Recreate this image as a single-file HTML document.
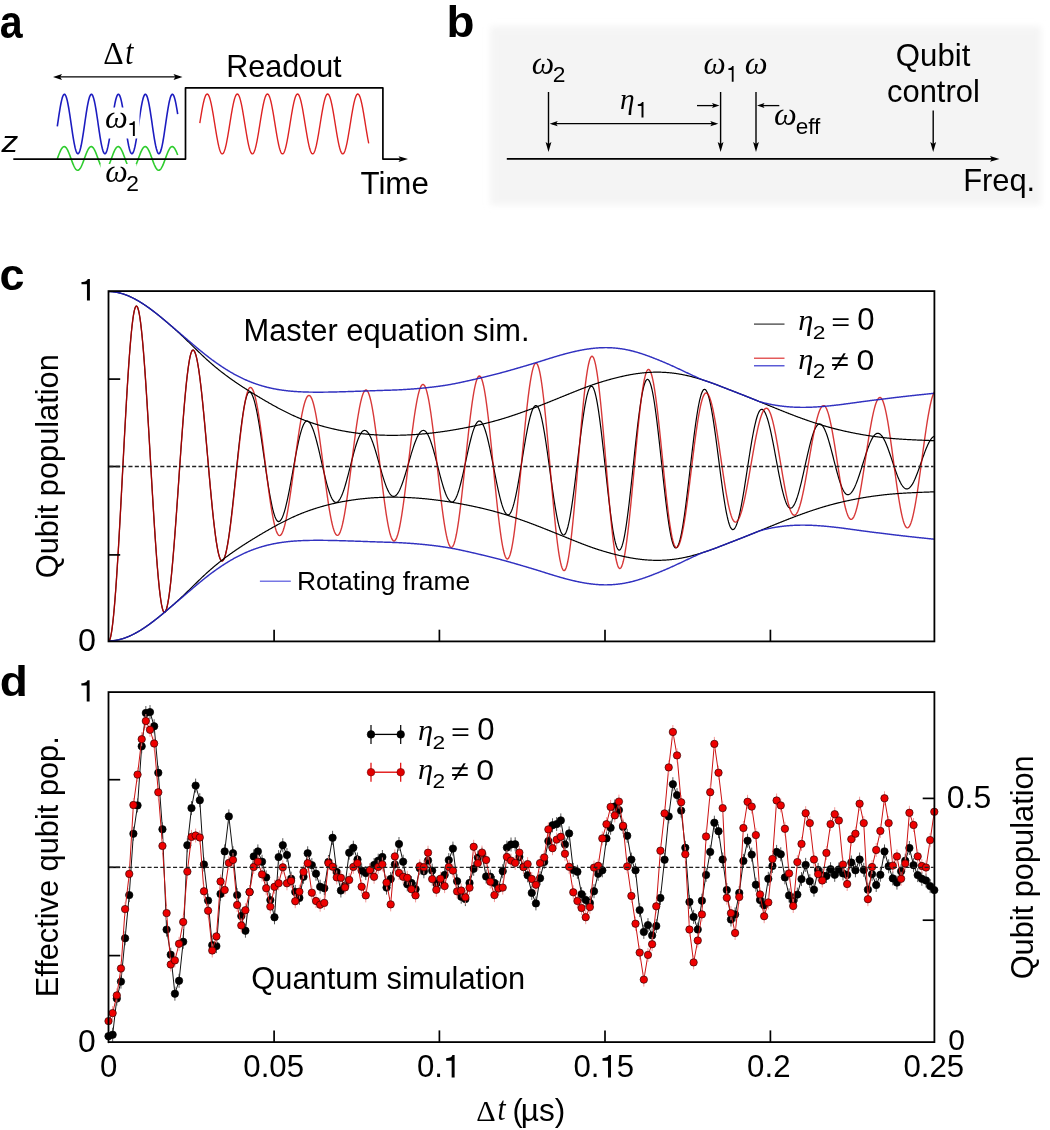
<!DOCTYPE html>
<html><head><meta charset="utf-8"><style>
html,body{margin:0;padding:0;background:#fff;}
svg{display:block;filter:blur(0.45px);}
</style></head><body>
<svg width="1050" height="1130" viewBox="0 0 1050 1130" font-family='"Liberation Sans", sans-serif'>
<text transform="translate(-0.13,37.74) scale(0.4113,0.4618)" font-size="100" font-weight="bold">a</text>
<text transform="translate(103.13,63.90) scale(0.3175,0.3121)" font-size="100" font-family='"Liberation Serif", serif'>Δ</text>
<text transform="translate(125.13,63.74) scale(0.2923,0.3579)" font-size="100" font-family='"Liberation Serif", serif' font-style="italic">t</text>
<line x1="56.00" y1="76.90" x2="180.00" y2="76.90" stroke="#000" stroke-width="1.4" />
<polygon points="53.00,76.90 62.00,73.90 60.20,76.90 62.00,79.90" fill="#000"/>
<polygon points="182.50,76.90 173.50,73.90 175.30,76.90 173.50,79.90" fill="#000"/>
<text x="226.16" y="76.60" font-size="30.54" >Readout</text>
<path d="M57.30,126.42 L57.70,123.64 L58.11,120.86 L58.51,118.11 L58.91,115.41 L59.31,112.79 L59.72,110.26 L60.12,107.86 L60.52,105.60 L60.92,103.50 L61.33,101.58 L61.73,99.85 L62.13,98.34 L62.53,97.05 L62.94,96.00 L63.34,95.20 L63.74,94.65 L64.15,94.35 L64.55,94.32 L64.95,94.54 L65.35,95.03 L65.76,95.77 L66.16,96.75 L66.56,97.98 L66.96,99.43 L67.37,101.10 L67.77,102.97 L68.17,105.03 L68.57,107.25 L68.98,109.62 L69.38,112.11 L69.78,114.71 L70.19,117.39 L70.59,120.13 L70.99,122.90 L71.39,125.68 L71.80,128.45 L72.20,131.18 L72.60,133.84 L73.00,136.42 L73.41,138.89 L73.81,141.23 L74.21,143.42 L74.62,145.44 L75.02,147.27 L75.42,148.89 L75.82,150.30 L76.23,151.47 L76.63,152.41 L77.03,153.09 L77.43,153.53 L77.84,153.70 L78.24,153.61 L78.64,153.26 L79.04,152.65 L79.45,151.80 L79.85,150.69 L80.25,149.36 L80.66,147.80 L81.06,146.04 L81.46,144.08 L81.86,141.94 L82.27,139.65 L82.67,137.21 L83.07,134.67 L83.47,132.03 L83.88,129.32 L84.28,126.56 L84.68,123.78 L85.08,121.00 L85.49,118.25 L85.89,115.55 L86.29,112.92 L86.70,110.39 L87.10,107.98 L87.50,105.71 L87.90,103.60 L88.31,101.67 L88.71,99.94 L89.11,98.41 L89.51,97.11 L89.92,96.05 L90.32,95.23 L90.72,94.67 L91.12,94.36 L91.53,94.31 L91.93,94.53 L92.33,95.00 L92.74,95.72 L93.14,96.70 L93.54,97.91 L93.94,99.35 L94.35,101.01 L94.75,102.87 L95.15,104.92 L95.55,107.13 L95.96,109.49 L96.36,111.98 L96.76,114.57 L97.16,117.25 L97.57,119.99 L97.97,122.76 L98.37,125.54 L98.78,128.31 L99.18,131.04 L99.58,133.71 L99.98,136.29 L100.39,138.77 L100.79,141.11 L101.19,143.31 L101.59,145.34 L102.00,147.18 L102.40,148.81 L102.80,150.23 L103.21,151.42 L103.61,152.37 L104.01,153.07 L104.41,153.51 L104.82,153.69 L105.22,153.62 L105.62,153.28 L106.02,152.69 L106.43,151.85 L106.83,150.76 L107.23,149.43 L107.63,147.89 L108.04,146.13 L108.44,144.18 L108.84,142.05 L109.25,139.77 L109.65,137.34 L110.05,134.80 L110.45,132.17 L110.86,129.46 L111.26,126.70 L111.66,123.92 L112.06,121.14 L112.47,118.39 L112.87,115.69 L113.27,113.05 L113.67,110.52 L114.08,108.10 L114.48,105.82 L114.88,103.71 L115.29,101.77 L115.69,100.02 L116.09,98.49 L116.49,97.18 L116.90,96.10 L117.30,95.27 L117.70,94.69 L118.10,94.37 L118.51,94.31 L118.91,94.51 L119.31,94.97 L119.71,95.68 L120.12,96.64 L120.52,97.84 L120.92,99.27 L121.33,100.92 L121.73,102.77 L122.13,104.81 L122.53,107.01 L122.94,109.37 L123.34,111.85 L123.74,114.44 L124.14,117.11 L124.55,119.84 L124.95,122.61 L125.35,125.40 L125.75,128.17 L126.16,130.90 L126.56,133.57 L126.96,136.16 L127.37,138.64 L127.77,141.00 L128.17,143.20 L128.57,145.24 L128.98,147.09 L129.38,148.73 L129.78,150.16 L130.18,151.36 L130.59,152.32 L130.99,153.04 L131.39,153.49 L131.79,153.69 L132.20,153.63 L132.60,153.31 L133.00,152.73 L133.41,151.90 L133.81,150.82 L134.21,149.51 L134.61,147.97 L135.02,146.23 L135.42,144.29 L135.82,142.17 L136.22,139.89 L136.63,137.47 L137.03,134.93 L137.43,132.30 L137.84,129.60 L138.24,126.84 L138.64,124.07 L139.04,121.29 L139.45,118.53 L139.85,115.82 L140.25,113.19 L140.65,110.65 L141.06,108.22 L141.46,105.94 L141.86,103.81 L142.26,101.86 L142.67,100.11 L143.07,98.56 L143.47,97.24 L143.88,96.15 L144.28,95.31 L144.68,94.72 L145.08,94.38 L145.49,94.31 L145.89,94.49 L146.29,94.94 L146.69,95.64 L147.10,96.59 L147.50,97.77 L147.90,99.19 L148.30,100.83 L148.71,102.67 L149.11,104.70 L149.51,106.90 L149.92,109.24 L150.32,111.72 L150.72,114.30 L151.12,116.97 L151.53,119.70 L151.93,122.47 L152.33,125.25 L152.73,128.02 L153.14,130.76 L153.54,133.44 L153.94,136.03 L154.34,138.52 L154.75,140.88 L155.15,143.09 L155.55,145.14 L155.96,147.00 L156.36,148.65 L156.76,150.10 L157.16,151.31 L157.57,152.28 L157.97,153.01 L158.37,153.48 L158.77,153.69 L159.18,153.64 L159.58,153.33 L159.98,152.76 L160.38,151.94 L160.79,150.88 L161.19,149.58 L161.59,148.06 L162.00,146.32 L162.40,144.39 L162.80,142.28 L163.20,140.01 L163.61,137.60 L164.01,135.07 L164.41,132.44 L164.81,129.74 L165.22,126.99 L165.62,124.21 L166.02,121.43 L166.43,118.67 L166.83,115.96 L167.23,113.32 L167.63,110.78 L168.04,108.34 L168.44,106.05 L168.84,103.92 L169.24,101.96 L169.65,100.19 L170.05,98.63 L170.45,97.30 L170.85,96.20 L171.26,95.34 L171.66,94.74 L172.06,94.39 L172.47,94.30 L172.87,94.48 L173.27,94.91 L173.67,95.59 L174.08,96.53 L174.48,97.71 L174.88,99.12 L175.28,100.74 L175.69,102.57 L176.09,104.59 L176.49,106.78 L176.89,109.12 L177.30,111.59 L177.70,114.17" fill="none" stroke="#1c1cc0" stroke-width="1.6" stroke-linejoin="round" />
<path d="M57.30,158.86 L57.70,157.75 L58.11,156.65 L58.51,155.56 L58.91,154.50 L59.31,153.47 L59.72,152.49 L60.12,151.55 L60.52,150.68 L60.92,149.88 L61.33,149.15 L61.73,148.51 L62.13,147.95 L62.53,147.48 L62.94,147.11 L63.34,146.84 L63.74,146.67 L64.15,146.60 L64.55,146.64 L64.95,146.78 L65.35,147.02 L65.76,147.37 L66.16,147.81 L66.56,148.34 L66.96,148.97 L67.37,149.67 L67.77,150.46 L68.17,151.31 L68.57,152.23 L68.98,153.20 L69.38,154.22 L69.78,155.27 L70.19,156.35 L70.59,157.45 L70.99,158.56 L71.39,159.67 L71.80,160.77 L72.20,161.85 L72.60,162.89 L73.00,163.90 L73.41,164.86 L73.81,165.77 L74.21,166.61 L74.62,167.38 L75.02,168.07 L75.42,168.67 L75.82,169.19 L76.23,169.61 L76.63,169.93 L77.03,170.16 L77.43,170.28 L77.84,170.29 L78.24,170.21 L78.64,170.02 L79.04,169.72 L79.45,169.33 L79.85,168.85 L80.25,168.27 L80.66,167.61 L81.06,166.86 L81.46,166.04 L81.86,165.16 L82.27,164.22 L82.67,163.22 L83.07,162.19 L83.47,161.12 L83.88,160.03 L84.28,158.92 L84.68,157.81 L85.08,156.71 L85.49,155.62 L85.89,154.55 L86.29,153.52 L86.70,152.54 L87.10,151.60 L87.50,150.73 L87.90,149.92 L88.31,149.19 L88.71,148.54 L89.11,147.97 L89.51,147.50 L89.92,147.12 L90.32,146.85 L90.72,146.67 L91.12,146.60 L91.53,146.63 L91.93,146.77 L92.33,147.01 L92.74,147.35 L93.14,147.78 L93.54,148.32 L93.94,148.93 L94.35,149.64 L94.75,150.42 L95.15,151.27 L95.55,152.18 L95.96,153.15 L96.36,154.16 L96.76,155.22 L97.16,156.30 L97.57,157.40 L97.97,158.51 L98.37,159.61 L98.78,160.71 L99.18,161.79 L99.58,162.84 L99.98,163.85 L100.39,164.81 L100.79,165.72 L101.19,166.57 L101.59,167.34 L102.00,168.03 L102.40,168.64 L102.80,169.16 L103.21,169.59 L103.61,169.92 L104.01,170.15 L104.41,170.27 L104.82,170.30 L105.22,170.21 L105.62,170.03 L106.02,169.74 L106.43,169.36 L106.83,168.88 L107.23,168.30 L107.63,167.64 L108.04,166.90 L108.44,166.09 L108.84,165.21 L109.25,164.27 L109.65,163.28 L110.05,162.24 L110.45,161.17 L110.86,160.08 L111.26,158.98 L111.66,157.87 L112.06,156.76 L112.47,155.67 L112.87,154.61 L113.27,153.58 L113.67,152.59 L114.08,151.65 L114.48,150.77 L114.88,149.96 L115.29,149.22 L115.69,148.57 L116.09,148.00 L116.49,147.52 L116.90,147.14 L117.30,146.86 L117.70,146.68 L118.10,146.60 L118.51,146.63 L118.91,146.76 L119.31,146.99 L119.71,147.33 L120.12,147.76 L120.52,148.29 L120.92,148.90 L121.33,149.60 L121.73,150.37 L122.13,151.22 L122.53,152.13 L122.94,153.10 L123.34,154.11 L123.74,155.16 L124.14,156.24 L124.55,157.34 L124.95,158.45 L125.35,159.56 L125.75,160.66 L126.16,161.74 L126.56,162.79 L126.96,163.80 L127.37,164.77 L127.77,165.68 L128.17,166.52 L128.57,167.30 L128.98,168.00 L129.38,168.61 L129.78,169.14 L130.18,169.57 L130.59,169.90 L130.99,170.14 L131.39,170.27 L131.79,170.30 L132.20,170.22 L132.60,170.04 L133.00,169.76 L133.41,169.38 L133.81,168.90 L134.21,168.33 L134.61,167.68 L135.02,166.94 L135.42,166.13 L135.82,165.25 L136.22,164.32 L136.63,163.33 L137.03,162.30 L137.43,161.23 L137.84,160.14 L138.24,159.03 L138.64,157.92 L139.04,156.82 L139.45,155.73 L139.85,154.66 L140.25,153.63 L140.65,152.64 L141.06,151.69 L141.46,150.81 L141.86,150.00 L142.26,149.26 L142.67,148.60 L143.07,148.03 L143.47,147.54 L143.88,147.16 L144.28,146.87 L144.68,146.69 L145.08,146.60 L145.49,146.63 L145.89,146.75 L146.29,146.98 L146.69,147.31 L147.10,147.74 L147.50,148.26 L147.90,148.87 L148.30,149.56 L148.71,150.33 L149.11,151.18 L149.51,152.08 L149.92,153.05 L150.32,154.06 L150.72,155.11 L151.12,156.18 L151.53,157.28 L151.93,158.39 L152.33,159.50 L152.73,160.60 L153.14,161.68 L153.54,162.73 L153.94,163.75 L154.34,164.72 L154.75,165.63 L155.15,166.48 L155.55,167.26 L155.96,167.96 L156.36,168.58 L156.76,169.11 L157.16,169.55 L157.57,169.89 L157.97,170.13 L158.37,170.27 L158.77,170.30 L159.18,170.23 L159.58,170.05 L159.98,169.78 L160.38,169.40 L160.79,168.93 L161.19,168.37 L161.59,167.71 L162.00,166.98 L162.40,166.18 L162.80,165.30 L163.20,164.37 L163.61,163.38 L164.01,162.35 L164.41,161.29 L164.81,160.20 L165.22,159.09 L165.62,157.98 L166.02,156.88 L166.43,155.78 L166.83,154.72 L167.23,153.68 L167.63,152.69 L168.04,151.74 L168.44,150.86 L168.84,150.04 L169.24,149.30 L169.65,148.63 L170.05,148.05 L170.45,147.57 L170.85,147.18 L171.26,146.88 L171.66,146.69 L172.06,146.61 L172.47,146.62 L172.87,146.74 L173.27,146.97 L173.67,147.29 L174.08,147.71 L174.48,148.23 L174.88,148.83 L175.28,149.52 L175.69,150.29 L176.09,151.13 L176.49,152.04 L176.89,153.00 L177.30,154.00 L177.70,155.05" fill="none" stroke="#2ecc2e" stroke-width="1.6" stroke-linejoin="round" />
<path d="M13.30,159.10 L185.50,159.10 L185.50,87.90 L382.90,87.90 L382.90,159.10 L400.00,159.10" fill="none" stroke="#000" stroke-width="1.7" stroke-linejoin="round" />
<polygon points="408.00,159.10 398.50,156.30 400.40,159.10 398.50,161.90" fill="#000"/>
<path d="M199.80,123.14 L200.22,120.50 L200.65,117.89 L201.07,115.33 L201.49,112.83 L201.92,110.42 L202.34,108.12 L202.76,105.94 L203.19,103.90 L203.61,102.01 L204.03,100.30 L204.46,98.77 L204.88,97.44 L205.30,96.31 L205.73,95.40 L206.15,94.72 L206.57,94.26 L207.00,94.03 L207.42,94.03 L207.84,94.27 L208.27,94.74 L208.69,95.43 L209.11,96.35 L209.54,97.49 L209.96,98.83 L210.38,100.36 L210.81,102.08 L211.23,103.97 L211.65,106.02 L212.08,108.20 L212.50,110.51 L212.92,112.92 L213.35,115.42 L213.77,117.99 L214.19,120.60 L214.62,123.24 L215.04,125.88 L215.46,128.51 L215.89,131.10 L216.31,133.64 L216.73,136.10 L217.16,138.47 L217.58,140.72 L218.00,142.84 L218.43,144.82 L218.85,146.63 L219.27,148.27 L219.70,149.72 L220.12,150.96 L220.54,152.00 L220.97,152.81 L221.39,153.41 L221.81,153.77 L222.24,153.90 L222.66,153.80 L223.08,153.46 L223.51,152.90 L223.93,152.10 L224.35,151.09 L224.78,149.87 L225.20,148.45 L225.62,146.83 L226.05,145.04 L226.47,143.08 L226.89,140.97 L227.32,138.74 L227.74,136.38 L228.16,133.93 L228.58,131.40 L229.01,128.81 L229.43,126.19 L229.85,123.54 L230.28,120.91 L230.70,118.29 L231.12,115.72 L231.55,113.21 L231.97,110.79 L232.39,108.47 L232.82,106.26 L233.24,104.20 L233.66,102.29 L234.09,100.55 L234.51,99.00 L234.93,97.63 L235.36,96.47 L235.78,95.53 L236.20,94.81 L236.63,94.31 L237.05,94.05 L237.47,94.02 L237.90,94.22 L238.32,94.65 L238.74,95.31 L239.17,96.20 L239.59,97.30 L240.01,98.61 L240.44,100.11 L240.86,101.81 L241.28,103.67 L241.71,105.69 L242.13,107.86 L242.55,110.15 L242.98,112.55 L243.40,115.03 L243.82,117.59 L244.25,120.19 L244.67,122.83 L245.09,125.47 L245.52,128.11 L245.94,130.71 L246.36,133.25 L246.79,135.73 L247.21,138.11 L247.63,140.38 L248.06,142.53 L248.48,144.53 L248.90,146.36 L249.33,148.03 L249.75,149.51 L250.17,150.78 L250.60,151.85 L251.02,152.70 L251.44,153.33 L251.87,153.73 L252.29,153.89 L252.71,153.83 L253.14,153.53 L253.56,153.00 L253.98,152.24 L254.41,151.26 L254.83,150.07 L255.25,148.68 L255.68,147.09 L256.10,145.33 L256.52,143.39 L256.95,141.31 L257.37,139.09 L257.79,136.75 L258.22,134.31 L258.64,131.79 L259.06,129.21 L259.49,126.59 L259.91,123.95 L260.33,121.31 L260.76,118.69 L261.18,116.11 L261.60,113.59 L262.03,111.15 L262.45,108.82 L262.87,106.59 L263.30,104.51 L263.72,102.58 L264.14,100.81 L264.57,99.22 L264.99,97.83 L265.41,96.64 L265.84,95.66 L266.26,94.90 L266.68,94.37 L267.11,94.07 L267.53,94.01 L267.95,94.17 L268.38,94.57 L268.80,95.20 L269.22,96.05 L269.65,97.12 L270.07,98.39 L270.49,99.87 L270.92,101.53 L271.34,103.37 L271.76,105.37 L272.19,107.52 L272.61,109.79 L273.03,112.17 L273.46,114.65 L273.88,117.19 L274.30,119.79 L274.73,122.42 L275.15,125.07 L275.57,127.70 L276.00,130.31 L276.42,132.86 L276.84,135.35 L277.27,137.75 L277.69,140.04 L278.11,142.20 L278.54,144.23 L278.96,146.09 L279.38,147.78 L279.81,149.29 L280.23,150.60 L280.65,151.70 L281.08,152.59 L281.50,153.25 L281.92,153.68 L282.35,153.88 L282.77,153.85 L283.19,153.59 L283.62,153.09 L284.04,152.37 L284.46,151.43 L284.88,150.27 L285.31,148.91 L285.73,147.35 L286.15,145.61 L286.58,143.70 L287.00,141.64 L287.42,139.44 L287.85,137.12 L288.27,134.69 L288.69,132.18 L289.12,129.61 L289.54,127.00 L289.96,124.36 L290.39,121.72 L290.81,119.09 L291.23,116.50 L291.66,113.97 L292.08,111.52 L292.50,109.17 L292.93,106.93 L293.35,104.82 L293.77,102.86 L294.20,101.07 L294.62,99.45 L295.04,98.03 L295.47,96.81 L295.89,95.80 L296.31,95.01 L296.74,94.44 L297.16,94.10 L297.58,94.00 L298.01,94.13 L298.43,94.49 L298.85,95.08 L299.28,95.90 L299.70,96.94 L300.12,98.18 L300.55,99.63 L300.97,101.27 L301.39,103.08 L301.82,105.05 L302.24,107.18 L302.66,109.43 L303.09,111.80 L303.51,114.26 L303.93,116.80 L304.36,119.39 L304.78,122.02 L305.20,124.66 L305.63,127.30 L306.05,129.91 L306.47,132.48 L306.90,134.97 L307.32,137.39 L307.74,139.70 L308.17,141.88 L308.59,143.93 L309.01,145.82 L309.44,147.54 L309.86,149.07 L310.28,150.41 L310.71,151.55 L311.13,152.47 L311.55,153.16 L311.98,153.63 L312.40,153.87 L312.82,153.87 L313.25,153.64 L313.67,153.18 L314.09,152.50 L314.52,151.59 L314.94,150.46 L315.36,149.13 L315.79,147.60 L316.21,145.89 L316.63,144.00 L317.06,141.96 L317.48,139.78 L317.90,137.48 L318.33,135.07 L318.75,132.58 L319.17,130.01 L319.60,127.40 L320.02,124.76 L320.44,122.12 L320.87,119.49 L321.29,116.90 L321.71,114.36 L322.14,111.89 L322.56,109.52 L322.98,107.26 L323.41,105.14 L323.83,103.15 L324.25,101.33 L324.68,99.69 L325.10,98.24 L325.52,96.98 L325.95,95.94 L326.37,95.11 L326.79,94.51 L327.22,94.14 L327.64,94.00 L328.06,94.10 L328.49,94.42 L328.91,94.98 L329.33,95.76 L329.76,96.76 L330.18,97.98 L330.60,99.39 L331.03,101.00 L331.45,102.79 L331.87,104.74 L332.30,106.84 L332.72,109.08 L333.14,111.43 L333.57,113.88 L333.99,116.40 L334.41,118.99 L334.84,121.61 L335.26,124.25 L335.68,126.89 L336.11,129.51 L336.53,132.08 L336.95,134.59 L337.38,137.02 L337.80,139.35 L338.22,141.55 L338.65,143.62 L339.07,145.54 L339.49,147.28 L339.92,148.85 L340.34,150.22 L340.76,151.39 L341.18,152.34 L341.61,153.07 L342.03,153.57 L342.45,153.85 L342.88,153.89 L343.30,153.69 L343.72,153.27 L344.15,152.62 L344.57,151.74 L344.99,150.65 L345.42,149.35 L345.84,147.85 L346.26,146.16 L346.69,144.30 L347.11,142.29 L347.53,140.13 L347.96,137.84 L348.38,135.45 L348.80,132.96 L349.23,130.41 L349.65,127.81 L350.07,125.17 L350.50,122.53 L350.92,119.89 L351.34,117.29 L351.77,114.74 L352.19,112.27 L352.61,109.88 L353.04,107.60 L353.46,105.45 L353.88,103.45 L354.31,101.60 L354.73,99.93 L355.15,98.45 L355.58,97.16 L356.00,96.08 L356.42,95.23 L356.85,94.59 L357.27,94.18 L357.69,94.01 L358.12,94.07 L358.54,94.36 L358.96,94.88 L359.39,95.63 L359.81,96.60 L360.23,97.78 L360.66,99.16 L361.08,100.74 L361.50,102.50 L361.93,104.43 L362.35,106.51 L362.77,108.73 L363.20,111.06 L363.62,113.49 L364.04,116.01 L364.47,118.59 L364.89,121.21 L365.31,123.85 L365.74,126.49 L366.16,129.11 L366.58,131.69 L367.01,134.21 L367.43,136.66 L367.85,139.00 L368.28,141.22 L368.70,143.31" fill="none" stroke="#dd2222" stroke-width="1.4" stroke-linejoin="round" />
<rect x="105.5" y="107.5" width="34" height="31" fill="#fff"/>
<text x="105.03" y="128.30" font-size="32.22" font-family='"Liberation Serif", serif' font-style="italic">ω</text>
<path transform="translate(127.41,136.00) scale(19.926,20.531)" d="M0.371,0 L0.371,-0.716 L0.300,-0.716 C0.285,-0.66 0.24,-0.625 0.10,-0.612 L0.10,-0.537 L0.276,-0.537 L0.276,0 Z" fill="#000"/>
<rect x="100.5" y="164" width="36" height="28" fill="#fff"/>
<text x="105.24" y="182.40" font-size="31.90" font-family='"Liberation Serif", serif' font-style="italic">ω</text>
<text x="126.36" y="191.40" font-size="22.80" >2</text>
<text transform="translate(1.44,151.60) scale(0.3360,0.2887)" font-size="100" font-style="italic">z</text>
<text x="360.47" y="193.50" font-size="31.27" >Time</text>
<text transform="translate(446.49,37.46) scale(0.4580,0.4351)" font-size="100" font-weight="bold">b</text>
<defs><filter id="blr" x="-5%" y="-10%" width="110%" height="120%"><feGaussianBlur stdDeviation="3.1"/></filter></defs>
<rect x="490.5" y="26.5" width="550.5" height="178.5" fill="#f4f4f4" filter="url(#blr)"/>
<line x1="506.80" y1="158.90" x2="992.00" y2="158.90" stroke="#000" stroke-width="1.7" />
<polygon points="999.50,158.90 990.00,156.10 991.90,158.90 990.00,161.70" fill="#000"/>
<line x1="548.50" y1="92.00" x2="548.50" y2="145.00" stroke="#000" stroke-width="1.4" />
<polygon points="548.50,152.00 545.60,142.00 548.50,144.00 551.40,142.00" fill="#000"/>
<line x1="720.60" y1="92.00" x2="720.60" y2="145.00" stroke="#000" stroke-width="1.4" />
<polygon points="720.60,152.00 717.70,142.00 720.60,144.00 723.50,142.00" fill="#000"/>
<line x1="756.00" y1="92.00" x2="756.00" y2="145.00" stroke="#000" stroke-width="1.4" />
<polygon points="756.00,152.00 753.10,142.00 756.00,144.00 758.90,142.00" fill="#000"/>
<line x1="933.20" y1="110.50" x2="933.20" y2="145.00" stroke="#000" stroke-width="1.4" />
<polygon points="933.20,152.00 930.30,142.00 933.20,144.00 936.10,142.00" fill="#000"/>
<line x1="552.00" y1="123.70" x2="716.00" y2="123.70" stroke="#000" stroke-width="1.3" />
<polygon points="549.70,123.70 557.70,121.10 556.10,123.70 557.70,126.30" fill="#000"/>
<polygon points="718.30,123.70 710.30,121.10 711.90,123.70 710.30,126.30" fill="#000"/>
<line x1="697.00" y1="105.60" x2="714.00" y2="105.60" stroke="#000" stroke-width="1.3" />
<polygon points="719.50,105.60 712.00,103.10 713.50,105.60 712.00,108.10" fill="#000"/>
<line x1="762.00" y1="105.60" x2="779.30" y2="105.60" stroke="#000" stroke-width="1.3" />
<polygon points="757.00,105.60 764.50,103.10 763.00,105.60 764.50,108.10" fill="#000"/>
<text x="531.65" y="73.80" font-size="31.75" font-family='"Liberation Serif", serif' font-style="italic">ω</text>
<text x="552.66" y="82.00" font-size="22.80" >2</text>
<text x="703.56" y="73.90" font-size="31.43" font-family='"Liberation Serif", serif' font-style="italic">ω</text>
<path transform="translate(726.48,81.70) scale(19.188,21.788)" d="M0.371,0 L0.371,-0.716 L0.300,-0.716 C0.285,-0.66 0.24,-0.625 0.10,-0.612 L0.10,-0.537 L0.276,-0.537 L0.276,0 Z" fill="#000"/>
<text x="744.83" y="73.90" font-size="32.38" font-family='"Liberation Serif", serif' font-style="italic">ω</text>
<text x="619.92" y="108.72" font-size="29.40" font-family='"Liberation Serif", serif' font-style="italic">η</text>
<path transform="translate(635.70,117.50) scale(21.033,21.508)" d="M0.371,0 L0.371,-0.716 L0.300,-0.716 C0.285,-0.66 0.24,-0.625 0.10,-0.612 L0.10,-0.537 L0.276,-0.537 L0.276,0 Z" fill="#000"/>
<text x="774.03" y="125.20" font-size="32.22" font-family='"Liberation Serif", serif' font-style="italic">ω</text>
<text x="795.70" y="134.00" font-size="22.57" >eff</text>
<text x="895.84" y="65.70" font-size="31.16" >Qubit</text>
<text x="887.06" y="102.40" font-size="30.90" >control</text>
<text x="963.13" y="191.00" font-size="30.88" >Freq.</text>
<text transform="translate(-0.40,290.36) scale(0.4490,0.4400)" font-size="100" font-weight="bold">c</text>
<text transform="translate(-0.34,695.57) scale(0.4600,0.4297)" font-size="100" font-weight="bold">d</text>
<path transform="translate(78.40,300.40) scale(30.996,29.888)" d="M0.371,0 L0.371,-0.716 L0.300,-0.716 C0.285,-0.66 0.24,-0.625 0.10,-0.612 L0.10,-0.537 L0.276,-0.537 L0.276,0 Z" fill="#000"/>
<text transform="translate(78.01,651.49) scale(0.3229,0.3113)" font-size="100" >0</text>
<path transform="translate(78.37,701.40) scale(30.258,29.469)" d="M0.371,0 L0.371,-0.716 L0.300,-0.716 C0.285,-0.66 0.24,-0.625 0.10,-0.612 L0.10,-0.537 L0.276,-0.537 L0.276,0 Z" fill="#000"/>
<text transform="translate(78.02,1051.99) scale(0.3187,0.3113)" font-size="100" >0</text>
<text transform="translate(57.90,578.24) rotate(-90)" font-size="30.78" >Qubit population</text>
<text transform="translate(57.90,997.36) rotate(-90)" font-size="30.77" >Effective qubit pop.</text>
<text transform="translate(1032.80,979.34) rotate(-90)" font-size="30.78" >Qubit population</text>
<text x="946.82" y="807.90" font-size="31.98" >0.5</text>
<text transform="translate(948.30,1050.30) scale(0.3000,0.3042)" font-size="100" >0</text>
<text x="99.93" y="1077.40" font-size="31.2">0</text>
<text x="243.29" y="1077.40" font-size="31.2">0</text>
<text x="260.64" y="1077.40" font-size="31.2">.</text>
<text x="269.31" y="1077.40" font-size="31.2">0</text>
<text x="286.66" y="1077.40" font-size="31.2">5</text>
<text x="417.02" y="1077.40" font-size="31.2">0</text>
<text x="434.36" y="1077.40" font-size="31.2">.</text>
<path transform="translate(443.04,1077.40) scale(31.200)" d="M0.371,0 L0.371,-0.716 L0.300,-0.716 C0.285,-0.66 0.24,-0.625 0.10,-0.612 L0.10,-0.537 L0.276,-0.537 L0.276,0 Z" fill="#000"/>
<text x="573.39" y="1077.40" font-size="31.2">0</text>
<text x="590.74" y="1077.40" font-size="31.2">.</text>
<path transform="translate(599.41,1077.40) scale(31.200)" d="M0.371,0 L0.371,-0.716 L0.300,-0.716 C0.285,-0.66 0.24,-0.625 0.10,-0.612 L0.10,-0.537 L0.276,-0.537 L0.276,0 Z" fill="#000"/>
<text x="616.76" y="1077.40" font-size="31.2">5</text>
<text x="747.12" y="1077.40" font-size="31.2">0</text>
<text x="764.46" y="1077.40" font-size="31.2">.</text>
<text x="773.14" y="1077.40" font-size="31.2">2</text>
<text x="903.49" y="1077.40" font-size="31.2">0</text>
<text x="920.84" y="1077.40" font-size="31.2">.</text>
<text x="929.51" y="1077.40" font-size="31.2">2</text>
<text x="946.86" y="1077.40" font-size="31.2">5</text>
<text transform="translate(476.29,1120.60) scale(0.3018,0.2970)" font-size="100" font-family='"Liberation Serif", serif'>Δ</text>
<text transform="translate(497.53,1120.46) scale(0.2923,0.3386)" font-size="100" font-family='"Liberation Serif", serif' font-style="italic">t</text>
<text x="512.55" y="1120.80" font-size="30.80" >(</text>
<text x="520.79" y="1120.80" font-size="31.56" >µs)</text>
<text x="243.48" y="341.20" font-size="30.84" >Master equation sim.</text>
<text x="251.36" y="989.20" font-size="30.80" >Quantum simulation</text>
<text x="296.99" y="589.50" font-size="26.41" >Rotating frame</text>
<line x1="259.90" y1="581.20" x2="290.80" y2="581.20" stroke="#5555dd" stroke-width="1.2" />
<line x1="754.00" y1="324.10" x2="784.50" y2="324.10" stroke="#333" stroke-width="1.2" />
<line x1="754.00" y1="358.20" x2="784.50" y2="358.20" stroke="#dd3333" stroke-width="1.2" />
<line x1="754.00" y1="365.80" x2="784.50" y2="365.80" stroke="#3333cc" stroke-width="1.2" />
<text transform="translate(798.18,329.92) scale(0.3049,0.2897)" font-size="100" font-family='"Liberation Serif", serif' font-style="italic">η</text>
<text transform="translate(812.66,338.60) scale(0.2283,0.1900)" font-size="100" >2</text>
<text transform="translate(831.18,330.19) scale(0.3245,0.2406)" font-size="100" >=</text>
<text transform="translate(857.36,330.09) scale(0.3104,0.3070)" font-size="100" >0</text>
<text transform="translate(798.18,369.32) scale(0.3049,0.2897)" font-size="100" font-family='"Liberation Serif", serif' font-style="italic">η</text>
<text transform="translate(812.66,377.60) scale(0.2283,0.1971)" font-size="100" >2</text>
<text transform="translate(831.03,370.63) scale(0.3224,0.2783)" font-size="100" >≠</text>
<text transform="translate(856.42,370.00) scale(0.3208,0.3028)" font-size="100" >0</text>
<text transform="translate(418.08,740.02) scale(0.3049,0.2897)" font-size="100" font-family='"Liberation Serif", serif' font-style="italic">η</text>
<text transform="translate(432.56,748.70) scale(0.2283,0.1900)" font-size="100" >2</text>
<text transform="translate(451.08,740.29) scale(0.3245,0.2406)" font-size="100" >=</text>
<text transform="translate(477.26,740.19) scale(0.3104,0.3070)" font-size="100" >0</text>
<text transform="translate(418.08,779.42) scale(0.3049,0.2897)" font-size="100" font-family='"Liberation Serif", serif' font-style="italic">η</text>
<text transform="translate(432.56,787.70) scale(0.2283,0.1971)" font-size="100" >2</text>
<text transform="translate(450.93,780.74) scale(0.3224,0.2783)" font-size="100" >≠</text>
<text transform="translate(476.32,780.10) scale(0.3208,0.3028)" font-size="100" >0</text>
<clipPath id="clipc"><rect x="108.5" y="288.1" width="825.9" height="353.29999999999995"/></clipPath>
<g clip-path="url(#clipc)">
<path d="M108.60,641.20 L109.31,640.66 L110.03,639.03 L110.74,636.33 L111.45,632.57 L112.16,627.79 L112.88,622.00 L113.59,615.25 L114.30,607.59 L115.02,599.05 L115.73,589.70 L116.44,579.60 L117.15,568.81 L117.87,557.40 L118.58,545.45 L119.29,533.03 L120.01,520.23 L120.72,507.12 L121.43,493.80 L122.14,480.35 L122.86,466.85 L123.57,453.40 L124.28,440.08 L124.99,426.97 L125.71,414.17 L126.42,401.75 L127.13,389.80 L127.85,378.39 L128.56,367.60 L129.27,357.50 L129.98,348.15 L130.70,339.61 L131.41,331.95 L132.12,325.20 L132.84,319.41 L133.55,314.63 L134.26,310.87 L134.97,308.17 L135.69,306.54 L136.40,306.00 L137.10,306.47 L137.80,307.89 L138.50,310.23 L139.20,313.50 L139.90,317.66 L140.60,322.70 L141.30,328.58 L142.00,335.26 L142.70,342.71 L143.40,350.87 L144.10,359.70 L144.80,369.15 L145.50,379.15 L146.20,389.65 L146.90,400.57 L147.60,411.86 L148.30,423.44 L149.00,435.23 L149.70,447.18 L150.40,459.20 L151.10,471.22 L151.80,483.17 L152.50,494.96 L153.20,506.54 L153.90,517.83 L154.60,528.75 L155.30,539.25 L156.00,549.25 L156.70,558.70 L157.40,567.53 L158.10,575.69 L158.80,583.14 L159.50,589.82 L160.20,595.70 L160.90,600.74 L161.60,604.90 L162.30,608.17 L163.00,610.51 L163.70,611.93 L164.40,612.40 L165.12,612.00 L165.83,610.78 L166.55,608.77 L167.26,605.98 L167.97,602.41 L168.69,598.10 L169.41,593.07 L170.12,587.34 L170.84,580.97 L171.55,573.97 L172.27,566.41 L172.98,558.32 L173.69,549.75 L174.41,540.76 L175.12,531.41 L175.84,521.74 L176.56,511.83 L177.27,501.72 L177.99,491.49 L178.70,481.20 L179.41,470.91 L180.13,460.68 L180.84,450.57 L181.56,440.66 L182.28,430.99 L182.99,421.64 L183.71,412.65 L184.42,404.08 L185.13,395.99 L185.85,388.43 L186.56,381.43 L187.28,375.06 L188.00,369.33 L188.71,364.30 L189.43,359.99 L190.14,356.42 L190.85,353.63 L191.57,351.62 L192.28,350.40 L193.00,350.00 L193.71,350.31 L194.41,351.24 L195.12,352.78 L195.83,354.92 L196.54,357.65 L197.24,360.95 L197.95,364.82 L198.66,369.21 L199.37,374.11 L200.07,379.48 L200.78,385.31 L201.49,391.54 L202.20,398.15 L202.90,405.10 L203.61,412.34 L204.32,419.84 L205.02,427.54 L205.73,435.41 L206.44,443.40 L207.15,451.46 L207.85,459.54 L208.56,467.60 L209.27,475.59 L209.98,483.46 L210.68,491.16 L211.39,498.66 L212.10,505.90 L212.80,512.85 L213.51,519.46 L214.22,525.69 L214.93,531.52 L215.63,536.89 L216.34,541.79 L217.05,546.18 L217.76,550.05 L218.46,553.35 L219.17,556.08 L219.88,558.22 L220.59,559.76 L221.29,560.69 L222.00,561.00 L222.70,560.73 L223.41,559.91 L224.11,558.54 L224.81,556.65 L225.51,554.24 L226.22,551.32 L226.92,547.92 L227.62,544.05 L228.32,539.75 L229.03,535.04 L229.73,529.94 L230.43,524.50 L231.13,518.75 L231.84,512.72 L232.54,506.46 L233.24,500.01 L233.94,493.40 L234.65,486.69 L235.35,479.90 L236.05,473.10 L236.75,466.31 L237.46,459.60 L238.16,452.99 L238.86,446.54 L239.56,440.28 L240.27,434.25 L240.97,428.50 L241.67,423.06 L242.37,417.96 L243.08,413.25 L243.78,408.95 L244.48,405.08 L245.18,401.68 L245.89,398.76 L246.59,396.35 L247.29,394.46 L247.99,393.09 L248.70,392.27 L249.40,392.00 L250.11,392.19 L250.82,392.76 L251.54,393.70 L252.25,395.02 L252.96,396.70 L253.67,398.73 L254.39,401.10 L255.10,403.80 L255.81,406.81 L256.52,410.11 L257.23,413.69 L257.95,417.52 L258.66,421.58 L259.37,425.84 L260.08,430.29 L260.80,434.90 L261.51,439.63 L262.22,444.46 L262.93,449.37 L263.64,454.32 L264.36,459.28 L265.07,464.23 L265.78,469.14 L266.49,473.97 L267.20,478.70 L267.92,483.31 L268.63,487.76 L269.34,492.02 L270.05,496.08 L270.77,499.91 L271.48,503.49 L272.19,506.79 L272.90,509.80 L273.61,512.50 L274.33,514.87 L275.04,516.90 L275.75,518.58 L276.46,519.90 L277.18,520.84 L277.89,521.41 L278.60,521.60 L279.31,521.44 L280.02,520.98 L280.73,520.21 L281.44,519.14 L282.15,517.77 L282.86,516.12 L283.57,514.19 L284.28,511.99 L284.99,509.55 L285.70,506.87 L286.41,503.97 L287.12,500.87 L287.83,497.58 L288.54,494.14 L289.25,490.55 L289.96,486.84 L290.67,483.04 L291.38,479.17 L292.09,475.25 L292.80,471.30 L293.51,467.35 L294.22,463.43 L294.93,459.56 L295.64,455.76 L296.35,452.05 L297.06,448.46 L297.77,445.02 L298.48,441.73 L299.19,438.63 L299.90,435.73 L300.61,433.05 L301.32,430.61 L302.03,428.41 L302.74,426.48 L303.45,424.83 L304.16,423.46 L304.87,422.39 L305.58,421.62 L306.29,421.16 L307.00,421.00 L307.71,421.12 L308.41,421.48 L309.12,422.07 L309.83,422.90 L310.54,423.95 L311.24,425.23 L311.95,426.72 L312.66,428.41 L313.37,430.30 L314.07,432.37 L314.78,434.62 L315.49,437.03 L316.20,439.58 L316.90,442.26 L317.61,445.05 L318.32,447.94 L319.02,450.92 L319.73,453.95 L320.44,457.03 L321.15,460.14 L321.85,463.26 L322.56,466.37 L323.27,469.45 L323.98,472.48 L324.68,475.46 L325.39,478.35 L326.10,481.14 L326.80,483.82 L327.51,486.37 L328.22,488.78 L328.93,491.03 L329.63,493.10 L330.34,494.99 L331.05,496.68 L331.76,498.17 L332.46,499.45 L333.17,500.50 L333.88,501.33 L334.59,501.92 L335.29,502.28 L336.00,502.40 L336.71,502.29 L337.43,501.96 L338.14,501.41 L338.86,500.64 L339.57,499.66 L340.29,498.48 L341.00,497.10 L341.72,495.52 L342.44,493.77 L343.15,491.86 L343.87,489.78 L344.58,487.56 L345.30,485.21 L346.01,482.74 L346.73,480.18 L347.44,477.52 L348.16,474.80 L348.87,472.03 L349.59,469.22 L350.30,466.40 L351.01,463.58 L351.73,460.77 L352.44,458.00 L353.16,455.28 L353.88,452.62 L354.59,450.06 L355.31,447.59 L356.02,445.24 L356.74,443.02 L357.45,440.94 L358.17,439.03 L358.88,437.28 L359.60,435.70 L360.31,434.32 L361.03,433.14 L361.74,432.16 L362.46,431.39 L363.17,430.84 L363.89,430.51 L364.60,430.40 L365.31,430.50 L366.01,430.79 L366.72,431.27 L367.43,431.94 L368.14,432.79 L368.84,433.83 L369.55,435.03 L370.26,436.41 L370.97,437.94 L371.67,439.62 L372.38,441.44 L373.09,443.39 L373.80,445.46 L374.50,447.64 L375.21,449.90 L375.92,452.25 L376.62,454.66 L377.33,457.12 L378.04,459.62 L378.75,462.14 L379.45,464.66 L380.16,467.18 L380.87,469.68 L381.58,472.14 L382.28,474.55 L382.99,476.90 L383.70,479.16 L384.40,481.34 L385.11,483.41 L385.82,485.36 L386.53,487.18 L387.23,488.86 L387.94,490.39 L388.65,491.77 L389.36,492.97 L390.06,494.01 L390.77,494.86 L391.48,495.53 L392.19,496.01 L392.89,496.30 L393.60,496.40 L394.31,496.31 L395.02,496.03 L395.73,495.57 L396.44,494.93 L397.15,494.12 L397.86,493.13 L398.57,491.98 L399.28,490.67 L399.99,489.20 L400.70,487.59 L401.40,485.85 L402.11,483.98 L402.82,481.99 L403.53,479.90 L404.24,477.72 L404.95,475.46 L405.66,473.13 L406.37,470.74 L407.08,468.32 L407.79,465.87 L408.50,463.40 L409.21,460.93 L409.92,458.48 L410.63,456.06 L411.34,453.67 L412.05,451.34 L412.76,449.08 L413.47,446.90 L414.18,444.81 L414.89,442.82 L415.60,440.95 L416.30,439.21 L417.01,437.60 L417.72,436.13 L418.43,434.82 L419.14,433.67 L419.85,432.68 L420.56,431.87 L421.27,431.23 L421.98,430.77 L422.69,430.49 L423.40,430.40 L424.11,430.51 L424.83,430.84 L425.54,431.39 L426.26,432.15 L426.97,433.13 L427.69,434.30 L428.40,435.68 L429.12,437.24 L429.83,438.98 L430.55,440.89 L431.26,442.95 L431.98,445.16 L432.69,447.49 L433.41,449.95 L434.12,452.50 L434.84,455.14 L435.56,457.84 L436.27,460.60 L436.99,463.39 L437.70,466.20 L438.41,469.01 L439.13,471.80 L439.84,474.56 L440.56,477.26 L441.27,479.90 L441.99,482.45 L442.70,484.91 L443.42,487.24 L444.13,489.45 L444.85,491.51 L445.56,493.42 L446.28,495.16 L447.00,496.72 L447.71,498.10 L448.43,499.27 L449.14,500.25 L449.86,501.01 L450.57,501.56 L451.29,501.89 L452.00,502.00 L452.70,501.87 L453.41,501.48 L454.11,500.82 L454.81,499.92 L455.51,498.76 L456.22,497.36 L456.92,495.73 L457.62,493.88 L458.32,491.81 L459.03,489.56 L459.73,487.11 L460.43,484.51 L461.13,481.75 L461.84,478.86 L462.54,475.86 L463.24,472.77 L463.94,469.60 L464.65,466.38 L465.35,463.13 L466.05,459.87 L466.75,456.62 L467.46,453.40 L468.16,450.23 L468.86,447.14 L469.56,444.14 L470.27,441.25 L470.97,438.49 L471.67,435.89 L472.37,433.44 L473.08,431.19 L473.78,429.12 L474.48,427.27 L475.18,425.64 L475.89,424.24 L476.59,423.08 L477.29,422.18 L477.99,421.52 L478.70,421.13 L479.40,421.00 L480.10,421.14 L480.80,421.55 L481.50,422.23 L482.20,423.19 L482.90,424.40 L483.60,425.88 L484.30,427.59 L485.00,429.55 L485.70,431.73 L486.40,434.12 L487.10,436.71 L487.80,439.49 L488.50,442.43 L489.20,445.52 L489.90,448.74 L490.60,452.08 L491.30,455.51 L492.00,459.01 L492.70,462.57 L493.40,466.15 L494.10,469.75 L494.80,473.33 L495.50,476.89 L496.20,480.39 L496.90,483.82 L497.60,487.16 L498.30,490.38 L499.00,493.47 L499.70,496.41 L500.40,499.19 L501.10,501.78 L501.80,504.17 L502.50,506.35 L503.20,508.31 L503.90,510.02 L504.60,511.50 L505.30,512.71 L506.00,513.67 L506.70,514.35 L507.40,514.76 L508.10,514.90 L508.82,514.72 L509.53,514.19 L510.25,513.31 L510.96,512.08 L511.68,510.52 L512.39,508.63 L513.11,506.43 L513.82,503.93 L514.54,501.14 L515.25,498.09 L515.97,494.79 L516.68,491.27 L517.40,487.55 L518.12,483.65 L518.83,479.60 L519.55,475.42 L520.26,471.14 L520.98,466.79 L521.69,462.40 L522.41,458.00 L523.12,453.61 L523.84,449.26 L524.55,444.98 L525.27,440.80 L525.98,436.75 L526.70,432.85 L527.42,429.13 L528.13,425.61 L528.85,422.31 L529.56,419.26 L530.28,416.47 L530.99,413.97 L531.71,411.77 L532.42,409.88 L533.14,408.32 L533.85,407.09 L534.57,406.21 L535.28,405.68 L536.00,405.50 L536.71,405.71 L537.42,406.34 L538.13,407.38 L538.84,408.83 L539.55,410.68 L540.26,412.92 L540.97,415.52 L541.68,418.49 L542.39,421.78 L543.10,425.40 L543.81,429.30 L544.52,433.47 L545.23,437.88 L545.94,442.49 L546.65,447.29 L547.36,452.24 L548.07,457.30 L548.78,462.45 L549.49,467.64 L550.21,472.86 L550.92,478.05 L551.63,483.20 L552.34,488.26 L553.05,493.21 L553.76,498.01 L554.47,502.62 L555.18,507.03 L555.89,511.20 L556.60,515.10 L557.31,518.72 L558.02,522.01 L558.73,524.98 L559.44,527.58 L560.15,529.82 L560.86,531.67 L561.57,533.12 L562.28,534.16 L562.99,534.79 L563.70,535.00 L564.41,534.76 L565.13,534.04 L565.84,532.84 L566.55,531.17 L567.26,529.05 L567.98,526.48 L568.69,523.48 L569.40,520.08 L570.12,516.29 L570.83,512.14 L571.54,507.65 L572.25,502.86 L572.97,497.80 L573.68,492.49 L574.39,486.98 L575.11,481.30 L575.82,475.48 L576.53,469.57 L577.24,463.60 L577.96,457.60 L578.67,451.63 L579.38,445.72 L580.09,439.90 L580.81,434.22 L581.52,428.71 L582.23,423.40 L582.95,418.34 L583.66,413.55 L584.37,409.06 L585.08,404.91 L585.80,401.12 L586.51,397.72 L587.22,394.72 L587.94,392.15 L588.65,390.03 L589.36,388.36 L590.07,387.16 L590.79,386.44 L591.50,386.20 L592.21,386.47 L592.92,387.26 L593.63,388.58 L594.34,390.42 L595.05,392.76 L595.76,395.59 L596.47,398.89 L597.18,402.64 L597.89,406.81 L598.60,411.38 L599.31,416.32 L600.02,421.60 L600.73,427.17 L601.44,433.02 L602.15,439.09 L602.86,445.35 L603.57,451.76 L604.28,458.27 L604.99,464.85 L605.71,471.45 L606.42,478.03 L607.13,484.54 L607.84,490.95 L608.55,497.21 L609.26,503.28 L609.97,509.12 L610.68,514.70 L611.39,519.98 L612.10,524.92 L612.81,529.49 L613.52,533.66 L614.23,537.41 L614.94,540.71 L615.65,543.54 L616.36,545.88 L617.07,547.72 L617.78,549.04 L618.49,549.83 L619.20,550.10 L619.91,549.84 L620.62,549.05 L621.32,547.74 L622.03,545.92 L622.74,543.60 L623.45,540.79 L624.15,537.52 L624.86,533.79 L625.57,529.64 L626.28,525.09 L626.98,520.16 L627.69,514.90 L628.40,509.32 L629.11,503.47 L629.81,497.38 L630.52,491.09 L631.23,484.64 L631.94,478.06 L632.64,471.40 L633.35,464.70 L634.06,458.00 L634.76,451.34 L635.47,444.76 L636.18,438.31 L636.89,432.02 L637.60,425.93 L638.30,420.08 L639.01,414.50 L639.72,409.24 L640.42,404.31 L641.13,399.76 L641.84,395.61 L642.55,391.88 L643.25,388.61 L643.96,385.80 L644.67,383.48 L645.38,381.66 L646.09,380.35 L646.79,379.56 L647.50,379.30 L648.21,379.56 L648.91,380.34 L649.62,381.63 L650.33,383.43 L651.04,385.72 L651.75,388.49 L652.45,391.73 L653.16,395.41 L653.87,399.51 L654.58,404.01 L655.28,408.87 L655.99,414.07 L656.70,419.58 L657.40,425.36 L658.11,431.37 L658.82,437.58 L659.53,443.96 L660.24,450.45 L660.94,457.03 L661.65,463.65 L662.36,470.27 L663.06,476.85 L663.77,483.34 L664.48,489.72 L665.19,495.93 L665.89,501.94 L666.60,507.72 L667.31,513.23 L668.02,518.43 L668.72,523.29 L669.43,527.79 L670.14,531.89 L670.85,535.57 L671.55,538.81 L672.26,541.58 L672.97,543.87 L673.68,545.67 L674.38,546.96 L675.09,547.74 L675.80,548.00 L676.50,547.77 L677.20,547.07 L677.90,545.91 L678.60,544.30 L679.30,542.25 L680.00,539.76 L680.70,536.86 L681.40,533.55 L682.10,529.87 L682.80,525.82 L683.50,521.44 L684.20,516.75 L684.90,511.78 L685.60,506.56 L686.30,501.11 L687.00,495.47 L687.70,489.68 L688.40,483.76 L689.10,477.75 L689.80,471.69 L690.50,465.61 L691.20,459.55 L691.90,453.54 L692.60,447.62 L693.30,441.83 L694.00,436.19 L694.70,430.74 L695.40,425.52 L696.10,420.55 L696.80,415.86 L697.50,411.48 L698.20,407.43 L698.90,403.75 L699.60,400.44 L700.30,397.54 L701.00,395.05 L701.70,393.00 L702.40,391.39 L703.10,390.23 L703.80,389.53 L704.50,389.30 L705.21,389.52 L705.91,390.16 L706.62,391.24 L707.33,392.73 L708.04,394.64 L708.75,396.95 L709.45,399.64 L710.16,402.70 L710.87,406.11 L711.58,409.85 L712.28,413.89 L712.99,418.22 L713.70,422.80 L714.40,427.60 L715.11,432.60 L715.82,437.77 L716.53,443.07 L717.24,448.48 L717.94,453.95 L718.65,459.45 L719.36,464.95 L720.06,470.42 L720.77,475.83 L721.48,481.13 L722.19,486.30 L722.89,491.30 L723.60,496.10 L724.31,500.68 L725.02,505.01 L725.72,509.05 L726.43,512.79 L727.14,516.20 L727.85,519.26 L728.55,521.95 L729.26,524.26 L729.97,526.17 L730.68,527.66 L731.38,528.74 L732.09,529.38 L732.80,529.60 L733.50,529.42 L734.21,528.90 L734.91,528.02 L735.62,526.80 L736.32,525.24 L737.03,523.35 L737.73,521.15 L738.44,518.65 L739.14,515.86 L739.85,512.79 L740.55,509.47 L741.26,505.91 L741.96,502.15 L742.67,498.18 L743.37,494.06 L744.08,489.78 L744.78,485.39 L745.49,480.90 L746.19,476.35 L746.90,471.75 L747.60,467.15 L748.31,462.55 L749.01,458.00 L749.72,453.51 L750.42,449.12 L751.13,444.84 L751.83,440.72 L752.54,436.75 L753.24,432.99 L753.95,429.43 L754.65,426.11 L755.36,423.04 L756.06,420.25 L756.77,417.75 L757.47,415.55 L758.18,413.66 L758.88,412.10 L759.59,410.88 L760.29,410.00 L761.00,409.48 L761.70,409.30 L762.42,409.45 L763.13,409.91 L763.85,410.67 L764.57,411.72 L765.29,413.06 L766.00,414.69 L766.72,416.59 L767.44,418.74 L768.16,421.15 L768.88,423.78 L769.59,426.63 L770.31,429.68 L771.03,432.91 L771.75,436.30 L772.46,439.83 L773.18,443.47 L773.90,447.21 L774.62,451.01 L775.33,454.87 L776.05,458.75 L776.77,462.63 L777.49,466.49 L778.20,470.29 L778.92,474.03 L779.64,477.67 L780.36,481.20 L781.07,484.59 L781.79,487.82 L782.51,490.87 L783.23,493.72 L783.94,496.35 L784.66,498.76 L785.38,500.91 L786.10,502.81 L786.81,504.44 L787.53,505.78 L788.25,506.83 L788.97,507.59 L789.68,508.05 L790.40,508.20 L791.11,508.08 L791.82,507.71 L792.54,507.09 L793.25,506.24 L793.96,505.14 L794.67,503.82 L795.39,502.28 L796.10,500.53 L796.81,498.57 L797.52,496.42 L798.23,494.09 L798.95,491.60 L799.66,488.96 L800.37,486.19 L801.08,483.29 L801.80,480.30 L802.51,477.22 L803.22,474.07 L803.93,470.88 L804.64,467.66 L805.36,464.44 L806.07,461.22 L806.78,458.03 L807.49,454.88 L808.20,451.80 L808.92,448.81 L809.63,445.91 L810.34,443.14 L811.05,440.50 L811.77,438.01 L812.48,435.68 L813.19,433.53 L813.90,431.57 L814.61,429.82 L815.33,428.28 L816.04,426.96 L816.75,425.86 L817.46,425.01 L818.18,424.39 L818.89,424.02 L819.60,423.90 L820.31,424.01 L821.01,424.34 L821.72,424.88 L822.42,425.63 L823.12,426.59 L823.83,427.76 L824.53,429.12 L825.24,430.66 L825.95,432.38 L826.65,434.27 L827.36,436.31 L828.06,438.49 L828.76,440.80 L829.47,443.23 L830.17,445.75 L830.88,448.36 L831.59,451.04 L832.29,453.76 L833.00,456.52 L833.70,459.30 L834.40,462.08 L835.11,464.84 L835.81,467.56 L836.52,470.24 L837.23,472.85 L837.93,475.37 L838.63,477.80 L839.34,480.11 L840.04,482.29 L840.75,484.33 L841.45,486.22 L842.16,487.94 L842.87,489.48 L843.57,490.84 L844.27,492.01 L844.98,492.97 L845.68,493.72 L846.39,494.26 L847.09,494.59 L847.80,494.70 L848.51,494.61 L849.23,494.36 L849.94,493.93 L850.66,493.34 L851.37,492.58 L852.09,491.66 L852.80,490.59 L853.51,489.37 L854.23,488.00 L854.94,486.50 L855.66,484.88 L856.37,483.14 L857.09,481.29 L857.80,479.35 L858.51,477.32 L859.23,475.22 L859.94,473.05 L860.66,470.83 L861.37,468.58 L862.09,466.29 L862.80,464.00 L863.51,461.71 L864.23,459.42 L864.94,457.17 L865.66,454.95 L866.37,452.78 L867.09,450.68 L867.80,448.65 L868.51,446.71 L869.23,444.86 L869.94,443.12 L870.66,441.50 L871.37,440.00 L872.09,438.63 L872.80,437.41 L873.51,436.34 L874.23,435.42 L874.94,434.66 L875.66,434.07 L876.37,433.64 L877.09,433.39 L877.80,433.30 L878.51,433.38 L879.21,433.63 L879.92,434.03 L880.63,434.60 L881.34,435.32 L882.04,436.19 L882.75,437.20 L883.46,438.36 L884.17,439.65 L884.87,441.07 L885.58,442.60 L886.29,444.25 L887.00,445.99 L887.70,447.82 L888.41,449.73 L889.12,451.70 L889.82,453.73 L890.53,455.81 L891.24,457.91 L891.95,460.04 L892.65,462.16 L893.36,464.29 L894.07,466.39 L894.78,468.47 L895.48,470.50 L896.19,472.47 L896.90,474.38 L897.60,476.21 L898.31,477.95 L899.02,479.60 L899.73,481.13 L900.43,482.55 L901.14,483.84 L901.85,485.00 L902.56,486.01 L903.26,486.88 L903.97,487.60 L904.68,488.17 L905.39,488.57 L906.09,488.82 L906.80,488.90 L907.50,488.82 L908.20,488.59 L908.90,488.20 L909.60,487.67 L910.30,486.98 L911.00,486.15 L911.70,485.19 L912.40,484.08 L913.10,482.86 L913.80,481.51 L914.50,480.05 L915.20,478.48 L915.90,476.83 L916.60,475.09 L917.30,473.27 L918.00,471.39 L918.70,469.46 L919.40,467.49 L920.10,465.48 L920.80,463.46 L921.50,461.44 L922.20,459.42 L922.90,457.41 L923.60,455.44 L924.30,453.51 L925.00,451.63 L925.70,449.81 L926.40,448.07 L927.10,446.42 L927.80,444.85 L928.50,443.39 L929.20,442.04 L929.90,440.82 L930.60,439.71 L931.30,438.75 L932.00,437.92 L932.70,437.23 L933.40,436.70 L934.10,436.31 L934.80,436.08 L935.50,436.00" fill="none" stroke="#000" stroke-width="1.2" stroke-linejoin="round" />
<path d="M108.60,641.20 L109.31,640.66 L110.03,639.03 L110.74,636.33 L111.45,632.57 L112.16,627.79 L112.88,622.00 L113.59,615.25 L114.30,607.59 L115.02,599.05 L115.73,589.70 L116.44,579.60 L117.15,568.81 L117.87,557.40 L118.58,545.45 L119.29,533.03 L120.01,520.23 L120.72,507.12 L121.43,493.80 L122.14,480.35 L122.86,466.85 L123.57,453.40 L124.28,440.08 L124.99,426.97 L125.71,414.17 L126.42,401.75 L127.13,389.80 L127.85,378.39 L128.56,367.60 L129.27,357.50 L129.98,348.15 L130.70,339.61 L131.41,331.95 L132.12,325.20 L132.84,319.41 L133.55,314.63 L134.26,310.87 L134.97,308.17 L135.69,306.54 L136.40,306.00 L137.10,306.47 L137.80,307.89 L138.50,310.23 L139.20,313.50 L139.90,317.66 L140.60,322.70 L141.30,328.58 L142.00,335.26 L142.70,342.71 L143.40,350.87 L144.10,359.70 L144.80,369.15 L145.50,379.15 L146.20,389.65 L146.90,400.57 L147.60,411.86 L148.30,423.44 L149.00,435.23 L149.70,447.18 L150.40,459.20 L151.10,471.22 L151.80,483.17 L152.50,494.96 L153.20,506.54 L153.90,517.83 L154.60,528.75 L155.30,539.25 L156.00,549.25 L156.70,558.70 L157.40,567.53 L158.10,575.69 L158.80,583.14 L159.50,589.82 L160.20,595.70 L160.90,600.74 L161.60,604.90 L162.30,608.17 L163.00,610.51 L163.70,611.93 L164.40,612.40 L165.12,612.00 L165.83,610.78 L166.55,608.77 L167.26,605.98 L167.97,602.41 L168.69,598.10 L169.41,593.07 L170.12,587.34 L170.84,580.97 L171.55,573.97 L172.27,566.41 L172.98,558.32 L173.69,549.75 L174.41,540.76 L175.12,531.41 L175.84,521.74 L176.56,511.83 L177.27,501.72 L177.99,491.49 L178.70,481.20 L179.41,470.91 L180.13,460.68 L180.84,450.57 L181.56,440.66 L182.28,430.99 L182.99,421.64 L183.71,412.65 L184.42,404.08 L185.13,395.99 L185.85,388.43 L186.56,381.43 L187.28,375.06 L188.00,369.33 L188.71,364.30 L189.43,359.99 L190.14,356.42 L190.85,353.63 L191.57,351.62 L192.28,350.40 L193.00,350.00 L193.71,350.31 L194.41,351.24 L195.12,352.78 L195.83,354.92 L196.54,357.65 L197.24,360.95 L197.95,364.82 L198.66,369.21 L199.37,374.11 L200.07,379.48 L200.78,385.31 L201.49,391.54 L202.20,398.15 L202.90,405.10 L203.61,412.34 L204.32,419.84 L205.02,427.54 L205.73,435.41 L206.44,443.40 L207.15,451.46 L207.85,459.54 L208.56,467.60 L209.27,475.59 L209.98,483.46 L210.68,491.16 L211.39,498.66 L212.10,505.90 L212.80,512.85 L213.51,519.46 L214.22,525.69 L214.93,531.52 L215.63,536.89 L216.34,541.79 L217.05,546.18 L217.76,550.05 L218.46,553.35 L219.17,556.08 L219.88,558.22 L220.59,559.76 L221.29,560.69 L222.00,561.00 L222.71,560.73 L223.42,559.93 L224.13,558.60 L224.84,556.75 L225.55,554.39 L226.26,551.54 L226.97,548.21 L227.68,544.42 L228.39,540.20 L229.10,535.58 L229.81,530.57 L230.52,525.22 L231.23,519.55 L231.94,513.61 L232.65,507.42 L233.36,501.02 L234.07,494.46 L234.78,487.78 L235.49,481.01 L236.20,474.20 L236.91,467.39 L237.62,460.62 L238.33,453.94 L239.04,447.38 L239.75,440.98 L240.46,434.79 L241.17,428.85 L241.88,423.18 L242.59,417.83 L243.30,412.82 L244.01,408.20 L244.72,403.98 L245.43,400.19 L246.14,396.86 L246.85,394.01 L247.56,391.65 L248.27,389.80 L248.98,388.47 L249.69,387.67 L250.40,387.40 L251.11,387.62 L251.82,388.27 L252.54,389.35 L253.25,390.85 L253.96,392.77 L254.67,395.09 L255.39,397.81 L256.10,400.89 L256.81,404.33 L257.52,408.11 L258.23,412.20 L258.95,416.58 L259.66,421.22 L260.37,426.10 L261.08,431.19 L261.80,436.45 L262.51,441.86 L263.22,447.39 L263.93,453.00 L264.64,458.66 L265.36,464.34 L266.07,470.00 L266.78,475.61 L267.49,481.14 L268.20,486.55 L268.92,491.81 L269.63,496.90 L270.34,501.78 L271.05,506.42 L271.77,510.80 L272.48,514.89 L273.19,518.67 L273.90,522.11 L274.61,525.19 L275.33,527.91 L276.04,530.23 L276.75,532.15 L277.46,533.65 L278.18,534.73 L278.89,535.38 L279.60,535.60 L280.32,535.39 L281.03,534.78 L281.75,533.76 L282.47,532.33 L283.19,530.52 L283.90,528.32 L284.62,525.76 L285.34,522.84 L286.05,519.58 L286.77,516.01 L287.49,512.14 L288.20,508.00 L288.92,503.60 L289.64,498.99 L290.36,494.18 L291.07,489.19 L291.79,484.08 L292.51,478.85 L293.22,473.54 L293.94,468.19 L294.66,462.81 L295.38,457.46 L296.09,452.15 L296.81,446.92 L297.53,441.81 L298.24,436.82 L298.96,432.01 L299.68,427.40 L300.40,423.00 L301.11,418.86 L301.83,414.99 L302.55,411.42 L303.26,408.16 L303.98,405.24 L304.70,402.68 L305.41,400.48 L306.13,398.67 L306.85,397.24 L307.57,396.22 L308.28,395.61 L309.00,395.40 L309.71,395.62 L310.42,396.26 L311.13,397.33 L311.84,398.83 L312.55,400.73 L313.26,403.03 L313.97,405.72 L314.68,408.77 L315.39,412.17 L316.10,415.90 L316.81,419.94 L317.52,424.26 L318.23,428.83 L318.94,433.62 L319.65,438.61 L320.36,443.77 L321.07,449.06 L321.78,454.45 L322.49,459.91 L323.20,465.40 L323.91,470.89 L324.62,476.35 L325.33,481.74 L326.04,487.03 L326.75,492.19 L327.46,497.18 L328.17,501.97 L328.88,506.54 L329.59,510.86 L330.30,514.90 L331.01,518.63 L331.72,522.03 L332.43,525.08 L333.14,527.77 L333.85,530.07 L334.56,531.97 L335.27,533.47 L335.98,534.54 L336.69,535.18 L337.40,535.40 L338.11,535.18 L338.83,534.50 L339.54,533.39 L340.26,531.84 L340.97,529.87 L341.69,527.48 L342.40,524.69 L343.12,521.52 L343.83,517.98 L344.55,514.11 L345.26,509.91 L345.98,505.43 L346.69,500.69 L347.41,495.71 L348.12,490.52 L348.84,485.17 L349.56,479.67 L350.27,474.07 L350.99,468.40 L351.70,462.70 L352.41,457.00 L353.13,451.33 L353.84,445.73 L354.56,440.23 L355.27,434.88 L355.99,429.69 L356.70,424.71 L357.42,419.97 L358.13,415.49 L358.85,411.29 L359.56,407.42 L360.28,403.88 L361.00,400.71 L361.71,397.92 L362.43,395.53 L363.14,393.56 L363.86,392.01 L364.57,390.90 L365.29,390.22 L366.00,390.00 L366.70,390.23 L367.40,390.93 L368.10,392.09 L368.80,393.70 L369.50,395.75 L370.20,398.23 L370.90,401.13 L371.60,404.42 L372.30,408.09 L373.00,412.11 L373.70,416.47 L374.40,421.12 L375.10,426.05 L375.80,431.22 L376.50,436.61 L377.20,442.17 L377.90,447.87 L378.60,453.69 L379.30,459.58 L380.00,465.50 L380.70,471.42 L381.40,477.31 L382.10,483.13 L382.80,488.83 L383.50,494.39 L384.20,499.78 L384.90,504.95 L385.60,509.88 L386.30,514.53 L387.00,518.89 L387.70,522.91 L388.40,526.58 L389.10,529.87 L389.80,532.77 L390.50,535.25 L391.20,537.30 L391.90,538.91 L392.60,540.07 L393.30,540.77 L394.00,541.00 L394.71,540.77 L395.41,540.08 L396.12,538.94 L396.83,537.35 L397.54,535.32 L398.24,532.87 L398.95,530.00 L399.66,526.74 L400.37,523.11 L401.07,519.12 L401.78,514.80 L402.49,510.17 L403.20,505.26 L403.90,500.11 L404.61,494.73 L405.32,489.17 L406.02,483.45 L406.73,477.61 L407.44,471.68 L408.15,465.70 L408.85,459.70 L409.56,453.72 L410.27,447.79 L410.98,441.95 L411.68,436.23 L412.39,430.67 L413.10,425.29 L413.80,420.14 L414.51,415.23 L415.22,410.60 L415.93,406.28 L416.63,402.29 L417.34,398.66 L418.05,395.40 L418.76,392.53 L419.46,390.08 L420.17,388.05 L420.88,386.46 L421.59,385.32 L422.29,384.63 L423.00,384.40 L423.71,384.65 L424.42,385.40 L425.13,386.65 L425.84,388.39 L426.55,390.60 L427.26,393.28 L427.97,396.41 L428.68,399.97 L429.39,403.93 L430.10,408.27 L430.81,412.97 L431.52,418.00 L432.23,423.32 L432.94,428.90 L433.65,434.71 L434.36,440.72 L435.07,446.87 L435.78,453.15 L436.49,459.51 L437.20,465.90 L437.91,472.29 L438.62,478.65 L439.33,484.93 L440.04,491.08 L440.75,497.09 L441.46,502.90 L442.17,508.48 L442.88,513.80 L443.59,518.83 L444.30,523.53 L445.01,527.87 L445.72,531.83 L446.43,535.39 L447.14,538.52 L447.85,541.20 L448.56,543.41 L449.27,545.15 L449.98,546.40 L450.69,547.15 L451.40,547.40 L452.10,547.14 L452.80,546.34 L453.50,545.03 L454.20,543.21 L454.90,540.88 L455.60,538.06 L456.30,534.77 L457.00,531.03 L457.70,526.87 L458.40,522.30 L459.10,517.36 L459.80,512.07 L460.50,506.48 L461.20,500.61 L461.90,494.50 L462.60,488.18 L463.30,481.71 L464.00,475.11 L464.70,468.42 L465.40,461.70 L466.10,454.98 L466.80,448.29 L467.50,441.69 L468.20,435.22 L468.90,428.90 L469.60,422.79 L470.30,416.92 L471.00,411.33 L471.70,406.04 L472.40,401.10 L473.10,396.53 L473.80,392.37 L474.50,388.63 L475.20,385.34 L475.90,382.52 L476.60,380.19 L477.30,378.37 L478.00,377.06 L478.70,376.26 L479.40,376.00 L480.10,376.28 L480.80,377.13 L481.50,378.53 L482.20,380.48 L482.90,382.97 L483.60,385.97 L484.30,389.48 L485.00,393.47 L485.70,397.92 L486.40,402.80 L487.10,408.08 L487.80,413.72 L488.50,419.69 L489.20,425.96 L489.90,432.48 L490.60,439.22 L491.30,446.14 L492.00,453.19 L492.70,460.32 L493.40,467.50 L494.10,474.68 L494.80,481.81 L495.50,488.86 L496.20,495.78 L496.90,502.52 L497.60,509.04 L498.30,515.31 L499.00,521.28 L499.70,526.92 L500.40,532.20 L501.10,537.08 L501.80,541.53 L502.50,545.52 L503.20,549.03 L503.90,552.03 L504.60,554.52 L505.30,556.47 L506.00,557.87 L506.70,558.72 L507.40,559.00 L508.11,558.70 L508.83,557.79 L509.54,556.29 L510.26,554.21 L510.97,551.54 L511.69,548.32 L512.40,544.57 L513.12,540.29 L513.84,535.53 L514.55,530.31 L515.26,524.66 L515.98,518.62 L516.69,512.23 L517.41,505.52 L518.12,498.53 L518.84,491.32 L519.55,483.92 L520.27,476.37 L520.99,468.74 L521.70,461.05 L522.41,453.36 L523.13,445.73 L523.85,438.18 L524.56,430.78 L525.27,423.57 L525.99,416.58 L526.71,409.87 L527.42,403.48 L528.13,397.44 L528.85,391.79 L529.56,386.57 L530.28,381.81 L531.00,377.53 L531.71,373.78 L532.42,370.56 L533.14,367.89 L533.86,365.81 L534.57,364.31 L535.28,363.40 L536.00,363.10 L536.70,363.42 L537.40,364.38 L538.11,365.97 L538.81,368.18 L539.51,371.00 L540.22,374.41 L540.92,378.39 L541.62,382.91 L542.32,387.96 L543.02,393.49 L543.73,399.47 L544.43,405.87 L545.13,412.64 L545.84,419.75 L546.54,427.15 L547.24,434.79 L547.94,442.63 L548.64,450.62 L549.35,458.71 L550.05,466.85 L550.75,474.99 L551.46,483.08 L552.16,491.07 L552.86,498.91 L553.56,506.55 L554.26,513.95 L554.97,521.06 L555.67,527.83 L556.37,534.23 L557.08,540.21 L557.78,545.74 L558.48,550.79 L559.18,555.31 L559.88,559.29 L560.59,562.70 L561.29,565.52 L561.99,567.73 L562.70,569.32 L563.40,570.28 L564.10,570.60 L564.82,570.25 L565.53,569.21 L566.25,567.48 L566.96,565.08 L567.68,562.02 L568.39,558.32 L569.11,554.00 L569.82,549.10 L570.54,543.64 L571.25,537.66 L571.97,531.20 L572.68,524.30 L573.40,517.00 L574.12,509.36 L574.83,501.41 L575.55,493.22 L576.26,484.84 L576.98,476.32 L577.69,467.72 L578.41,459.08 L579.12,450.48 L579.84,441.96 L580.55,433.58 L581.27,425.39 L581.98,417.44 L582.70,409.80 L583.42,402.50 L584.13,395.60 L584.85,389.14 L585.56,383.16 L586.28,377.70 L586.99,372.80 L587.71,368.48 L588.42,364.78 L589.14,361.72 L589.85,359.32 L590.57,357.59 L591.28,356.55 L592.00,356.20 L592.71,356.54 L593.43,357.57 L594.14,359.28 L594.85,361.66 L595.56,364.69 L596.28,368.36 L596.99,372.63 L597.70,377.49 L598.42,382.90 L599.13,388.82 L599.84,395.22 L600.55,402.05 L601.27,409.27 L601.98,416.84 L602.69,424.71 L603.41,432.82 L604.12,441.12 L604.83,449.56 L605.54,458.08 L606.26,466.62 L606.97,475.14 L607.68,483.58 L608.39,491.88 L609.11,499.99 L609.82,507.86 L610.53,515.42 L611.25,522.65 L611.96,529.48 L612.67,535.88 L613.38,541.80 L614.10,547.21 L614.81,552.07 L615.52,556.34 L616.24,560.01 L616.95,563.04 L617.66,565.42 L618.37,567.13 L619.09,568.16 L619.80,568.50 L620.50,568.21 L621.20,567.33 L621.90,565.88 L622.60,563.86 L623.30,561.28 L624.00,558.16 L624.70,554.52 L625.40,550.37 L626.10,545.75 L626.80,540.68 L627.50,535.18 L628.20,529.30 L628.90,523.06 L629.60,516.51 L630.30,509.67 L631.00,502.60 L631.70,495.33 L632.40,487.90 L633.10,480.37 L633.80,472.76 L634.50,465.14 L635.20,457.53 L635.90,450.00 L636.60,442.57 L637.30,435.30 L638.00,428.23 L638.70,421.39 L639.40,414.84 L640.10,408.60 L640.80,402.72 L641.50,397.22 L642.20,392.15 L642.90,387.53 L643.60,383.38 L644.30,379.74 L645.00,376.62 L645.70,374.04 L646.40,372.02 L647.10,370.57 L647.80,369.69 L648.50,369.40 L649.22,369.69 L649.93,370.55 L650.65,371.99 L651.36,373.99 L652.08,376.53 L652.79,379.61 L653.51,383.19 L654.22,387.27 L654.94,391.81 L655.65,396.78 L656.37,402.15 L657.08,407.89 L657.80,413.95 L658.52,420.30 L659.23,426.90 L659.95,433.71 L660.66,440.68 L661.38,447.76 L662.09,454.91 L662.81,462.09 L663.52,469.24 L664.24,476.32 L664.95,483.29 L665.67,490.10 L666.38,496.70 L667.10,503.05 L667.82,509.11 L668.53,514.85 L669.25,520.22 L669.96,525.19 L670.68,529.73 L671.39,533.81 L672.11,537.39 L672.82,540.47 L673.54,543.01 L674.25,545.01 L674.97,546.45 L675.68,547.31 L676.40,547.60 L677.11,547.38 L677.81,546.74 L678.52,545.66 L679.23,544.16 L679.94,542.25 L680.64,539.94 L681.35,537.24 L682.06,534.16 L682.76,530.72 L683.47,526.95 L684.18,522.86 L684.89,518.48 L685.59,513.82 L686.30,508.93 L687.01,503.81 L687.71,498.51 L688.42,493.05 L689.13,487.46 L689.84,481.78 L690.54,476.03 L691.25,470.25 L691.96,464.47 L692.66,458.72 L693.37,453.04 L694.08,447.45 L694.79,441.99 L695.49,436.69 L696.20,431.57 L696.91,426.68 L697.61,422.02 L698.32,417.64 L699.03,413.55 L699.74,409.78 L700.44,406.34 L701.15,403.26 L701.86,400.56 L702.56,398.25 L703.27,396.34 L703.98,394.84 L704.69,393.76 L705.39,393.12 L706.10,392.90 L706.81,393.09 L707.53,393.66 L708.24,394.60 L708.96,395.91 L709.67,397.58 L710.39,399.61 L711.10,401.97 L711.82,404.66 L712.53,407.66 L713.25,410.95 L713.96,414.52 L714.68,418.34 L715.39,422.39 L716.10,426.64 L716.82,431.07 L717.53,435.66 L718.25,440.38 L718.96,445.20 L719.68,450.09 L720.39,455.03 L721.11,459.97 L721.82,464.91 L722.54,469.80 L723.25,474.62 L723.97,479.34 L724.68,483.93 L725.40,488.36 L726.11,492.61 L726.82,496.66 L727.54,500.48 L728.25,504.05 L728.97,507.34 L729.68,510.34 L730.40,513.03 L731.11,515.39 L731.83,517.42 L732.54,519.09 L733.26,520.40 L733.97,521.34 L734.69,521.91 L735.40,522.10 L736.10,521.95 L736.81,521.52 L737.51,520.80 L738.22,519.79 L738.92,518.51 L739.63,516.95 L740.33,515.13 L741.04,513.06 L741.74,510.74 L742.45,508.19 L743.15,505.42 L743.85,502.44 L744.56,499.28 L745.26,495.94 L745.97,492.44 L746.67,488.81 L747.38,485.05 L748.08,481.19 L748.79,477.26 L749.49,473.25 L750.20,469.21 L750.90,465.15 L751.60,461.09 L752.31,457.05 L753.01,453.04 L753.72,449.11 L754.42,445.25 L755.13,441.49 L755.83,437.86 L756.54,434.36 L757.24,431.02 L757.95,427.86 L758.65,424.88 L759.35,422.11 L760.06,419.56 L760.76,417.24 L761.47,415.17 L762.17,413.35 L762.88,411.79 L763.58,410.51 L764.29,409.50 L764.99,408.78 L765.70,408.35 L766.40,408.20 L767.12,408.37 L767.83,408.89 L768.55,409.76 L769.26,410.96 L769.98,412.49 L770.69,414.33 L771.41,416.49 L772.12,418.94 L772.84,421.67 L773.55,424.65 L774.27,427.88 L774.98,431.33 L775.70,434.98 L776.42,438.79 L777.13,442.76 L777.85,446.85 L778.56,451.04 L779.28,455.30 L779.99,459.59 L780.71,463.91 L781.42,468.20 L782.14,472.46 L782.85,476.65 L783.57,480.74 L784.28,484.71 L785.00,488.52 L785.72,492.17 L786.43,495.62 L787.15,498.85 L787.86,501.83 L788.58,504.56 L789.29,507.01 L790.01,509.17 L790.72,511.01 L791.44,512.54 L792.15,513.74 L792.87,514.61 L793.58,515.13 L794.30,515.30 L795.01,515.14 L795.73,514.66 L796.44,513.86 L797.16,512.74 L797.87,511.32 L798.59,509.60 L799.30,507.60 L800.02,505.31 L800.73,502.77 L801.45,499.97 L802.16,496.94 L802.88,493.70 L803.59,490.26 L804.30,486.65 L805.02,482.89 L805.73,478.99 L806.45,474.98 L807.16,470.89 L807.88,466.74 L808.59,462.55 L809.31,458.35 L810.02,454.16 L810.74,450.01 L811.45,445.92 L812.17,441.91 L812.88,438.01 L813.60,434.25 L814.31,430.64 L815.02,427.20 L815.74,423.96 L816.45,420.93 L817.17,418.13 L817.88,415.59 L818.60,413.30 L819.31,411.30 L820.03,409.58 L820.74,408.16 L821.46,407.04 L822.17,406.24 L822.89,405.76 L823.60,405.60 L824.31,405.78 L825.01,406.34 L825.72,407.25 L826.42,408.53 L827.13,410.15 L827.83,412.12 L828.54,414.41 L829.24,417.01 L829.95,419.91 L830.65,423.08 L831.36,426.51 L832.06,430.18 L832.77,434.05 L833.47,438.11 L834.18,442.32 L834.88,446.67 L835.59,451.12 L836.29,455.64 L837.00,460.21 L837.70,464.79 L838.41,469.36 L839.11,473.88 L839.82,478.33 L840.52,482.68 L841.23,486.89 L841.93,490.95 L842.64,494.82 L843.34,498.49 L844.05,501.92 L844.75,505.09 L845.46,507.99 L846.16,510.59 L846.87,512.88 L847.57,514.85 L848.28,516.47 L848.98,517.75 L849.69,518.66 L850.39,519.22 L851.10,519.40 L851.80,519.22 L852.51,518.69 L853.21,517.80 L853.92,516.56 L854.62,514.98 L855.33,513.07 L856.03,510.84 L856.74,508.30 L857.44,505.47 L858.15,502.37 L858.85,499.00 L859.56,495.40 L860.26,491.58 L860.97,487.57 L861.67,483.38 L862.38,479.05 L863.08,474.60 L863.79,470.05 L864.49,465.44 L865.20,460.78 L865.90,456.12 L866.61,451.46 L867.31,446.85 L868.02,442.30 L868.72,437.85 L869.43,433.52 L870.13,429.33 L870.84,425.32 L871.54,421.50 L872.25,417.90 L872.95,414.53 L873.66,411.43 L874.36,408.60 L875.07,406.06 L875.77,403.83 L876.48,401.92 L877.18,400.34 L877.89,399.10 L878.59,398.21 L879.30,397.68 L880.00,397.50 L880.70,397.71 L881.41,398.34 L882.11,399.39 L882.81,400.86 L883.51,402.72 L884.22,404.97 L884.92,407.59 L885.62,410.58 L886.32,413.90 L887.03,417.53 L887.73,421.46 L888.43,425.66 L889.13,430.10 L889.84,434.75 L890.54,439.58 L891.24,444.56 L891.94,449.66 L892.65,454.84 L893.35,460.07 L894.05,465.33 L894.75,470.56 L895.46,475.74 L896.16,480.84 L896.86,485.82 L897.56,490.65 L898.27,495.30 L898.97,499.74 L899.67,503.94 L900.37,507.87 L901.08,511.50 L901.78,514.82 L902.48,517.81 L903.18,520.43 L903.89,522.68 L904.59,524.54 L905.29,526.01 L905.99,527.06 L906.70,527.69 L907.40,527.90 L908.11,527.70 L908.82,527.09 L909.53,526.09 L910.24,524.69 L910.95,522.90 L911.66,520.74 L912.37,518.22 L913.08,515.35 L913.79,512.14 L914.50,508.63 L915.21,504.82 L915.92,500.75 L916.63,496.43 L917.34,491.89 L918.05,487.16 L918.76,482.26 L919.47,477.22 L920.18,472.08 L920.89,466.86 L921.60,461.59 L922.30,456.31 L923.01,451.04 L923.72,445.82 L924.43,440.68 L925.14,435.64 L925.85,430.74 L926.56,426.01 L927.27,421.47 L927.98,417.15 L928.69,413.08 L929.40,409.27 L930.11,405.76 L930.82,402.55 L931.53,399.68 L932.24,397.16 L932.95,395.00 L933.66,393.21 L934.37,391.81 L935.08,390.81 L935.79,390.20 L936.50,390.00" fill="none" stroke="#cc0000" stroke-width="1.4" stroke-linejoin="round" stroke-opacity="0.78"/>
<path d="M108.50,291.59 L109.00,291.59 L109.50,291.60 L110.00,291.61 L110.50,291.63 L111.00,291.66 L111.50,291.69 L112.00,291.73 L112.50,291.77 L113.00,291.82 L113.50,291.87 L114.00,291.93 L114.50,291.99 L115.00,292.06 L115.50,292.14 L116.00,292.22 L116.50,292.31 L117.00,292.40 L117.50,292.50 L118.00,292.60 L118.50,292.71 L119.00,292.82 L119.50,292.94 L120.00,293.06 L120.50,293.19 L121.00,293.33 L121.50,293.46 L122.00,293.61 L122.50,293.76 L123.00,293.91 L123.50,294.07 L124.00,294.24 L124.50,294.41 L125.00,294.58 L125.50,294.77 L126.00,294.95 L126.50,295.14 L127.00,295.34 L127.50,295.54 L128.00,295.74 L128.50,295.95 L129.00,296.16 L129.50,296.38 L130.00,296.60 L130.50,296.83 L131.00,297.06 L131.50,297.30 L132.00,297.54 L132.50,297.79 L133.00,298.04 L133.50,298.29 L134.00,298.55 L134.50,298.81 L135.00,299.08 L135.50,299.35 L136.00,299.62 L136.50,299.90 L137.00,300.18 L137.50,300.46 L138.00,300.75 L138.50,301.05 L139.00,301.34 L139.50,301.64 L140.00,301.95 L140.50,302.25 L141.00,302.57 L141.50,302.88 L142.00,303.20 L142.50,303.52 L143.00,303.84 L143.50,304.17 L144.00,304.50 L144.50,304.83 L145.00,305.17 L145.50,305.51 L146.00,305.85 L146.50,306.20 L147.00,306.54 L147.50,306.89 L148.00,307.25 L148.50,307.60 L149.00,307.96 L149.50,308.32 L150.00,308.69 L150.50,309.06 L151.00,309.43 L151.50,309.80 L152.00,310.17 L152.50,310.55 L153.00,310.93 L153.50,311.31 L154.00,311.69 L154.50,312.08 L155.00,312.46 L155.50,312.85 L156.00,313.25 L156.50,313.64 L157.00,314.04 L157.50,314.43 L158.00,314.83 L158.50,315.23 L159.00,315.64 L159.50,316.04 L160.00,316.45 L160.50,316.86 L161.00,317.27 L161.50,317.68 L162.00,318.09 L162.50,318.51 L163.00,318.92 L163.50,319.34 L164.00,319.76 L164.50,320.18 L165.00,320.60 L165.50,321.02 L166.00,321.45 L166.50,321.87 L167.00,322.30 L167.50,322.73 L168.00,323.16 L168.50,323.59 L169.00,324.02 L169.50,324.45 L170.00,324.88 L170.50,325.32 L171.00,325.76 L171.50,326.19 L172.00,326.63 L172.50,327.07 L173.00,327.52 L173.50,327.96 L174.00,328.40 L174.50,328.85 L175.00,329.30 L175.50,329.75 L176.00,330.20 L176.50,330.65 L177.00,331.10 L177.50,331.56 L178.00,332.01 L178.50,332.47 L179.00,332.93 L179.50,333.39 L180.00,333.85 L180.50,334.31 L181.00,334.78 L181.50,335.25 L182.00,335.71 L182.50,336.18 L183.00,336.65 L183.50,337.13 L184.00,337.60 L184.50,338.08 L185.00,338.55 L185.50,339.03 L186.00,339.51 L186.50,340.00 L187.00,340.48 L187.50,340.96 L188.00,341.45 L188.50,341.94 L189.00,342.42 L189.50,342.91 L190.00,343.40 L190.50,343.89 L191.00,344.38 L191.50,344.87 L192.00,345.36 L192.50,345.85 L193.00,346.34 L193.50,346.83 L194.00,347.32 L194.50,347.82 L195.00,348.31 L195.50,348.80 L196.00,349.28 L196.50,349.77 L197.00,350.26 L197.50,350.75 L198.00,351.24 L198.50,351.72 L199.00,352.21 L199.50,352.69 L200.00,353.17 L200.50,353.65 L201.00,354.13 L201.50,354.61 L202.00,355.08 L202.50,355.56 L203.00,356.03 L203.50,356.50 L204.00,356.97 L204.50,357.43 L205.00,357.90 L205.50,358.36 L206.00,358.82 L206.50,359.27 L207.00,359.73 L207.50,360.18 L208.00,360.63 L208.50,361.07 L209.00,361.52 L209.50,361.96 L210.00,362.40 L210.50,362.84 L211.00,363.28 L211.50,363.71 L212.00,364.14 L212.50,364.57 L213.00,365.00 L213.50,365.42 L214.00,365.84 L214.50,366.26 L215.00,366.68 L215.50,367.10 L216.00,367.51 L216.50,367.92 L217.00,368.33 L217.50,368.74 L218.00,369.14 L218.50,369.55 L219.00,369.95 L219.50,370.35 L220.00,370.75 L220.50,371.14 L221.00,371.53 L221.50,371.93 L222.00,372.31 L222.50,372.70 L223.00,373.09 L223.50,373.47 L224.00,373.85 L224.50,374.23 L225.00,374.61 L225.50,374.99 L226.00,375.36 L226.50,375.73 L227.00,376.10 L227.50,376.47 L228.00,376.84 L228.50,377.20 L229.00,377.56 L229.50,377.93 L230.00,378.29 L230.50,378.64 L231.00,379.00 L231.50,379.36 L232.00,379.71 L232.50,380.06 L233.00,380.41 L233.50,380.76 L234.00,381.11 L234.50,381.45 L235.00,381.80 L235.50,382.14 L236.00,382.48 L236.50,382.82 L237.00,383.16 L237.50,383.50 L238.00,383.84 L238.50,384.17 L239.00,384.51 L239.50,384.84 L240.00,385.17 L240.50,385.50 L241.00,385.83 L241.50,386.16 L242.00,386.49 L242.50,386.81 L243.00,387.14 L243.50,387.46 L244.00,387.78 L244.50,388.11 L245.00,388.43 L245.50,388.75 L246.00,389.07 L246.50,389.38 L247.00,389.70 L247.50,390.02 L248.00,390.33 L248.50,390.65 L249.00,390.96 L249.50,391.28 L250.00,391.59 L250.50,391.90 L251.00,392.21 L251.50,392.52 L252.00,392.83 L252.50,393.14 L253.00,393.45 L253.50,393.75 L254.00,394.06 L254.50,394.36 L255.00,394.67 L255.50,394.97 L256.00,395.27 L256.50,395.58 L257.00,395.88 L257.50,396.18 L258.00,396.48 L258.50,396.78 L259.00,397.08 L259.50,397.37 L260.00,397.67 L260.50,397.97 L261.00,398.26 L261.50,398.56 L262.00,398.85 L262.50,399.15 L263.00,399.44 L263.50,399.74 L264.00,400.03 L264.50,400.32 L265.00,400.61 L265.50,400.90 L266.00,401.19 L266.50,401.48 L267.00,401.77 L267.50,402.06 L268.00,402.35 L268.50,402.63 L269.00,402.92 L269.50,403.20 L270.00,403.49 L270.50,403.77 L271.00,404.06 L271.50,404.34 L272.00,404.62 L272.50,404.90 L273.00,405.18 L273.50,405.46 L274.00,405.74 L274.50,406.01 L275.00,406.29 L275.50,406.57 L276.00,406.84 L276.50,407.11 L277.00,407.38 L277.50,407.66 L278.00,407.93 L278.50,408.19 L279.00,408.46 L279.50,408.73 L280.00,408.99 L280.50,409.26 L281.00,409.52 L281.50,409.78 L282.00,410.04 L282.50,410.30 L283.00,410.56 L283.50,410.82 L284.00,411.07 L284.50,411.32 L285.00,411.58 L285.50,411.83 L286.00,412.08 L286.50,412.33 L287.00,412.57 L287.50,412.82 L288.00,413.06 L288.50,413.30 L289.00,413.54 L289.50,413.78 L290.00,414.02 L290.50,414.26 L291.00,414.49 L291.50,414.73 L292.00,414.96 L292.50,415.19 L293.00,415.42 L293.50,415.65 L294.00,415.87 L294.50,416.10 L295.00,416.32 L295.50,416.54 L296.00,416.76 L296.50,416.98 L297.00,417.19 L297.50,417.41 L298.00,417.62 L298.50,417.83 L299.00,418.04 L299.50,418.25 L300.00,418.46 L300.50,418.66 L301.00,418.87 L301.50,419.07 L302.00,419.27 L302.50,419.47 L303.00,419.67 L303.50,419.86 L304.00,420.06 L304.50,420.25 L305.00,420.44 L305.50,420.63 L306.00,420.81 L306.50,421.00 L307.00,421.18 L307.50,421.37 L308.00,421.55 L308.50,421.73 L309.00,421.90 L309.50,422.08 L310.00,422.25 L310.50,422.43 L311.00,422.60 L311.50,422.77 L312.00,422.94 L312.50,423.10 L313.00,423.27 L313.50,423.43 L314.00,423.60 L314.50,423.76 L315.00,423.92 L315.50,424.08 L316.00,424.23 L316.50,424.39 L317.00,424.54 L317.50,424.70 L318.00,424.85 L318.50,425.00 L319.00,425.15 L319.50,425.30 L320.00,425.45 L320.50,425.59 L321.00,425.74 L321.50,425.88 L322.00,426.02 L322.50,426.16 L323.00,426.30 L323.50,426.44 L324.00,426.58 L324.50,426.71 L325.00,426.85 L325.50,426.98 L326.00,427.11 L326.50,427.25 L327.00,427.38 L327.50,427.50 L328.00,427.63 L328.50,427.76 L329.00,427.88 L329.50,428.01 L330.00,428.13 L330.50,428.25 L331.00,428.37 L331.50,428.49 L332.00,428.61 L332.50,428.72 L333.00,428.84 L333.50,428.95 L334.00,429.07 L334.50,429.18 L335.00,429.29 L335.50,429.40 L336.00,429.51 L336.50,429.62 L337.00,429.72 L337.50,429.83 L338.00,429.93 L338.50,430.04 L339.00,430.14 L339.50,430.24 L340.00,430.34 L340.50,430.44 L341.00,430.54 L341.50,430.63 L342.00,430.73 L342.50,430.82 L343.00,430.92 L343.50,431.01 L344.00,431.10 L344.50,431.19 L345.00,431.28 L345.50,431.37 L346.00,431.45 L346.50,431.54 L347.00,431.63 L347.50,431.71 L348.00,431.79 L348.50,431.87 L349.00,431.96 L349.50,432.04 L350.00,432.11 L350.50,432.19 L351.00,432.27 L351.50,432.34 L352.00,432.42 L352.50,432.49 L353.00,432.57 L353.50,432.64 L354.00,432.71 L354.50,432.78 L355.00,432.85 L355.50,432.92 L356.00,432.98 L356.50,433.05 L357.00,433.11 L357.50,433.18 L358.00,433.24 L358.50,433.30 L359.00,433.36 L359.50,433.42 L360.00,433.48 L360.50,433.54 L361.00,433.60 L361.50,433.65 L362.00,433.71 L362.50,433.76 L363.00,433.82 L363.50,433.87 L364.00,433.92 L364.50,433.97 L365.00,434.02 L365.50,434.07 L366.00,434.11 L366.50,434.16 L367.00,434.21 L367.50,434.25 L368.00,434.29 L368.50,434.34 L369.00,434.38 L369.50,434.42 L370.00,434.46 L370.50,434.50 L371.00,434.54 L371.50,434.57 L372.00,434.61 L372.50,434.65 L373.00,434.68 L373.50,434.71 L374.00,434.75 L374.50,434.78 L375.00,434.81 L375.50,434.84 L376.00,434.87 L376.50,434.89 L377.00,434.92 L377.50,434.95 L378.00,434.97 L378.50,435.00 L379.00,435.02 L379.50,435.04 L380.00,435.06 L380.50,435.09 L381.00,435.11 L381.50,435.12 L382.00,435.14 L382.50,435.16 L383.00,435.18 L383.50,435.19 L384.00,435.21 L384.50,435.22 L385.00,435.23 L385.50,435.24 L386.00,435.26 L386.50,435.27 L387.00,435.28 L387.50,435.28 L388.00,435.29 L388.50,435.30 L389.00,435.30 L389.50,435.31 L390.00,435.31 L390.50,435.32 L391.00,435.32 L391.50,435.32 L392.00,435.32 L392.50,435.32 L393.00,435.32 L393.50,435.32 L394.00,435.32 L394.50,435.32 L395.00,435.31 L395.50,435.31 L396.00,435.30 L396.50,435.30 L397.00,435.29 L397.50,435.28 L398.00,435.27 L398.50,435.26 L399.00,435.25 L399.50,435.24 L400.00,435.23 L400.50,435.22 L401.00,435.21 L401.50,435.19 L402.00,435.18 L402.50,435.16 L403.00,435.15 L403.50,435.13 L404.00,435.11 L404.50,435.09 L405.00,435.08 L405.50,435.06 L406.00,435.04 L406.50,435.01 L407.00,434.99 L407.50,434.97 L408.00,434.95 L408.50,434.92 L409.00,434.90 L409.50,434.87 L410.00,434.85 L410.50,434.82 L411.00,434.79 L411.50,434.76 L412.00,434.73 L412.50,434.70 L413.00,434.67 L413.50,434.64 L414.00,434.61 L414.50,434.58 L415.00,434.54 L415.50,434.51 L416.00,434.48 L416.50,434.44 L417.00,434.40 L417.50,434.37 L418.00,434.33 L418.50,434.29 L419.00,434.25 L419.50,434.21 L420.00,434.17 L420.50,434.13 L421.00,434.09 L421.50,434.05 L422.00,434.00 L422.50,433.96 L423.00,433.91 L423.50,433.87 L424.00,433.82 L424.50,433.78 L425.00,433.73 L425.50,433.68 L426.00,433.63 L426.50,433.58 L427.00,433.53 L427.50,433.48 L428.00,433.43 L428.50,433.38 L429.00,433.32 L429.50,433.27 L430.00,433.21 L430.50,433.16 L431.00,433.10 L431.50,433.05 L432.00,432.99 L432.50,432.93 L433.00,432.87 L433.50,432.81 L434.00,432.75 L434.50,432.69 L435.00,432.63 L435.50,432.57 L436.00,432.51 L436.50,432.44 L437.00,432.38 L437.50,432.32 L438.00,432.25 L438.50,432.19 L439.00,432.12 L439.50,432.05 L440.00,431.98 L440.50,431.92 L441.00,431.85 L441.50,431.78 L442.00,431.71 L442.50,431.64 L443.00,431.56 L443.50,431.49 L444.00,431.42 L444.50,431.35 L445.00,431.27 L445.50,431.20 L446.00,431.12 L446.50,431.05 L447.00,430.97 L447.50,430.89 L448.00,430.82 L448.50,430.74 L449.00,430.66 L449.50,430.58 L450.00,430.50 L450.50,430.42 L451.00,430.34 L451.50,430.26 L452.00,430.18 L452.50,430.09 L453.00,430.01 L453.50,429.92 L454.00,429.84 L454.50,429.76 L455.00,429.67 L455.50,429.58 L456.00,429.50 L456.50,429.41 L457.00,429.32 L457.50,429.23 L458.00,429.14 L458.50,429.05 L459.00,428.96 L459.50,428.87 L460.00,428.78 L460.50,428.69 L461.00,428.60 L461.50,428.51 L462.00,428.41 L462.50,428.32 L463.00,428.22 L463.50,428.13 L464.00,428.03 L464.50,427.94 L465.00,427.84 L465.50,427.74 L466.00,427.65 L466.50,427.55 L467.00,427.45 L467.50,427.35 L468.00,427.25 L468.50,427.15 L469.00,427.05 L469.50,426.95 L470.00,426.85 L470.50,426.74 L471.00,426.64 L471.50,426.54 L472.00,426.43 L472.50,426.33 L473.00,426.22 L473.50,426.12 L474.00,426.01 L474.50,425.90 L475.00,425.79 L475.50,425.69 L476.00,425.58 L476.50,425.47 L477.00,425.36 L477.50,425.25 L478.00,425.13 L478.50,425.02 L479.00,424.91 L479.50,424.80 L480.00,424.68 L480.50,424.57 L481.00,424.45 L481.50,424.33 L482.00,424.22 L482.50,424.10 L483.00,423.98 L483.50,423.86 L484.00,423.74 L484.50,423.62 L485.00,423.50 L485.50,423.38 L486.00,423.26 L486.50,423.13 L487.00,423.01 L487.50,422.88 L488.00,422.76 L488.50,422.63 L489.00,422.50 L489.50,422.38 L490.00,422.25 L490.50,422.12 L491.00,421.99 L491.50,421.86 L492.00,421.73 L492.50,421.59 L493.00,421.46 L493.50,421.33 L494.00,421.19 L494.50,421.06 L495.00,420.92 L495.50,420.78 L496.00,420.64 L496.50,420.50 L497.00,420.36 L497.50,420.22 L498.00,420.08 L498.50,419.94 L499.00,419.80 L499.50,419.65 L500.00,419.51 L500.50,419.36 L501.00,419.21 L501.50,419.07 L502.00,418.92 L502.50,418.77 L503.00,418.62 L503.50,418.47 L504.00,418.31 L504.50,418.16 L505.00,418.01 L505.50,417.85 L506.00,417.70 L506.50,417.54 L507.00,417.38 L507.50,417.22 L508.00,417.06 L508.50,416.90 L509.00,416.74 L509.50,416.58 L510.00,416.42 L510.50,416.25 L511.00,416.09 L511.50,415.92 L512.00,415.76 L512.50,415.59 L513.00,415.43 L513.50,415.26 L514.00,415.09 L514.50,414.92 L515.00,414.75 L515.50,414.58 L516.00,414.41 L516.50,414.24 L517.00,414.07 L517.50,413.89 L518.00,413.72 L518.50,413.55 L519.00,413.37 L519.50,413.20 L520.00,413.02 L520.50,412.84 L521.00,412.67 L521.50,412.49 L522.00,412.31 L522.50,412.13 L523.00,411.96 L523.50,411.78 L524.00,411.60 L524.50,411.41 L525.00,411.23 L525.50,411.05 L526.00,410.87 L526.50,410.69 L527.00,410.50 L527.50,410.32 L528.00,410.14 L528.50,409.95 L529.00,409.77 L529.50,409.58 L530.00,409.39 L530.50,409.21 L531.00,409.02 L531.50,408.83 L532.00,408.64 L532.50,408.46 L533.00,408.27 L533.50,408.08 L534.00,407.89 L534.50,407.70 L535.00,407.51 L535.50,407.32 L536.00,407.12 L536.50,406.93 L537.00,406.74 L537.50,406.55 L538.00,406.35 L538.50,406.16 L539.00,405.97 L539.50,405.77 L540.00,405.58 L540.50,405.38 L541.00,405.19 L541.50,404.99 L542.00,404.79 L542.50,404.60 L543.00,404.40 L543.50,404.20 L544.00,404.01 L544.50,403.81 L545.00,403.61 L545.50,403.41 L546.00,403.21 L546.50,403.02 L547.00,402.82 L547.50,402.62 L548.00,402.42 L548.50,402.22 L549.00,402.02 L549.50,401.82 L550.00,401.62 L550.50,401.42 L551.00,401.22 L551.50,401.01 L552.00,400.81 L552.50,400.61 L553.00,400.41 L553.50,400.21 L554.00,400.01 L554.50,399.80 L555.00,399.60 L555.50,399.40 L556.00,399.20 L556.50,399.00 L557.00,398.79 L557.50,398.59 L558.00,398.39 L558.50,398.18 L559.00,397.98 L559.50,397.78 L560.00,397.57 L560.50,397.37 L561.00,397.17 L561.50,396.96 L562.00,396.76 L562.50,396.56 L563.00,396.35 L563.50,396.15 L564.00,395.95 L564.50,395.74 L565.00,395.54 L565.50,395.34 L566.00,395.13 L566.50,394.93 L567.00,394.73 L567.50,394.52 L568.00,394.32 L568.50,394.12 L569.00,393.91 L569.50,393.71 L570.00,393.51 L570.50,393.31 L571.00,393.10 L571.50,392.90 L572.00,392.70 L572.50,392.50 L573.00,392.30 L573.50,392.10 L574.00,391.89 L574.50,391.69 L575.00,391.49 L575.50,391.29 L576.00,391.09 L576.50,390.90 L577.00,390.70 L577.50,390.50 L578.00,390.30 L578.50,390.10 L579.00,389.91 L579.50,389.71 L580.00,389.52 L580.50,389.32 L581.00,389.13 L581.50,388.93 L582.00,388.74 L582.50,388.55 L583.00,388.35 L583.50,388.16 L584.00,387.97 L584.50,387.78 L585.00,387.59 L585.50,387.41 L586.00,387.22 L586.50,387.03 L587.00,386.85 L587.50,386.66 L588.00,386.48 L588.50,386.29 L589.00,386.11 L589.50,385.93 L590.00,385.75 L590.50,385.57 L591.00,385.39 L591.50,385.21 L592.00,385.04 L592.50,384.86 L593.00,384.69 L593.50,384.51 L594.00,384.34 L594.50,384.17 L595.00,384.00 L595.50,383.83 L596.00,383.66 L596.50,383.50 L597.00,383.33 L597.50,383.17 L598.00,383.01 L598.50,382.85 L599.00,382.69 L599.50,382.53 L600.00,382.37 L600.50,382.21 L601.00,382.06 L601.50,381.91 L602.00,381.75 L602.50,381.60 L603.00,381.45 L603.50,381.30 L604.00,381.16 L604.50,381.01 L605.00,380.86 L605.50,380.72 L606.00,380.57 L606.50,380.43 L607.00,380.29 L607.50,380.15 L608.00,380.01 L608.50,379.87 L609.00,379.73 L609.50,379.59 L610.00,379.45 L610.50,379.31 L611.00,379.18 L611.50,379.04 L612.00,378.91 L612.50,378.77 L613.00,378.64 L613.50,378.51 L614.00,378.38 L614.50,378.25 L615.00,378.12 L615.50,377.99 L616.00,377.86 L616.50,377.74 L617.00,377.61 L617.50,377.49 L618.00,377.37 L618.50,377.25 L619.00,377.12 L619.50,377.01 L620.00,376.89 L620.50,376.77 L621.00,376.65 L621.50,376.54 L622.00,376.42 L622.50,376.31 L623.00,376.20 L623.50,376.09 L624.00,375.98 L624.50,375.87 L625.00,375.77 L625.50,375.66 L626.00,375.56 L626.50,375.46 L627.00,375.35 L627.50,375.25 L628.00,375.16 L628.50,375.06 L629.00,374.96 L629.50,374.87 L630.00,374.78 L630.50,374.69 L631.00,374.60 L631.50,374.51 L632.00,374.42 L632.50,374.34 L633.00,374.25 L633.50,374.17 L634.00,374.09 L634.50,374.01 L635.00,373.93 L635.50,373.86 L636.00,373.78 L636.50,373.71 L637.00,373.64 L637.50,373.57 L638.00,373.50 L638.50,373.43 L639.00,373.37 L639.50,373.30 L640.00,373.24 L640.50,373.18 L641.00,373.12 L641.50,373.07 L642.00,373.01 L642.50,372.96 L643.00,372.91 L643.50,372.86 L644.00,372.81 L644.50,372.76 L645.00,372.72 L645.50,372.67 L646.00,372.63 L646.50,372.59 L647.00,372.55 L647.50,372.52 L648.00,372.48 L648.50,372.45 L649.00,372.42 L649.50,372.39 L650.00,372.36 L650.50,372.34 L651.00,372.31 L651.50,372.29 L652.00,372.27 L652.50,372.25 L653.00,372.23 L653.50,372.22 L654.00,372.21 L654.50,372.20 L655.00,372.19 L655.50,372.18 L656.00,372.17 L656.50,372.17 L657.00,372.17 L657.50,372.17 L658.00,372.17 L658.50,372.17 L659.00,372.18 L659.50,372.19 L660.00,372.20 L660.50,372.21 L661.00,372.22 L661.50,372.24 L662.00,372.26 L662.50,372.28 L663.00,372.30 L663.50,372.32 L664.00,372.35 L664.50,372.37 L665.00,372.40 L665.50,372.43 L666.00,372.47 L666.50,372.50 L667.00,372.54 L667.50,372.58 L668.00,372.62 L668.50,372.66 L669.00,372.71 L669.50,372.75 L670.00,372.80 L670.50,372.85 L671.00,372.90 L671.50,372.96 L672.00,373.01 L672.50,373.07 L673.00,373.13 L673.50,373.19 L674.00,373.26 L674.50,373.32 L675.00,373.39 L675.50,373.46 L676.00,373.53 L676.50,373.60 L677.00,373.68 L677.50,373.76 L678.00,373.83 L678.50,373.92 L679.00,374.00 L679.50,374.08 L680.00,374.17 L680.50,374.26 L681.00,374.35 L681.50,374.44 L682.00,374.53 L682.50,374.63 L683.00,374.73 L683.50,374.83 L684.00,374.93 L684.50,375.03 L685.00,375.14 L685.50,375.24 L686.00,375.35 L686.50,375.46 L687.00,375.57 L687.50,375.69 L688.00,375.80 L688.50,375.92 L689.00,376.04 L689.50,376.16 L690.00,376.28 L690.50,376.41 L691.00,376.53 L691.50,376.66 L692.00,376.79 L692.50,376.92 L693.00,377.05 L693.50,377.18 L694.00,377.32 L694.50,377.46 L695.00,377.59 L695.50,377.73 L696.00,377.87 L696.50,378.02 L697.00,378.16 L697.50,378.31 L698.00,378.45 L698.50,378.60 L699.00,378.75 L699.50,378.90 L700.00,379.05 L700.50,379.21 L701.00,379.36 L701.50,379.52 L702.00,379.67 L702.50,379.83 L703.00,379.99 L703.50,380.15 L704.00,380.31 L704.50,380.48 L705.00,380.64 L705.50,380.81 L706.00,380.98 L706.50,381.14 L707.00,381.31 L707.50,381.48 L708.00,381.66 L708.50,381.83 L709.00,382.00 L709.50,382.18 L710.00,382.35 L710.50,382.53 L711.00,382.71 L711.50,382.89 L712.00,383.07 L712.50,383.25 L713.00,383.43 L713.50,383.61 L714.00,383.80 L714.50,383.98 L715.00,384.17 L715.50,384.36 L716.00,384.54 L716.50,384.73 L717.00,384.92 L717.50,385.11 L718.00,385.30 L718.50,385.50 L719.00,385.69 L719.50,385.88 L720.00,386.07 L720.50,386.27 L721.00,386.46 L721.50,386.66 L722.00,386.85 L722.50,387.05 L723.00,387.24 L723.50,387.44 L724.00,387.63 L724.50,387.83 L725.00,388.02 L725.50,388.21 L726.00,388.41 L726.50,388.60 L727.00,388.80 L727.50,388.99 L728.00,389.19 L728.50,389.38 L729.00,389.57 L729.50,389.77 L730.00,389.96 L730.50,390.16 L731.00,390.35 L731.50,390.54 L732.00,390.74 L732.50,390.93 L733.00,391.12 L733.50,391.32 L734.00,391.51 L734.50,391.71 L735.00,391.90 L735.50,392.10 L736.00,392.29 L736.50,392.49 L737.00,392.68 L737.50,392.88 L738.00,393.07 L738.50,393.27 L739.00,393.46 L739.50,393.66 L740.00,393.86 L740.50,394.05 L741.00,394.25 L741.50,394.44 L742.00,394.64 L742.50,394.84 L743.00,395.04 L743.50,395.23 L744.00,395.43 L744.50,395.63 L745.00,395.83 L745.50,396.02 L746.00,396.22 L746.50,396.42 L747.00,396.62 L747.50,396.82 L748.00,397.02 L748.50,397.22 L749.00,397.42 L749.50,397.62 L750.00,397.82 L750.50,398.02 L751.00,398.22 L751.50,398.42 L752.00,398.62 L752.50,398.82 L753.00,399.02 L753.50,399.22 L754.00,399.42 L754.50,399.62 L755.00,399.82 L755.50,400.03 L756.00,400.23 L756.50,400.43 L757.00,400.63 L757.50,400.84 L758.00,401.04 L758.50,401.24 L759.00,401.44 L759.50,401.65 L760.00,401.85 L760.50,402.05 L761.00,402.26 L761.50,402.46 L762.00,402.67 L762.50,402.87 L763.00,403.07 L763.50,403.28 L764.00,403.48 L764.50,403.69 L765.00,403.89 L765.50,404.10 L766.00,404.30 L766.50,404.51 L767.00,404.71 L767.50,404.91 L768.00,405.12 L768.50,405.32 L769.00,405.53 L769.50,405.73 L770.00,405.94 L770.50,406.14 L771.00,406.35 L771.50,406.55 L772.00,406.75 L772.50,406.96 L773.00,407.16 L773.50,407.36 L774.00,407.57 L774.50,407.77 L775.00,407.97 L775.50,408.18 L776.00,408.38 L776.50,408.58 L777.00,408.79 L777.50,408.99 L778.00,409.19 L778.50,409.39 L779.00,409.59 L779.50,409.80 L780.00,410.00 L780.50,410.20 L781.00,410.40 L781.50,410.60 L782.00,410.80 L782.50,411.00 L783.00,411.20 L783.50,411.40 L784.00,411.60 L784.50,411.80 L785.00,411.99 L785.50,412.19 L786.00,412.39 L786.50,412.59 L787.00,412.78 L787.50,412.98 L788.00,413.18 L788.50,413.37 L789.00,413.57 L789.50,413.76 L790.00,413.96 L790.50,414.15 L791.00,414.34 L791.50,414.54 L792.00,414.73 L792.50,414.92 L793.00,415.11 L793.50,415.31 L794.00,415.50 L794.50,415.69 L795.00,415.88 L795.50,416.07 L796.00,416.25 L796.50,416.44 L797.00,416.63 L797.50,416.82 L798.00,417.00 L798.50,417.19 L799.00,417.38 L799.50,417.56 L800.00,417.74 L800.50,417.93 L801.00,418.11 L801.50,418.29 L802.00,418.47 L802.50,418.66 L803.00,418.84 L803.50,419.02 L804.00,419.19 L804.50,419.37 L805.00,419.55 L805.50,419.73 L806.00,419.90 L806.50,420.08 L807.00,420.26 L807.50,420.43 L808.00,420.60 L808.50,420.78 L809.00,420.95 L809.50,421.12 L810.00,421.29 L810.50,421.46 L811.00,421.63 L811.50,421.80 L812.00,421.97 L812.50,422.13 L813.00,422.30 L813.50,422.47 L814.00,422.63 L814.50,422.80 L815.00,422.96 L815.50,423.12 L816.00,423.28 L816.50,423.44 L817.00,423.60 L817.50,423.76 L818.00,423.92 L818.50,424.08 L819.00,424.24 L819.50,424.39 L820.00,424.55 L820.50,424.70 L821.00,424.86 L821.50,425.01 L822.00,425.16 L822.50,425.31 L823.00,425.46 L823.50,425.61 L824.00,425.76 L824.50,425.91 L825.00,426.06 L825.50,426.20 L826.00,426.35 L826.50,426.49 L827.00,426.64 L827.50,426.78 L828.00,426.92 L828.50,427.06 L829.00,427.20 L829.50,427.34 L830.00,427.48 L830.50,427.62 L831.00,427.75 L831.50,427.89 L832.00,428.02 L832.50,428.15 L833.00,428.29 L833.50,428.42 L834.00,428.55 L834.50,428.68 L835.00,428.81 L835.50,428.93 L836.00,429.06 L836.50,429.19 L837.00,429.31 L837.50,429.44 L838.00,429.56 L838.50,429.68 L839.00,429.80 L839.50,429.92 L840.00,430.04 L840.50,430.16 L841.00,430.28 L841.50,430.40 L842.00,430.51 L842.50,430.63 L843.00,430.74 L843.50,430.86 L844.00,430.97 L844.50,431.08 L845.00,431.20 L845.50,431.31 L846.00,431.42 L846.50,431.53 L847.00,431.64 L847.50,431.74 L848.00,431.85 L848.50,431.96 L849.00,432.06 L849.50,432.17 L850.00,432.27 L850.50,432.38 L851.00,432.48 L851.50,432.58 L852.00,432.68 L852.50,432.78 L853.00,432.88 L853.50,432.98 L854.00,433.08 L854.50,433.18 L855.00,433.28 L855.50,433.37 L856.00,433.47 L856.50,433.56 L857.00,433.66 L857.50,433.75 L858.00,433.84 L858.50,433.93 L859.00,434.03 L859.50,434.12 L860.00,434.21 L860.50,434.30 L861.00,434.38 L861.50,434.47 L862.00,434.56 L862.50,434.64 L863.00,434.73 L863.50,434.81 L864.00,434.90 L864.50,434.98 L865.00,435.06 L865.50,435.15 L866.00,435.23 L866.50,435.31 L867.00,435.39 L867.50,435.47 L868.00,435.55 L868.50,435.62 L869.00,435.70 L869.50,435.78 L870.00,435.85 L870.50,435.93 L871.00,436.00 L871.50,436.07 L872.00,436.15 L872.50,436.22 L873.00,436.29 L873.50,436.36 L874.00,436.43 L874.50,436.50 L875.00,436.57 L875.50,436.64 L876.00,436.70 L876.50,436.77 L877.00,436.83 L877.50,436.90 L878.00,436.96 L878.50,437.03 L879.00,437.09 L879.50,437.15 L880.00,437.21 L880.50,437.27 L881.00,437.33 L881.50,437.39 L882.00,437.45 L882.50,437.51 L883.00,437.56 L883.50,437.62 L884.00,437.67 L884.50,437.73 L885.00,437.78 L885.50,437.83 L886.00,437.89 L886.50,437.94 L887.00,437.99 L887.50,438.04 L888.00,438.09 L888.50,438.14 L889.00,438.18 L889.50,438.23 L890.00,438.28 L890.50,438.32 L891.00,438.37 L891.50,438.41 L892.00,438.46 L892.50,438.50 L893.00,438.54 L893.50,438.58 L894.00,438.62 L894.50,438.66 L895.00,438.70 L895.50,438.74 L896.00,438.78 L896.50,438.82 L897.00,438.86 L897.50,438.90 L898.00,438.93 L898.50,438.97 L899.00,439.00 L899.50,439.04 L900.00,439.07 L900.50,439.11 L901.00,439.14 L901.50,439.18 L902.00,439.21 L902.50,439.24 L903.00,439.27 L903.50,439.30 L904.00,439.33 L904.50,439.36 L905.00,439.39 L905.50,439.42 L906.00,439.45 L906.50,439.48 L907.00,439.51 L907.50,439.54 L908.00,439.57 L908.50,439.59 L909.00,439.62 L909.50,439.65 L910.00,439.67 L910.50,439.70 L911.00,439.72 L911.50,439.75 L912.00,439.77 L912.50,439.80 L913.00,439.82 L913.50,439.85 L914.00,439.87 L914.50,439.89 L915.00,439.92 L915.50,439.94 L916.00,439.96 L916.50,439.98 L917.00,440.00 L917.50,440.03 L918.00,440.05 L918.50,440.07 L919.00,440.09 L919.50,440.11 L920.00,440.13 L920.50,440.15 L921.00,440.17 L921.50,440.19 L922.00,440.21 L922.50,440.23 L923.00,440.25 L923.50,440.27 L924.00,440.29 L924.50,440.31 L925.00,440.33 L925.50,440.35 L926.00,440.36 L926.50,440.38 L927.00,440.40 L927.50,440.42 L928.00,440.44 L928.50,440.46 L929.00,440.47 L929.50,440.49 L930.00,440.51 L930.50,440.53 L931.00,440.55 L931.50,440.56 L932.00,440.58 L932.50,440.60 L933.00,440.62 L933.50,440.63 L934.00,440.65" fill="none" stroke="#000" stroke-width="1.2" stroke-linejoin="round" />
<path d="M108.50,640.91 L109.00,640.91 L109.50,640.90 L110.00,640.89 L110.50,640.87 L111.00,640.84 L111.50,640.81 L112.00,640.77 L112.50,640.73 L113.00,640.68 L113.50,640.63 L114.00,640.57 L114.50,640.51 L115.00,640.44 L115.50,640.36 L116.00,640.28 L116.50,640.19 L117.00,640.10 L117.50,640.00 L118.00,639.90 L118.50,639.79 L119.00,639.68 L119.50,639.56 L120.00,639.44 L120.50,639.31 L121.00,639.17 L121.50,639.04 L122.00,638.89 L122.50,638.74 L123.00,638.59 L123.50,638.43 L124.00,638.26 L124.50,638.09 L125.00,637.92 L125.50,637.73 L126.00,637.55 L126.50,637.36 L127.00,637.16 L127.50,636.96 L128.00,636.76 L128.50,636.55 L129.00,636.34 L129.50,636.12 L130.00,635.90 L130.50,635.67 L131.00,635.44 L131.50,635.20 L132.00,634.96 L132.50,634.71 L133.00,634.46 L133.50,634.21 L134.00,633.95 L134.50,633.69 L135.00,633.42 L135.50,633.15 L136.00,632.88 L136.50,632.60 L137.00,632.32 L137.50,632.04 L138.00,631.75 L138.50,631.45 L139.00,631.16 L139.50,630.86 L140.00,630.55 L140.50,630.25 L141.00,629.93 L141.50,629.62 L142.00,629.30 L142.50,628.98 L143.00,628.66 L143.50,628.33 L144.00,628.00 L144.50,627.67 L145.00,627.33 L145.50,626.99 L146.00,626.65 L146.50,626.30 L147.00,625.96 L147.50,625.61 L148.00,625.25 L148.50,624.90 L149.00,624.54 L149.50,624.18 L150.00,623.81 L150.50,623.44 L151.00,623.07 L151.50,622.70 L152.00,622.33 L152.50,621.95 L153.00,621.57 L153.50,621.19 L154.00,620.81 L154.50,620.42 L155.00,620.04 L155.50,619.65 L156.00,619.25 L156.50,618.86 L157.00,618.46 L157.50,618.07 L158.00,617.67 L158.50,617.27 L159.00,616.86 L159.50,616.46 L160.00,616.05 L160.50,615.64 L161.00,615.23 L161.50,614.82 L162.00,614.41 L162.50,613.99 L163.00,613.58 L163.50,613.16 L164.00,612.74 L164.50,612.32 L165.00,611.90 L165.50,611.48 L166.00,611.05 L166.50,610.63 L167.00,610.20 L167.50,609.77 L168.00,609.34 L168.50,608.91 L169.00,608.48 L169.50,608.05 L170.00,607.62 L170.50,607.18 L171.00,606.74 L171.50,606.31 L172.00,605.87 L172.50,605.43 L173.00,604.98 L173.50,604.54 L174.00,604.10 L174.50,603.65 L175.00,603.20 L175.50,602.75 L176.00,602.30 L176.50,601.85 L177.00,601.40 L177.50,600.94 L178.00,600.49 L178.50,600.03 L179.00,599.57 L179.50,599.11 L180.00,598.65 L180.50,598.19 L181.00,597.72 L181.50,597.25 L182.00,596.79 L182.50,596.32 L183.00,595.85 L183.50,595.37 L184.00,594.90 L184.50,594.42 L185.00,593.95 L185.50,593.47 L186.00,592.99 L186.50,592.50 L187.00,592.02 L187.50,591.54 L188.00,591.05 L188.50,590.56 L189.00,590.08 L189.50,589.59 L190.00,589.10 L190.50,588.61 L191.00,588.12 L191.50,587.63 L192.00,587.14 L192.50,586.65 L193.00,586.16 L193.50,585.67 L194.00,585.18 L194.50,584.68 L195.00,584.19 L195.50,583.70 L196.00,583.22 L196.50,582.73 L197.00,582.24 L197.50,581.75 L198.00,581.26 L198.50,580.78 L199.00,580.29 L199.50,579.81 L200.00,579.33 L200.50,578.85 L201.00,578.37 L201.50,577.89 L202.00,577.42 L202.50,576.94 L203.00,576.47 L203.50,576.00 L204.00,575.53 L204.50,575.07 L205.00,574.60 L205.50,574.14 L206.00,573.68 L206.50,573.23 L207.00,572.77 L207.50,572.32 L208.00,571.87 L208.50,571.43 L209.00,570.98 L209.50,570.54 L210.00,570.10 L210.50,569.66 L211.00,569.22 L211.50,568.79 L212.00,568.36 L212.50,567.93 L213.00,567.50 L213.50,567.08 L214.00,566.66 L214.50,566.24 L215.00,565.82 L215.50,565.40 L216.00,564.99 L216.50,564.58 L217.00,564.17 L217.50,563.76 L218.00,563.36 L218.50,562.95 L219.00,562.55 L219.50,562.15 L220.00,561.75 L220.50,561.36 L221.00,560.97 L221.50,560.57 L222.00,560.19 L222.50,559.80 L223.00,559.41 L223.50,559.03 L224.00,558.65 L224.50,558.27 L225.00,557.89 L225.50,557.51 L226.00,557.14 L226.50,556.77 L227.00,556.40 L227.50,556.03 L228.00,555.66 L228.50,555.30 L229.00,554.94 L229.50,554.57 L230.00,554.21 L230.50,553.86 L231.00,553.50 L231.50,553.14 L232.00,552.79 L232.50,552.44 L233.00,552.09 L233.50,551.74 L234.00,551.39 L234.50,551.05 L235.00,550.70 L235.50,550.36 L236.00,550.02 L236.50,549.68 L237.00,549.34 L237.50,549.00 L238.00,548.66 L238.50,548.33 L239.00,547.99 L239.50,547.66 L240.00,547.33 L240.50,547.00 L241.00,546.67 L241.50,546.34 L242.00,546.01 L242.50,545.69 L243.00,545.36 L243.50,545.04 L244.00,544.72 L244.50,544.39 L245.00,544.07 L245.50,543.75 L246.00,543.43 L246.50,543.12 L247.00,542.80 L247.50,542.48 L248.00,542.17 L248.50,541.85 L249.00,541.54 L249.50,541.22 L250.00,540.91 L250.50,540.60 L251.00,540.29 L251.50,539.98 L252.00,539.67 L252.50,539.36 L253.00,539.05 L253.50,538.75 L254.00,538.44 L254.50,538.14 L255.00,537.83 L255.50,537.53 L256.00,537.23 L256.50,536.92 L257.00,536.62 L257.50,536.32 L258.00,536.02 L258.50,535.72 L259.00,535.42 L259.50,535.13 L260.00,534.83 L260.50,534.53 L261.00,534.24 L261.50,533.94 L262.00,533.65 L262.50,533.35 L263.00,533.06 L263.50,532.76 L264.00,532.47 L264.50,532.18 L265.00,531.89 L265.50,531.60 L266.00,531.31 L266.50,531.02 L267.00,530.73 L267.50,530.44 L268.00,530.15 L268.50,529.87 L269.00,529.58 L269.50,529.30 L270.00,529.01 L270.50,528.73 L271.00,528.44 L271.50,528.16 L272.00,527.88 L272.50,527.60 L273.00,527.32 L273.50,527.04 L274.00,526.76 L274.50,526.49 L275.00,526.21 L275.50,525.93 L276.00,525.66 L276.50,525.39 L277.00,525.12 L277.50,524.84 L278.00,524.57 L278.50,524.31 L279.00,524.04 L279.50,523.77 L280.00,523.51 L280.50,523.24 L281.00,522.98 L281.50,522.72 L282.00,522.46 L282.50,522.20 L283.00,521.94 L283.50,521.68 L284.00,521.43 L284.50,521.18 L285.00,520.92 L285.50,520.67 L286.00,520.42 L286.50,520.17 L287.00,519.93 L287.50,519.68 L288.00,519.44 L288.50,519.20 L289.00,518.96 L289.50,518.72 L290.00,518.48 L290.50,518.24 L291.00,518.01 L291.50,517.77 L292.00,517.54 L292.50,517.31 L293.00,517.08 L293.50,516.85 L294.00,516.63 L294.50,516.40 L295.00,516.18 L295.50,515.96 L296.00,515.74 L296.50,515.52 L297.00,515.31 L297.50,515.09 L298.00,514.88 L298.50,514.67 L299.00,514.46 L299.50,514.25 L300.00,514.04 L300.50,513.84 L301.00,513.63 L301.50,513.43 L302.00,513.23 L302.50,513.03 L303.00,512.83 L303.50,512.64 L304.00,512.44 L304.50,512.25 L305.00,512.06 L305.50,511.87 L306.00,511.69 L306.50,511.50 L307.00,511.32 L307.50,511.13 L308.00,510.95 L308.50,510.77 L309.00,510.60 L309.50,510.42 L310.00,510.25 L310.50,510.07 L311.00,509.90 L311.50,509.73 L312.00,509.56 L312.50,509.40 L313.00,509.23 L313.50,509.07 L314.00,508.90 L314.50,508.74 L315.00,508.58 L315.50,508.42 L316.00,508.27 L316.50,508.11 L317.00,507.96 L317.50,507.80 L318.00,507.65 L318.50,507.50 L319.00,507.35 L319.50,507.20 L320.00,507.05 L320.50,506.91 L321.00,506.76 L321.50,506.62 L322.00,506.48 L322.50,506.34 L323.00,506.20 L323.50,506.06 L324.00,505.92 L324.50,505.79 L325.00,505.65 L325.50,505.52 L326.00,505.39 L326.50,505.25 L327.00,505.12 L327.50,505.00 L328.00,504.87 L328.50,504.74 L329.00,504.62 L329.50,504.49 L330.00,504.37 L330.50,504.25 L331.00,504.13 L331.50,504.01 L332.00,503.89 L332.50,503.78 L333.00,503.66 L333.50,503.55 L334.00,503.43 L334.50,503.32 L335.00,503.21 L335.50,503.10 L336.00,502.99 L336.50,502.88 L337.00,502.78 L337.50,502.67 L338.00,502.57 L338.50,502.46 L339.00,502.36 L339.50,502.26 L340.00,502.16 L340.50,502.06 L341.00,501.96 L341.50,501.87 L342.00,501.77 L342.50,501.68 L343.00,501.58 L343.50,501.49 L344.00,501.40 L344.50,501.31 L345.00,501.22 L345.50,501.13 L346.00,501.05 L346.50,500.96 L347.00,500.87 L347.50,500.79 L348.00,500.71 L348.50,500.63 L349.00,500.54 L349.50,500.46 L350.00,500.39 L350.50,500.31 L351.00,500.23 L351.50,500.16 L352.00,500.08 L352.50,500.01 L353.00,499.93 L353.50,499.86 L354.00,499.79 L354.50,499.72 L355.00,499.65 L355.50,499.58 L356.00,499.52 L356.50,499.45 L357.00,499.39 L357.50,499.32 L358.00,499.26 L358.50,499.20 L359.00,499.14 L359.50,499.08 L360.00,499.02 L360.50,498.96 L361.00,498.90 L361.50,498.85 L362.00,498.79 L362.50,498.74 L363.00,498.68 L363.50,498.63 L364.00,498.58 L364.50,498.53 L365.00,498.48 L365.50,498.43 L366.00,498.39 L366.50,498.34 L367.00,498.29 L367.50,498.25 L368.00,498.21 L368.50,498.16 L369.00,498.12 L369.50,498.08 L370.00,498.04 L370.50,498.00 L371.00,497.96 L371.50,497.93 L372.00,497.89 L372.50,497.85 L373.00,497.82 L373.50,497.79 L374.00,497.75 L374.50,497.72 L375.00,497.69 L375.50,497.66 L376.00,497.63 L376.50,497.61 L377.00,497.58 L377.50,497.55 L378.00,497.53 L378.50,497.50 L379.00,497.48 L379.50,497.46 L380.00,497.44 L380.50,497.41 L381.00,497.39 L381.50,497.38 L382.00,497.36 L382.50,497.34 L383.00,497.32 L383.50,497.31 L384.00,497.29 L384.50,497.28 L385.00,497.27 L385.50,497.26 L386.00,497.24 L386.50,497.23 L387.00,497.22 L387.50,497.22 L388.00,497.21 L388.50,497.20 L389.00,497.20 L389.50,497.19 L390.00,497.19 L390.50,497.18 L391.00,497.18 L391.50,497.18 L392.00,497.18 L392.50,497.18 L393.00,497.18 L393.50,497.18 L394.00,497.18 L394.50,497.18 L395.00,497.19 L395.50,497.19 L396.00,497.20 L396.50,497.20 L397.00,497.21 L397.50,497.22 L398.00,497.23 L398.50,497.24 L399.00,497.25 L399.50,497.26 L400.00,497.27 L400.50,497.28 L401.00,497.29 L401.50,497.31 L402.00,497.32 L402.50,497.34 L403.00,497.35 L403.50,497.37 L404.00,497.39 L404.50,497.41 L405.00,497.42 L405.50,497.44 L406.00,497.46 L406.50,497.49 L407.00,497.51 L407.50,497.53 L408.00,497.55 L408.50,497.58 L409.00,497.60 L409.50,497.63 L410.00,497.65 L410.50,497.68 L411.00,497.71 L411.50,497.74 L412.00,497.77 L412.50,497.80 L413.00,497.83 L413.50,497.86 L414.00,497.89 L414.50,497.92 L415.00,497.96 L415.50,497.99 L416.00,498.02 L416.50,498.06 L417.00,498.10 L417.50,498.13 L418.00,498.17 L418.50,498.21 L419.00,498.25 L419.50,498.29 L420.00,498.33 L420.50,498.37 L421.00,498.41 L421.50,498.45 L422.00,498.50 L422.50,498.54 L423.00,498.59 L423.50,498.63 L424.00,498.68 L424.50,498.72 L425.00,498.77 L425.50,498.82 L426.00,498.87 L426.50,498.92 L427.00,498.97 L427.50,499.02 L428.00,499.07 L428.50,499.12 L429.00,499.18 L429.50,499.23 L430.00,499.29 L430.50,499.34 L431.00,499.40 L431.50,499.45 L432.00,499.51 L432.50,499.57 L433.00,499.63 L433.50,499.69 L434.00,499.75 L434.50,499.81 L435.00,499.87 L435.50,499.93 L436.00,499.99 L436.50,500.06 L437.00,500.12 L437.50,500.18 L438.00,500.25 L438.50,500.31 L439.00,500.38 L439.50,500.45 L440.00,500.52 L440.50,500.58 L441.00,500.65 L441.50,500.72 L442.00,500.79 L442.50,500.86 L443.00,500.94 L443.50,501.01 L444.00,501.08 L444.50,501.15 L445.00,501.23 L445.50,501.30 L446.00,501.38 L446.50,501.45 L447.00,501.53 L447.50,501.61 L448.00,501.68 L448.50,501.76 L449.00,501.84 L449.50,501.92 L450.00,502.00 L450.50,502.08 L451.00,502.16 L451.50,502.24 L452.00,502.32 L452.50,502.41 L453.00,502.49 L453.50,502.58 L454.00,502.66 L454.50,502.74 L455.00,502.83 L455.50,502.92 L456.00,503.00 L456.50,503.09 L457.00,503.18 L457.50,503.27 L458.00,503.36 L458.50,503.45 L459.00,503.54 L459.50,503.63 L460.00,503.72 L460.50,503.81 L461.00,503.90 L461.50,503.99 L462.00,504.09 L462.50,504.18 L463.00,504.28 L463.50,504.37 L464.00,504.47 L464.50,504.56 L465.00,504.66 L465.50,504.76 L466.00,504.85 L466.50,504.95 L467.00,505.05 L467.50,505.15 L468.00,505.25 L468.50,505.35 L469.00,505.45 L469.50,505.55 L470.00,505.65 L470.50,505.76 L471.00,505.86 L471.50,505.96 L472.00,506.07 L472.50,506.17 L473.00,506.28 L473.50,506.38 L474.00,506.49 L474.50,506.60 L475.00,506.71 L475.50,506.81 L476.00,506.92 L476.50,507.03 L477.00,507.14 L477.50,507.25 L478.00,507.37 L478.50,507.48 L479.00,507.59 L479.50,507.70 L480.00,507.82 L480.50,507.93 L481.00,508.05 L481.50,508.17 L482.00,508.28 L482.50,508.40 L483.00,508.52 L483.50,508.64 L484.00,508.76 L484.50,508.88 L485.00,509.00 L485.50,509.12 L486.00,509.24 L486.50,509.37 L487.00,509.49 L487.50,509.62 L488.00,509.74 L488.50,509.87 L489.00,510.00 L489.50,510.12 L490.00,510.25 L490.50,510.38 L491.00,510.51 L491.50,510.64 L492.00,510.77 L492.50,510.91 L493.00,511.04 L493.50,511.17 L494.00,511.31 L494.50,511.44 L495.00,511.58 L495.50,511.72 L496.00,511.86 L496.50,512.00 L497.00,512.14 L497.50,512.28 L498.00,512.42 L498.50,512.56 L499.00,512.70 L499.50,512.85 L500.00,512.99 L500.50,513.14 L501.00,513.29 L501.50,513.43 L502.00,513.58 L502.50,513.73 L503.00,513.88 L503.50,514.03 L504.00,514.19 L504.50,514.34 L505.00,514.49 L505.50,514.65 L506.00,514.80 L506.50,514.96 L507.00,515.12 L507.50,515.28 L508.00,515.44 L508.50,515.60 L509.00,515.76 L509.50,515.92 L510.00,516.08 L510.50,516.25 L511.00,516.41 L511.50,516.58 L512.00,516.74 L512.50,516.91 L513.00,517.07 L513.50,517.24 L514.00,517.41 L514.50,517.58 L515.00,517.75 L515.50,517.92 L516.00,518.09 L516.50,518.26 L517.00,518.43 L517.50,518.61 L518.00,518.78 L518.50,518.95 L519.00,519.13 L519.50,519.30 L520.00,519.48 L520.50,519.66 L521.00,519.83 L521.50,520.01 L522.00,520.19 L522.50,520.37 L523.00,520.54 L523.50,520.72 L524.00,520.90 L524.50,521.09 L525.00,521.27 L525.50,521.45 L526.00,521.63 L526.50,521.81 L527.00,522.00 L527.50,522.18 L528.00,522.36 L528.50,522.55 L529.00,522.73 L529.50,522.92 L530.00,523.11 L530.50,523.29 L531.00,523.48 L531.50,523.67 L532.00,523.86 L532.50,524.04 L533.00,524.23 L533.50,524.42 L534.00,524.61 L534.50,524.80 L535.00,524.99 L535.50,525.18 L536.00,525.38 L536.50,525.57 L537.00,525.76 L537.50,525.95 L538.00,526.15 L538.50,526.34 L539.00,526.53 L539.50,526.73 L540.00,526.92 L540.50,527.12 L541.00,527.31 L541.50,527.51 L542.00,527.71 L542.50,527.90 L543.00,528.10 L543.50,528.30 L544.00,528.49 L544.50,528.69 L545.00,528.89 L545.50,529.09 L546.00,529.29 L546.50,529.48 L547.00,529.68 L547.50,529.88 L548.00,530.08 L548.50,530.28 L549.00,530.48 L549.50,530.68 L550.00,530.88 L550.50,531.08 L551.00,531.28 L551.50,531.49 L552.00,531.69 L552.50,531.89 L553.00,532.09 L553.50,532.29 L554.00,532.49 L554.50,532.70 L555.00,532.90 L555.50,533.10 L556.00,533.30 L556.50,533.50 L557.00,533.71 L557.50,533.91 L558.00,534.11 L558.50,534.32 L559.00,534.52 L559.50,534.72 L560.00,534.93 L560.50,535.13 L561.00,535.33 L561.50,535.54 L562.00,535.74 L562.50,535.94 L563.00,536.15 L563.50,536.35 L564.00,536.55 L564.50,536.76 L565.00,536.96 L565.50,537.16 L566.00,537.37 L566.50,537.57 L567.00,537.77 L567.50,537.98 L568.00,538.18 L568.50,538.38 L569.00,538.59 L569.50,538.79 L570.00,538.99 L570.50,539.19 L571.00,539.40 L571.50,539.60 L572.00,539.80 L572.50,540.00 L573.00,540.20 L573.50,540.40 L574.00,540.61 L574.50,540.81 L575.00,541.01 L575.50,541.21 L576.00,541.41 L576.50,541.60 L577.00,541.80 L577.50,542.00 L578.00,542.20 L578.50,542.40 L579.00,542.59 L579.50,542.79 L580.00,542.98 L580.50,543.18 L581.00,543.37 L581.50,543.57 L582.00,543.76 L582.50,543.95 L583.00,544.15 L583.50,544.34 L584.00,544.53 L584.50,544.72 L585.00,544.91 L585.50,545.09 L586.00,545.28 L586.50,545.47 L587.00,545.65 L587.50,545.84 L588.00,546.02 L588.50,546.21 L589.00,546.39 L589.50,546.57 L590.00,546.75 L590.50,546.93 L591.00,547.11 L591.50,547.29 L592.00,547.46 L592.50,547.64 L593.00,547.81 L593.50,547.99 L594.00,548.16 L594.50,548.33 L595.00,548.50 L595.50,548.67 L596.00,548.84 L596.50,549.00 L597.00,549.17 L597.50,549.33 L598.00,549.49 L598.50,549.65 L599.00,549.81 L599.50,549.97 L600.00,550.13 L600.50,550.29 L601.00,550.44 L601.50,550.59 L602.00,550.75 L602.50,550.90 L603.00,551.05 L603.50,551.20 L604.00,551.34 L604.50,551.49 L605.00,551.64 L605.50,551.78 L606.00,551.93 L606.50,552.07 L607.00,552.21 L607.50,552.35 L608.00,552.49 L608.50,552.63 L609.00,552.77 L609.50,552.91 L610.00,553.05 L610.50,553.19 L611.00,553.32 L611.50,553.46 L612.00,553.59 L612.50,553.73 L613.00,553.86 L613.50,553.99 L614.00,554.12 L614.50,554.25 L615.00,554.38 L615.50,554.51 L616.00,554.64 L616.50,554.76 L617.00,554.89 L617.50,555.01 L618.00,555.13 L618.50,555.25 L619.00,555.38 L619.50,555.49 L620.00,555.61 L620.50,555.73 L621.00,555.85 L621.50,555.96 L622.00,556.08 L622.50,556.19 L623.00,556.30 L623.50,556.41 L624.00,556.52 L624.50,556.63 L625.00,556.73 L625.50,556.84 L626.00,556.94 L626.50,557.04 L627.00,557.15 L627.50,557.25 L628.00,557.34 L628.50,557.44 L629.00,557.54 L629.50,557.63 L630.00,557.72 L630.50,557.81 L631.00,557.90 L631.50,557.99 L632.00,558.08 L632.50,558.16 L633.00,558.25 L633.50,558.33 L634.00,558.41 L634.50,558.49 L635.00,558.57 L635.50,558.64 L636.00,558.72 L636.50,558.79 L637.00,558.86 L637.50,558.93 L638.00,559.00 L638.50,559.07 L639.00,559.13 L639.50,559.20 L640.00,559.26 L640.50,559.32 L641.00,559.38 L641.50,559.43 L642.00,559.49 L642.50,559.54 L643.00,559.59 L643.50,559.64 L644.00,559.69 L644.50,559.74 L645.00,559.78 L645.50,559.83 L646.00,559.87 L646.50,559.91 L647.00,559.95 L647.50,559.98 L648.00,560.02 L648.50,560.05 L649.00,560.08 L649.50,560.11 L650.00,560.14 L650.50,560.16 L651.00,560.19 L651.50,560.21 L652.00,560.23 L652.50,560.25 L653.00,560.27 L653.50,560.28 L654.00,560.29 L654.50,560.30 L655.00,560.31 L655.50,560.32 L656.00,560.33 L656.50,560.33 L657.00,560.33 L657.50,560.33 L658.00,560.33 L658.50,560.33 L659.00,560.32 L659.50,560.31 L660.00,560.30 L660.50,560.29 L661.00,560.28 L661.50,560.26 L662.00,560.24 L662.50,560.22 L663.00,560.20 L663.50,560.18 L664.00,560.15 L664.50,560.13 L665.00,560.10 L665.50,560.07 L666.00,560.03 L666.50,560.00 L667.00,559.96 L667.50,559.92 L668.00,559.88 L668.50,559.84 L669.00,559.79 L669.50,559.75 L670.00,559.70 L670.50,559.65 L671.00,559.60 L671.50,559.54 L672.00,559.49 L672.50,559.43 L673.00,559.37 L673.50,559.31 L674.00,559.24 L674.50,559.18 L675.00,559.11 L675.50,559.04 L676.00,558.97 L676.50,558.90 L677.00,558.82 L677.50,558.74 L678.00,558.67 L678.50,558.58 L679.00,558.50 L679.50,558.42 L680.00,558.33 L680.50,558.24 L681.00,558.15 L681.50,558.06 L682.00,557.97 L682.50,557.87 L683.00,557.77 L683.50,557.67 L684.00,557.57 L684.50,557.47 L685.00,557.36 L685.50,557.26 L686.00,557.15 L686.50,557.04 L687.00,556.93 L687.50,556.81 L688.00,556.70 L688.50,556.58 L689.00,556.46 L689.50,556.34 L690.00,556.22 L690.50,556.09 L691.00,555.97 L691.50,555.84 L692.00,555.71 L692.50,555.58 L693.00,555.45 L693.50,555.32 L694.00,555.18 L694.50,555.04 L695.00,554.91 L695.50,554.77 L696.00,554.63 L696.50,554.48 L697.00,554.34 L697.50,554.19 L698.00,554.05 L698.50,553.90 L699.00,553.75 L699.50,553.60 L700.00,553.45 L700.50,553.29 L701.00,553.14 L701.50,552.98 L702.00,552.83 L702.50,552.67 L703.00,552.51 L703.50,552.35 L704.00,552.19 L704.50,552.02 L705.00,551.86 L705.50,551.69 L706.00,551.52 L706.50,551.36 L707.00,551.19 L707.50,551.02 L708.00,550.84 L708.50,550.67 L709.00,550.50 L709.50,550.32 L710.00,550.15 L710.50,549.97 L711.00,549.79 L711.50,549.61 L712.00,549.43 L712.50,549.25 L713.00,549.07 L713.50,548.89 L714.00,548.70 L714.50,548.52 L715.00,548.33 L715.50,548.14 L716.00,547.96 L716.50,547.77 L717.00,547.58 L717.50,547.39 L718.00,547.20 L718.50,547.00 L719.00,546.81 L719.50,546.62 L720.00,546.43 L720.50,546.23 L721.00,546.04 L721.50,545.84 L722.00,545.65 L722.50,545.45 L723.00,545.26 L723.50,545.06 L724.00,544.87 L724.50,544.67 L725.00,544.48 L725.50,544.29 L726.00,544.09 L726.50,543.90 L727.00,543.70 L727.50,543.51 L728.00,543.31 L728.50,543.12 L729.00,542.93 L729.50,542.73 L730.00,542.54 L730.50,542.34 L731.00,542.15 L731.50,541.96 L732.00,541.76 L732.50,541.57 L733.00,541.38 L733.50,541.18 L734.00,540.99 L734.50,540.79 L735.00,540.60 L735.50,540.40 L736.00,540.21 L736.50,540.01 L737.00,539.82 L737.50,539.62 L738.00,539.43 L738.50,539.23 L739.00,539.04 L739.50,538.84 L740.00,538.64 L740.50,538.45 L741.00,538.25 L741.50,538.06 L742.00,537.86 L742.50,537.66 L743.00,537.46 L743.50,537.27 L744.00,537.07 L744.50,536.87 L745.00,536.67 L745.50,536.48 L746.00,536.28 L746.50,536.08 L747.00,535.88 L747.50,535.68 L748.00,535.48 L748.50,535.28 L749.00,535.08 L749.50,534.88 L750.00,534.68 L750.50,534.48 L751.00,534.28 L751.50,534.08 L752.00,533.88 L752.50,533.68 L753.00,533.48 L753.50,533.28 L754.00,533.08 L754.50,532.88 L755.00,532.68 L755.50,532.47 L756.00,532.27 L756.50,532.07 L757.00,531.87 L757.50,531.66 L758.00,531.46 L758.50,531.26 L759.00,531.06 L759.50,530.85 L760.00,530.65 L760.50,530.45 L761.00,530.24 L761.50,530.04 L762.00,529.83 L762.50,529.63 L763.00,529.43 L763.50,529.22 L764.00,529.02 L764.50,528.81 L765.00,528.61 L765.50,528.40 L766.00,528.20 L766.50,527.99 L767.00,527.79 L767.50,527.59 L768.00,527.38 L768.50,527.18 L769.00,526.97 L769.50,526.77 L770.00,526.56 L770.50,526.36 L771.00,526.15 L771.50,525.95 L772.00,525.75 L772.50,525.54 L773.00,525.34 L773.50,525.14 L774.00,524.93 L774.50,524.73 L775.00,524.53 L775.50,524.32 L776.00,524.12 L776.50,523.92 L777.00,523.71 L777.50,523.51 L778.00,523.31 L778.50,523.11 L779.00,522.91 L779.50,522.70 L780.00,522.50 L780.50,522.30 L781.00,522.10 L781.50,521.90 L782.00,521.70 L782.50,521.50 L783.00,521.30 L783.50,521.10 L784.00,520.90 L784.50,520.70 L785.00,520.51 L785.50,520.31 L786.00,520.11 L786.50,519.91 L787.00,519.72 L787.50,519.52 L788.00,519.32 L788.50,519.13 L789.00,518.93 L789.50,518.74 L790.00,518.54 L790.50,518.35 L791.00,518.16 L791.50,517.96 L792.00,517.77 L792.50,517.58 L793.00,517.39 L793.50,517.19 L794.00,517.00 L794.50,516.81 L795.00,516.62 L795.50,516.43 L796.00,516.25 L796.50,516.06 L797.00,515.87 L797.50,515.68 L798.00,515.50 L798.50,515.31 L799.00,515.12 L799.50,514.94 L800.00,514.76 L800.50,514.57 L801.00,514.39 L801.50,514.21 L802.00,514.03 L802.50,513.84 L803.00,513.66 L803.50,513.48 L804.00,513.31 L804.50,513.13 L805.00,512.95 L805.50,512.77 L806.00,512.60 L806.50,512.42 L807.00,512.24 L807.50,512.07 L808.00,511.90 L808.50,511.72 L809.00,511.55 L809.50,511.38 L810.00,511.21 L810.50,511.04 L811.00,510.87 L811.50,510.70 L812.00,510.53 L812.50,510.37 L813.00,510.20 L813.50,510.03 L814.00,509.87 L814.50,509.70 L815.00,509.54 L815.50,509.38 L816.00,509.22 L816.50,509.06 L817.00,508.90 L817.50,508.74 L818.00,508.58 L818.50,508.42 L819.00,508.26 L819.50,508.11 L820.00,507.95 L820.50,507.80 L821.00,507.64 L821.50,507.49 L822.00,507.34 L822.50,507.19 L823.00,507.04 L823.50,506.89 L824.00,506.74 L824.50,506.59 L825.00,506.44 L825.50,506.30 L826.00,506.15 L826.50,506.01 L827.00,505.86 L827.50,505.72 L828.00,505.58 L828.50,505.44 L829.00,505.30 L829.50,505.16 L830.00,505.02 L830.50,504.88 L831.00,504.75 L831.50,504.61 L832.00,504.48 L832.50,504.35 L833.00,504.21 L833.50,504.08 L834.00,503.95 L834.50,503.82 L835.00,503.69 L835.50,503.57 L836.00,503.44 L836.50,503.31 L837.00,503.19 L837.50,503.06 L838.00,502.94 L838.50,502.82 L839.00,502.70 L839.50,502.58 L840.00,502.46 L840.50,502.34 L841.00,502.22 L841.50,502.10 L842.00,501.99 L842.50,501.87 L843.00,501.76 L843.50,501.64 L844.00,501.53 L844.50,501.42 L845.00,501.30 L845.50,501.19 L846.00,501.08 L846.50,500.97 L847.00,500.86 L847.50,500.76 L848.00,500.65 L848.50,500.54 L849.00,500.44 L849.50,500.33 L850.00,500.23 L850.50,500.12 L851.00,500.02 L851.50,499.92 L852.00,499.82 L852.50,499.72 L853.00,499.62 L853.50,499.52 L854.00,499.42 L854.50,499.32 L855.00,499.22 L855.50,499.13 L856.00,499.03 L856.50,498.94 L857.00,498.84 L857.50,498.75 L858.00,498.66 L858.50,498.57 L859.00,498.47 L859.50,498.38 L860.00,498.29 L860.50,498.20 L861.00,498.12 L861.50,498.03 L862.00,497.94 L862.50,497.86 L863.00,497.77 L863.50,497.69 L864.00,497.60 L864.50,497.52 L865.00,497.44 L865.50,497.35 L866.00,497.27 L866.50,497.19 L867.00,497.11 L867.50,497.03 L868.00,496.95 L868.50,496.88 L869.00,496.80 L869.50,496.72 L870.00,496.65 L870.50,496.57 L871.00,496.50 L871.50,496.43 L872.00,496.35 L872.50,496.28 L873.00,496.21 L873.50,496.14 L874.00,496.07 L874.50,496.00 L875.00,495.93 L875.50,495.86 L876.00,495.80 L876.50,495.73 L877.00,495.67 L877.50,495.60 L878.00,495.54 L878.50,495.47 L879.00,495.41 L879.50,495.35 L880.00,495.29 L880.50,495.23 L881.00,495.17 L881.50,495.11 L882.00,495.05 L882.50,494.99 L883.00,494.94 L883.50,494.88 L884.00,494.83 L884.50,494.77 L885.00,494.72 L885.50,494.67 L886.00,494.61 L886.50,494.56 L887.00,494.51 L887.50,494.46 L888.00,494.41 L888.50,494.36 L889.00,494.32 L889.50,494.27 L890.00,494.22 L890.50,494.18 L891.00,494.13 L891.50,494.09 L892.00,494.04 L892.50,494.00 L893.00,493.96 L893.50,493.92 L894.00,493.88 L894.50,493.84 L895.00,493.80 L895.50,493.76 L896.00,493.72 L896.50,493.68 L897.00,493.64 L897.50,493.60 L898.00,493.57 L898.50,493.53 L899.00,493.50 L899.50,493.46 L900.00,493.43 L900.50,493.39 L901.00,493.36 L901.50,493.32 L902.00,493.29 L902.50,493.26 L903.00,493.23 L903.50,493.20 L904.00,493.17 L904.50,493.14 L905.00,493.11 L905.50,493.08 L906.00,493.05 L906.50,493.02 L907.00,492.99 L907.50,492.96 L908.00,492.93 L908.50,492.91 L909.00,492.88 L909.50,492.85 L910.00,492.83 L910.50,492.80 L911.00,492.78 L911.50,492.75 L912.00,492.73 L912.50,492.70 L913.00,492.68 L913.50,492.65 L914.00,492.63 L914.50,492.61 L915.00,492.58 L915.50,492.56 L916.00,492.54 L916.50,492.52 L917.00,492.50 L917.50,492.47 L918.00,492.45 L918.50,492.43 L919.00,492.41 L919.50,492.39 L920.00,492.37 L920.50,492.35 L921.00,492.33 L921.50,492.31 L922.00,492.29 L922.50,492.27 L923.00,492.25 L923.50,492.23 L924.00,492.21 L924.50,492.19 L925.00,492.17 L925.50,492.15 L926.00,492.14 L926.50,492.12 L927.00,492.10 L927.50,492.08 L928.00,492.06 L928.50,492.04 L929.00,492.03 L929.50,492.01 L930.00,491.99 L930.50,491.97 L931.00,491.95 L931.50,491.94 L932.00,491.92 L932.50,491.90 L933.00,491.88 L933.50,491.87 L934.00,491.85" fill="none" stroke="#000" stroke-width="1.2" stroke-linejoin="round" />
<path d="M108.50,291.58 L109.00,291.58 L109.50,291.59 L110.00,291.61 L110.50,291.63 L111.00,291.65 L111.50,291.68 L112.00,291.72 L112.50,291.76 L113.00,291.81 L113.50,291.87 L114.00,291.93 L114.50,291.99 L115.00,292.06 L115.50,292.14 L116.00,292.22 L116.50,292.31 L117.00,292.40 L117.50,292.50 L118.00,292.60 L118.50,292.71 L119.00,292.82 L119.50,292.94 L120.00,293.06 L120.50,293.19 L121.00,293.33 L121.50,293.46 L122.00,293.61 L122.50,293.76 L123.00,293.91 L123.50,294.07 L124.00,294.24 L124.50,294.41 L125.00,294.58 L125.50,294.77 L126.00,294.95 L126.50,295.14 L127.00,295.34 L127.50,295.54 L128.00,295.74 L128.50,295.95 L129.00,296.16 L129.50,296.38 L130.00,296.60 L130.50,296.83 L131.00,297.06 L131.50,297.30 L132.00,297.54 L132.50,297.79 L133.00,298.04 L133.50,298.29 L134.00,298.55 L134.50,298.81 L135.00,299.08 L135.50,299.35 L136.00,299.62 L136.50,299.90 L137.00,300.18 L137.50,300.46 L138.00,300.75 L138.50,301.05 L139.00,301.34 L139.50,301.64 L140.00,301.95 L140.50,302.25 L141.00,302.57 L141.50,302.88 L142.00,303.20 L142.50,303.52 L143.00,303.84 L143.50,304.17 L144.00,304.50 L144.50,304.83 L145.00,305.17 L145.50,305.51 L146.00,305.85 L146.50,306.20 L147.00,306.54 L147.50,306.89 L148.00,307.25 L148.50,307.60 L149.00,307.96 L149.50,308.32 L150.00,308.69 L150.50,309.06 L151.00,309.43 L151.50,309.80 L152.00,310.17 L152.50,310.55 L153.00,310.93 L153.50,311.31 L154.00,311.69 L154.50,312.08 L155.00,312.46 L155.50,312.85 L156.00,313.25 L156.50,313.64 L157.00,314.04 L157.50,314.43 L158.00,314.83 L158.50,315.23 L159.00,315.64 L159.50,316.04 L160.00,316.45 L160.50,316.86 L161.00,317.27 L161.50,317.68 L162.00,318.09 L162.50,318.51 L163.00,318.92 L163.50,319.34 L164.00,319.76 L164.50,320.18 L165.00,320.60 L165.50,321.02 L166.00,321.45 L166.50,321.87 L167.00,322.30 L167.50,322.73 L168.00,323.16 L168.50,323.59 L169.00,324.02 L169.50,324.45 L170.00,324.88 L170.50,325.30 L171.00,325.72 L171.50,326.14 L172.00,326.56 L172.50,326.98 L173.00,327.40 L173.50,327.82 L174.00,328.25 L174.50,328.67 L175.00,329.09 L175.50,329.52 L176.00,329.94 L176.50,330.37 L177.00,330.79 L177.50,331.22 L178.00,331.64 L178.50,332.07 L179.00,332.49 L179.50,332.92 L180.00,333.35 L180.50,333.77 L181.00,334.20 L181.50,334.63 L182.00,335.06 L182.50,335.48 L183.00,335.91 L183.50,336.34 L184.00,336.77 L184.50,337.19 L185.00,337.62 L185.50,338.05 L186.00,338.48 L186.50,338.91 L187.00,339.34 L187.50,339.76 L188.00,340.19 L188.50,340.62 L189.00,341.05 L189.50,341.48 L190.00,341.90 L190.50,342.33 L191.00,342.76 L191.50,343.18 L192.00,343.61 L192.50,344.03 L193.00,344.46 L193.50,344.88 L194.00,345.30 L194.50,345.73 L195.00,346.15 L195.50,346.57 L196.00,346.99 L196.50,347.41 L197.00,347.82 L197.50,348.24 L198.00,348.66 L198.50,349.07 L199.00,349.49 L199.50,349.90 L200.00,350.31 L200.50,350.72 L201.00,351.13 L201.50,351.54 L202.00,351.94 L202.50,352.35 L203.00,352.75 L203.50,353.15 L204.00,353.55 L204.50,353.95 L205.00,354.35 L205.50,354.74 L206.00,355.14 L206.50,355.53 L207.00,355.92 L207.50,356.30 L208.00,356.69 L208.50,357.08 L209.00,357.46 L209.50,357.84 L210.00,358.22 L210.50,358.59 L211.00,358.97 L211.50,359.34 L212.00,359.72 L212.50,360.08 L213.00,360.45 L213.50,360.82 L214.00,361.18 L214.50,361.54 L215.00,361.90 L215.50,362.26 L216.00,362.62 L216.50,362.97 L217.00,363.33 L217.50,363.68 L218.00,364.02 L218.50,364.37 L219.00,364.71 L219.50,365.06 L220.00,365.40 L220.50,365.73 L221.00,366.07 L221.50,366.40 L222.00,366.74 L222.50,367.07 L223.00,367.39 L223.50,367.72 L224.00,368.04 L224.50,368.36 L225.00,368.68 L225.50,369.00 L226.00,369.31 L226.50,369.62 L227.00,369.93 L227.50,370.24 L228.00,370.55 L228.50,370.85 L229.00,371.15 L229.50,371.45 L230.00,371.75 L230.50,372.04 L231.00,372.33 L231.50,372.62 L232.00,372.91 L232.50,373.19 L233.00,373.48 L233.50,373.76 L234.00,374.04 L234.50,374.31 L235.00,374.59 L235.50,374.86 L236.00,375.13 L236.50,375.39 L237.00,375.66 L237.50,375.92 L238.00,376.18 L238.50,376.43 L239.00,376.69 L239.50,376.94 L240.00,377.19 L240.50,377.44 L241.00,377.69 L241.50,377.93 L242.00,378.17 L242.50,378.41 L243.00,378.64 L243.50,378.88 L244.00,379.11 L244.50,379.33 L245.00,379.56 L245.50,379.78 L246.00,380.00 L246.50,380.22 L247.00,380.44 L247.50,380.65 L248.00,380.86 L248.50,381.07 L249.00,381.28 L249.50,381.48 L250.00,381.69 L250.50,381.89 L251.00,382.08 L251.50,382.28 L252.00,382.47 L252.50,382.66 L253.00,382.85 L253.50,383.03 L254.00,383.22 L254.50,383.40 L255.00,383.58 L255.50,383.75 L256.00,383.93 L256.50,384.10 L257.00,384.27 L257.50,384.43 L258.00,384.60 L258.50,384.76 L259.00,384.92 L259.50,385.08 L260.00,385.24 L260.50,385.39 L261.00,385.54 L261.50,385.69 L262.00,385.84 L262.50,385.99 L263.00,386.13 L263.50,386.27 L264.00,386.41 L264.50,386.55 L265.00,386.68 L265.50,386.81 L266.00,386.95 L266.50,387.07 L267.00,387.20 L267.50,387.33 L268.00,387.45 L268.50,387.57 L269.00,387.69 L269.50,387.80 L270.00,387.92 L270.50,388.03 L271.00,388.14 L271.50,388.25 L272.00,388.36 L272.50,388.46 L273.00,388.57 L273.50,388.67 L274.00,388.77 L274.50,388.87 L275.00,388.96 L275.50,389.06 L276.00,389.15 L276.50,389.24 L277.00,389.33 L277.50,389.41 L278.00,389.50 L278.50,389.58 L279.00,389.67 L279.50,389.75 L280.00,389.82 L280.50,389.90 L281.00,389.98 L281.50,390.05 L282.00,390.12 L282.50,390.19 L283.00,390.26 L283.50,390.33 L284.00,390.40 L284.50,390.46 L285.00,390.52 L285.50,390.59 L286.00,390.65 L286.50,390.70 L287.00,390.76 L287.50,390.82 L288.00,390.87 L288.50,390.92 L289.00,390.97 L289.50,391.03 L290.00,391.07 L290.50,391.12 L291.00,391.17 L291.50,391.21 L292.00,391.26 L292.50,391.30 L293.00,391.34 L293.50,391.38 L294.00,391.42 L294.50,391.45 L295.00,391.49 L295.50,391.53 L296.00,391.56 L296.50,391.59 L297.00,391.62 L297.50,391.65 L298.00,391.68 L298.50,391.71 L299.00,391.74 L299.50,391.77 L300.00,391.79 L300.50,391.82 L301.00,391.84 L301.50,391.86 L302.00,391.88 L302.50,391.90 L303.00,391.92 L303.50,391.94 L304.00,391.96 L304.50,391.98 L305.00,391.99 L305.50,392.01 L306.00,392.02 L306.50,392.04 L307.00,392.05 L307.50,392.06 L308.00,392.07 L308.50,392.09 L309.00,392.10 L309.50,392.10 L310.00,392.11 L310.50,392.12 L311.00,392.13 L311.50,392.14 L312.00,392.14 L312.50,392.15 L313.00,392.15 L313.50,392.16 L314.00,392.16 L314.50,392.17 L315.00,392.17 L315.50,392.17 L316.00,392.17 L316.50,392.17 L317.00,392.18 L317.50,392.18 L318.00,392.18 L318.50,392.18 L319.00,392.18 L319.50,392.17 L320.00,392.17 L320.50,392.17 L321.00,392.17 L321.50,392.17 L322.00,392.16 L322.50,392.16 L323.00,392.16 L323.50,392.15 L324.00,392.15 L324.50,392.14 L325.00,392.14 L325.50,392.13 L326.00,392.12 L326.50,392.12 L327.00,392.11 L327.50,392.10 L328.00,392.10 L328.50,392.09 L329.00,392.08 L329.50,392.07 L330.00,392.06 L330.50,392.05 L331.00,392.04 L331.50,392.03 L332.00,392.02 L332.50,392.01 L333.00,392.00 L333.50,391.99 L334.00,391.98 L334.50,391.97 L335.00,391.96 L335.50,391.95 L336.00,391.93 L336.50,391.92 L337.00,391.91 L337.50,391.90 L338.00,391.88 L338.50,391.87 L339.00,391.86 L339.50,391.84 L340.00,391.83 L340.50,391.82 L341.00,391.80 L341.50,391.79 L342.00,391.77 L342.50,391.76 L343.00,391.75 L343.50,391.73 L344.00,391.72 L344.50,391.70 L345.00,391.68 L345.50,391.67 L346.00,391.65 L346.50,391.64 L347.00,391.62 L347.50,391.61 L348.00,391.59 L348.50,391.58 L349.00,391.56 L349.50,391.54 L350.00,391.53 L350.50,391.51 L351.00,391.49 L351.50,391.48 L352.00,391.46 L352.50,391.44 L353.00,391.43 L353.50,391.41 L354.00,391.39 L354.50,391.38 L355.00,391.36 L355.50,391.34 L356.00,391.32 L356.50,391.31 L357.00,391.29 L357.50,391.27 L358.00,391.25 L358.50,391.24 L359.00,391.22 L359.50,391.20 L360.00,391.18 L360.50,391.17 L361.00,391.15 L361.50,391.13 L362.00,391.11 L362.50,391.10 L363.00,391.08 L363.50,391.06 L364.00,391.04 L364.50,391.02 L365.00,391.01 L365.50,390.99 L366.00,390.97 L366.50,390.95 L367.00,390.94 L367.50,390.92 L368.00,390.90 L368.50,390.88 L369.00,390.87 L369.50,390.85 L370.00,390.83 L370.50,390.81 L371.00,390.79 L371.50,390.78 L372.00,390.76 L372.50,390.74 L373.00,390.72 L373.50,390.71 L374.00,390.69 L374.50,390.67 L375.00,390.66 L375.50,390.64 L376.00,390.62 L376.50,390.60 L377.00,390.59 L377.50,390.57 L378.00,390.55 L378.50,390.54 L379.00,390.52 L379.50,390.50 L380.00,390.49 L380.50,390.47 L381.00,390.45 L381.50,390.44 L382.00,390.42 L382.50,390.41 L383.00,390.39 L383.50,390.37 L384.00,390.36 L384.50,390.34 L385.00,390.33 L385.50,390.31 L386.00,390.30 L386.50,390.28 L387.00,390.27 L387.50,390.25 L388.00,390.24 L388.50,390.22 L389.00,390.21 L389.50,390.19 L390.00,390.17 L390.50,390.16 L391.00,390.14 L391.50,390.13 L392.00,390.11 L392.50,390.09 L393.00,390.07 L393.50,390.06 L394.00,390.04 L394.50,390.02 L395.00,390.00 L395.50,389.98 L396.00,389.96 L396.50,389.94 L397.00,389.91 L397.50,389.89 L398.00,389.87 L398.50,389.85 L399.00,389.82 L399.50,389.80 L400.00,389.77 L400.50,389.75 L401.00,389.72 L401.50,389.69 L402.00,389.67 L402.50,389.64 L403.00,389.61 L403.50,389.58 L404.00,389.55 L404.50,389.52 L405.00,389.49 L405.50,389.46 L406.00,389.43 L406.50,389.40 L407.00,389.37 L407.50,389.34 L408.00,389.30 L408.50,389.27 L409.00,389.24 L409.50,389.20 L410.00,389.17 L410.50,389.13 L411.00,389.09 L411.50,389.06 L412.00,389.02 L412.50,388.98 L413.00,388.94 L413.50,388.91 L414.00,388.87 L414.50,388.83 L415.00,388.79 L415.50,388.75 L416.00,388.70 L416.50,388.66 L417.00,388.62 L417.50,388.58 L418.00,388.53 L418.50,388.49 L419.00,388.45 L419.50,388.40 L420.00,388.36 L420.50,388.31 L421.00,388.26 L421.50,388.22 L422.00,388.17 L422.50,388.12 L423.00,388.07 L423.50,388.03 L424.00,387.98 L424.50,387.93 L425.00,387.88 L425.50,387.83 L426.00,387.77 L426.50,387.72 L427.00,387.67 L427.50,387.62 L428.00,387.56 L428.50,387.51 L429.00,387.46 L429.50,387.40 L430.00,387.34 L430.50,387.29 L431.00,387.23 L431.50,387.17 L432.00,387.12 L432.50,387.06 L433.00,387.00 L433.50,386.94 L434.00,386.88 L434.50,386.81 L435.00,386.75 L435.50,386.69 L436.00,386.63 L436.50,386.56 L437.00,386.50 L437.50,386.43 L438.00,386.36 L438.50,386.30 L439.00,386.23 L439.50,386.16 L440.00,386.09 L440.50,386.02 L441.00,385.95 L441.50,385.88 L442.00,385.80 L442.50,385.73 L443.00,385.66 L443.50,385.58 L444.00,385.50 L444.50,385.43 L445.00,385.35 L445.50,385.27 L446.00,385.19 L446.50,385.11 L447.00,385.03 L447.50,384.94 L448.00,384.86 L448.50,384.78 L449.00,384.69 L449.50,384.60 L450.00,384.52 L450.50,384.43 L451.00,384.34 L451.50,384.25 L452.00,384.16 L452.50,384.06 L453.00,383.97 L453.50,383.88 L454.00,383.78 L454.50,383.68 L455.00,383.59 L455.50,383.49 L456.00,383.39 L456.50,383.29 L457.00,383.19 L457.50,383.09 L458.00,382.99 L458.50,382.88 L459.00,382.78 L459.50,382.67 L460.00,382.57 L460.50,382.46 L461.00,382.36 L461.50,382.25 L462.00,382.15 L462.50,382.04 L463.00,381.93 L463.50,381.82 L464.00,381.71 L464.50,381.60 L465.00,381.49 L465.50,381.38 L466.00,381.27 L466.50,381.16 L467.00,381.05 L467.50,380.94 L468.00,380.83 L468.50,380.72 L469.00,380.60 L469.50,380.49 L470.00,380.38 L470.50,380.26 L471.00,380.15 L471.50,380.04 L472.00,379.92 L472.50,379.81 L473.00,379.69 L473.50,379.58 L474.00,379.46 L474.50,379.34 L475.00,379.23 L475.50,379.11 L476.00,378.99 L476.50,378.88 L477.00,378.76 L477.50,378.64 L478.00,378.52 L478.50,378.41 L479.00,378.29 L479.50,378.17 L480.00,378.05 L480.50,377.93 L481.00,377.81 L481.50,377.69 L482.00,377.57 L482.50,377.45 L483.00,377.33 L483.50,377.21 L484.00,377.09 L484.50,376.97 L485.00,376.85 L485.50,376.73 L486.00,376.61 L486.50,376.49 L487.00,376.36 L487.50,376.24 L488.00,376.12 L488.50,376.00 L489.00,375.87 L489.50,375.75 L490.00,375.63 L490.50,375.50 L491.00,375.38 L491.50,375.25 L492.00,375.13 L492.50,375.00 L493.00,374.88 L493.50,374.75 L494.00,374.63 L494.50,374.50 L495.00,374.37 L495.50,374.25 L496.00,374.12 L496.50,373.99 L497.00,373.86 L497.50,373.73 L498.00,373.60 L498.50,373.47 L499.00,373.34 L499.50,373.21 L500.00,373.08 L500.50,372.95 L501.00,372.81 L501.50,372.68 L502.00,372.55 L502.50,372.41 L503.00,372.28 L503.50,372.14 L504.00,372.01 L504.50,371.87 L505.00,371.73 L505.50,371.60 L506.00,371.46 L506.50,371.32 L507.00,371.18 L507.50,371.04 L508.00,370.90 L508.50,370.76 L509.00,370.62 L509.50,370.47 L510.00,370.33 L510.50,370.19 L511.00,370.05 L511.50,369.90 L512.00,369.76 L512.50,369.62 L513.00,369.47 L513.50,369.33 L514.00,369.19 L514.50,369.04 L515.00,368.90 L515.50,368.75 L516.00,368.61 L516.50,368.46 L517.00,368.32 L517.50,368.18 L518.00,368.03 L518.50,367.89 L519.00,367.74 L519.50,367.60 L520.00,367.45 L520.50,367.31 L521.00,367.16 L521.50,367.01 L522.00,366.87 L522.50,366.72 L523.00,366.58 L523.50,366.43 L524.00,366.28 L524.50,366.14 L525.00,365.99 L525.50,365.84 L526.00,365.70 L526.50,365.55 L527.00,365.40 L527.50,365.25 L528.00,365.11 L528.50,364.96 L529.00,364.81 L529.50,364.66 L530.00,364.51 L530.50,364.36 L531.00,364.21 L531.50,364.06 L532.00,363.91 L532.50,363.76 L533.00,363.61 L533.50,363.45 L534.00,363.30 L534.50,363.15 L535.00,363.00 L535.50,362.84 L536.00,362.69 L536.50,362.54 L537.00,362.38 L537.50,362.23 L538.00,362.07 L538.50,361.91 L539.00,361.76 L539.50,361.60 L540.00,361.45 L540.50,361.29 L541.00,361.13 L541.50,360.98 L542.00,360.82 L542.50,360.66 L543.00,360.50 L543.50,360.35 L544.00,360.19 L544.50,360.03 L545.00,359.87 L545.50,359.72 L546.00,359.56 L546.50,359.40 L547.00,359.25 L547.50,359.09 L548.00,358.93 L548.50,358.78 L549.00,358.62 L549.50,358.46 L550.00,358.31 L550.50,358.15 L551.00,358.00 L551.50,357.84 L552.00,357.69 L552.50,357.54 L553.00,357.38 L553.50,357.23 L554.00,357.08 L554.50,356.93 L555.00,356.78 L555.50,356.62 L556.00,356.48 L556.50,356.33 L557.00,356.18 L557.50,356.03 L558.00,355.88 L558.50,355.74 L559.00,355.59 L559.50,355.45 L560.00,355.30 L560.50,355.16 L561.00,355.02 L561.50,354.88 L562.00,354.74 L562.50,354.60 L563.00,354.46 L563.50,354.32 L564.00,354.19 L564.50,354.05 L565.00,353.92 L565.50,353.78 L566.00,353.65 L566.50,353.52 L567.00,353.39 L567.50,353.26 L568.00,353.13 L568.50,353.00 L569.00,352.88 L569.50,352.75 L570.00,352.62 L570.50,352.50 L571.00,352.38 L571.50,352.26 L572.00,352.14 L572.50,352.02 L573.00,351.90 L573.50,351.78 L574.00,351.67 L574.50,351.55 L575.00,351.44 L575.50,351.33 L576.00,351.22 L576.50,351.11 L577.00,351.00 L577.50,350.90 L578.00,350.79 L578.50,350.69 L579.00,350.58 L579.50,350.48 L580.00,350.38 L580.50,350.28 L581.00,350.19 L581.50,350.09 L582.00,350.00 L582.50,349.91 L583.00,349.82 L583.50,349.73 L584.00,349.64 L584.50,349.55 L585.00,349.47 L585.50,349.39 L586.00,349.31 L586.50,349.23 L587.00,349.15 L587.50,349.07 L588.00,349.00 L588.50,348.93 L589.00,348.86 L589.50,348.79 L590.00,348.72 L590.50,348.66 L591.00,348.59 L591.50,348.53 L592.00,348.47 L592.50,348.41 L593.00,348.36 L593.50,348.30 L594.00,348.25 L594.50,348.20 L595.00,348.15 L595.50,348.11 L596.00,348.06 L596.50,348.02 L597.00,347.98 L597.50,347.94 L598.00,347.91 L598.50,347.88 L599.00,347.84 L599.50,347.82 L600.00,347.79 L600.50,347.76 L601.00,347.74 L601.50,347.72 L602.00,347.70 L602.50,347.69 L603.00,347.67 L603.50,347.66 L604.00,347.65 L604.50,347.65 L605.00,347.64 L605.50,347.64 L606.00,347.64 L606.50,347.64 L607.00,347.65 L607.50,347.66 L608.00,347.67 L608.50,347.68 L609.00,347.69 L609.50,347.71 L610.00,347.73 L610.50,347.75 L611.00,347.78 L611.50,347.80 L612.00,347.83 L612.50,347.86 L613.00,347.90 L613.50,347.93 L614.00,347.97 L614.50,348.01 L615.00,348.06 L615.50,348.10 L616.00,348.15 L616.50,348.20 L617.00,348.25 L617.50,348.31 L618.00,348.36 L618.50,348.42 L619.00,348.48 L619.50,348.55 L620.00,348.61 L620.50,348.68 L621.00,348.75 L621.50,348.83 L622.00,348.90 L622.50,348.98 L623.00,349.06 L623.50,349.15 L624.00,349.23 L624.50,349.32 L625.00,349.41 L625.50,349.50 L626.00,349.60 L626.50,349.69 L627.00,349.79 L627.50,349.90 L628.00,350.00 L628.50,350.11 L629.00,350.22 L629.50,350.33 L630.00,350.44 L630.50,350.56 L631.00,350.68 L631.50,350.80 L632.00,350.92 L632.50,351.04 L633.00,351.17 L633.50,351.30 L634.00,351.43 L634.50,351.57 L635.00,351.71 L635.50,351.84 L636.00,351.99 L636.50,352.13 L637.00,352.27 L637.50,352.42 L638.00,352.57 L638.50,352.72 L639.00,352.87 L639.50,353.03 L640.00,353.19 L640.50,353.34 L641.00,353.51 L641.50,353.67 L642.00,353.83 L642.50,354.00 L643.00,354.17 L643.50,354.34 L644.00,354.51 L644.50,354.68 L645.00,354.85 L645.50,355.03 L646.00,355.21 L646.50,355.39 L647.00,355.57 L647.50,355.75 L648.00,355.93 L648.50,356.12 L649.00,356.30 L649.50,356.49 L650.00,356.67 L650.50,356.86 L651.00,357.05 L651.50,357.24 L652.00,357.43 L652.50,357.63 L653.00,357.82 L653.50,358.01 L654.00,358.21 L654.50,358.40 L655.00,358.60 L655.50,358.80 L656.00,358.99 L656.50,359.19 L657.00,359.39 L657.50,359.59 L658.00,359.79 L658.50,359.99 L659.00,360.19 L659.50,360.40 L660.00,360.60 L660.50,360.80 L661.00,361.01 L661.50,361.21 L662.00,361.42 L662.50,361.63 L663.00,361.84 L663.50,362.05 L664.00,362.26 L664.50,362.47 L665.00,362.69 L665.50,362.90 L666.00,363.12 L666.50,363.33 L667.00,363.55 L667.50,363.77 L668.00,363.98 L668.50,364.20 L669.00,364.43 L669.50,364.65 L670.00,364.87 L670.50,365.09 L671.00,365.32 L671.50,365.54 L672.00,365.77 L672.50,365.99 L673.00,366.22 L673.50,366.45 L674.00,366.68 L674.50,366.90 L675.00,367.13 L675.50,367.37 L676.00,367.60 L676.50,367.83 L677.00,368.06 L677.50,368.29 L678.00,368.53 L678.50,368.76 L679.00,368.99 L679.50,369.23 L680.00,369.46 L680.50,369.70 L681.00,369.93 L681.50,370.17 L682.00,370.40 L682.50,370.64 L683.00,370.87 L683.50,371.11 L684.00,371.35 L684.50,371.58 L685.00,371.82 L685.50,372.06 L686.00,372.29 L686.50,372.53 L687.00,372.76 L687.50,373.00 L688.00,373.24 L688.50,373.47 L689.00,373.71 L689.50,373.94 L690.00,374.18 L690.50,374.41 L691.00,374.64 L691.50,374.88 L692.00,375.11 L692.50,375.34 L693.00,375.58 L693.50,375.81 L694.00,376.04 L694.50,376.27 L695.00,376.50 L695.50,376.73 L696.00,376.96 L696.50,377.19 L697.00,377.42 L697.50,377.64 L698.00,377.87 L698.50,378.10 L699.00,378.32 L699.50,378.54 L700.00,378.77 L700.50,378.99 L701.00,379.21 L701.50,379.43 L702.00,379.65 L702.50,379.83 L703.00,379.99 L703.50,380.15 L704.00,380.31 L704.50,380.48 L705.00,380.64 L705.50,380.81 L706.00,380.98 L706.50,381.14 L707.00,381.31 L707.50,381.48 L708.00,381.66 L708.50,381.83 L709.00,382.00 L709.50,382.18 L710.00,382.35 L710.50,382.53 L711.00,382.71 L711.50,382.89 L712.00,383.07 L712.50,383.25 L713.00,383.43 L713.50,383.61 L714.00,383.80 L714.50,383.98 L715.00,384.17 L715.50,384.36 L716.00,384.54 L716.50,384.73 L717.00,384.92 L717.50,385.11 L718.00,385.30 L718.50,385.50 L719.00,385.69 L719.50,385.88 L720.00,386.07 L720.50,386.27 L721.00,386.46 L721.50,386.66 L722.00,386.85 L722.50,387.05 L723.00,387.24 L723.50,387.44 L724.00,387.63 L724.50,387.83 L725.00,388.02 L725.50,388.21 L726.00,388.41 L726.50,388.60 L727.00,388.80 L727.50,388.99 L728.00,389.19 L728.50,389.38 L729.00,389.57 L729.50,389.77 L730.00,389.96 L730.50,390.16 L731.00,390.35 L731.50,390.54 L732.00,390.74 L732.50,390.93 L733.00,391.12 L733.50,391.32 L734.00,391.51 L734.50,391.71 L735.00,391.90 L735.50,392.10 L736.00,392.29 L736.50,392.49 L737.00,392.68 L737.50,392.88 L738.00,393.07 L738.50,393.27 L739.00,393.46 L739.50,393.66 L740.00,393.86 L740.50,394.05 L741.00,394.25 L741.50,394.44 L742.00,394.64 L742.50,394.84 L743.00,395.04 L743.50,395.23 L744.00,395.43 L744.50,395.63 L745.00,395.83 L745.50,396.02 L746.00,396.22 L746.50,396.42 L747.00,396.62 L747.50,396.82 L748.00,397.02 L748.50,397.22 L749.00,397.42 L749.50,397.62 L750.00,397.82 L750.50,398.02 L751.00,398.22 L751.50,398.42 L752.00,398.62 L752.50,398.82 L753.00,399.02 L753.50,399.22 L754.00,399.42 L754.50,399.62 L755.00,399.82 L755.50,400.03 L756.00,400.23 L756.50,400.43 L757.00,400.63 L757.50,400.84 L758.00,401.04 L758.50,401.24 L759.00,401.44 L759.50,401.62 L760.00,401.76 L760.50,401.90 L761.00,402.04 L761.50,402.18 L762.00,402.31 L762.50,402.44 L763.00,402.58 L763.50,402.70 L764.00,402.83 L764.50,402.96 L765.00,403.08 L765.50,403.20 L766.00,403.32 L766.50,403.44 L767.00,403.55 L767.50,403.66 L768.00,403.77 L768.50,403.88 L769.00,403.99 L769.50,404.09 L770.00,404.20 L770.50,404.30 L771.00,404.40 L771.50,404.49 L772.00,404.59 L772.50,404.68 L773.00,404.77 L773.50,404.86 L774.00,404.95 L774.50,405.04 L775.00,405.12 L775.50,405.20 L776.00,405.28 L776.50,405.36 L777.00,405.44 L777.50,405.52 L778.00,405.59 L778.50,405.66 L779.00,405.73 L779.50,405.80 L780.00,405.87 L780.50,405.94 L781.00,406.00 L781.50,406.07 L782.00,406.13 L782.50,406.19 L783.00,406.25 L783.50,406.30 L784.00,406.36 L784.50,406.41 L785.00,406.46 L785.50,406.52 L786.00,406.56 L786.50,406.61 L787.00,406.66 L787.50,406.70 L788.00,406.75 L788.50,406.79 L789.00,406.83 L789.50,406.87 L790.00,406.91 L790.50,406.94 L791.00,406.98 L791.50,407.01 L792.00,407.04 L792.50,407.07 L793.00,407.10 L793.50,407.12 L794.00,407.15 L794.50,407.17 L795.00,407.20 L795.50,407.22 L796.00,407.24 L796.50,407.26 L797.00,407.27 L797.50,407.29 L798.00,407.30 L798.50,407.31 L799.00,407.33 L799.50,407.34 L800.00,407.34 L800.50,407.35 L801.00,407.36 L801.50,407.36 L802.00,407.36 L802.50,407.36 L803.00,407.36 L803.50,407.36 L804.00,407.36 L804.50,407.36 L805.00,407.35 L805.50,407.35 L806.00,407.34 L806.50,407.33 L807.00,407.32 L807.50,407.31 L808.00,407.30 L808.50,407.28 L809.00,407.27 L809.50,407.25 L810.00,407.24 L810.50,407.22 L811.00,407.20 L811.50,407.18 L812.00,407.16 L812.50,407.14 L813.00,407.11 L813.50,407.09 L814.00,407.07 L814.50,407.04 L815.00,407.01 L815.50,406.98 L816.00,406.96 L816.50,406.93 L817.00,406.89 L817.50,406.86 L818.00,406.83 L818.50,406.80 L819.00,406.76 L819.50,406.73 L820.00,406.69 L820.50,406.65 L821.00,406.62 L821.50,406.58 L822.00,406.54 L822.50,406.50 L823.00,406.46 L823.50,406.41 L824.00,406.37 L824.50,406.33 L825.00,406.28 L825.50,406.24 L826.00,406.19 L826.50,406.15 L827.00,406.10 L827.50,406.05 L828.00,406.00 L828.50,405.95 L829.00,405.90 L829.50,405.85 L830.00,405.80 L830.50,405.75 L831.00,405.70 L831.50,405.64 L832.00,405.59 L832.50,405.54 L833.00,405.48 L833.50,405.43 L834.00,405.37 L834.50,405.32 L835.00,405.26 L835.50,405.20 L836.00,405.14 L836.50,405.09 L837.00,405.03 L837.50,404.97 L838.00,404.91 L838.50,404.85 L839.00,404.79 L839.50,404.73 L840.00,404.66 L840.50,404.60 L841.00,404.54 L841.50,404.48 L842.00,404.41 L842.50,404.35 L843.00,404.29 L843.50,404.22 L844.00,404.16 L844.50,404.09 L845.00,404.03 L845.50,403.96 L846.00,403.89 L846.50,403.83 L847.00,403.76 L847.50,403.69 L848.00,403.63 L848.50,403.56 L849.00,403.49 L849.50,403.42 L850.00,403.35 L850.50,403.29 L851.00,403.22 L851.50,403.15 L852.00,403.08 L852.50,403.01 L853.00,402.94 L853.50,402.87 L854.00,402.80 L854.50,402.74 L855.00,402.67 L855.50,402.60 L856.00,402.53 L856.50,402.46 L857.00,402.39 L857.50,402.32 L858.00,402.25 L858.50,402.18 L859.00,402.11 L859.50,402.05 L860.00,401.98 L860.50,401.91 L861.00,401.84 L861.50,401.77 L862.00,401.70 L862.50,401.64 L863.00,401.57 L863.50,401.50 L864.00,401.44 L864.50,401.37 L865.00,401.30 L865.50,401.24 L866.00,401.17 L866.50,401.11 L867.00,401.04 L867.50,400.98 L868.00,400.91 L868.50,400.85 L869.00,400.78 L869.50,400.72 L870.00,400.65 L870.50,400.59 L871.00,400.53 L871.50,400.46 L872.00,400.40 L872.50,400.34 L873.00,400.28 L873.50,400.21 L874.00,400.15 L874.50,400.09 L875.00,400.03 L875.50,399.97 L876.00,399.90 L876.50,399.84 L877.00,399.78 L877.50,399.72 L878.00,399.66 L878.50,399.60 L879.00,399.54 L879.50,399.48 L880.00,399.41 L880.50,399.35 L881.00,399.29 L881.50,399.23 L882.00,399.17 L882.50,399.11 L883.00,399.05 L883.50,398.99 L884.00,398.93 L884.50,398.87 L885.00,398.80 L885.50,398.74 L886.00,398.68 L886.50,398.62 L887.00,398.56 L887.50,398.50 L888.00,398.44 L888.50,398.37 L889.00,398.31 L889.50,398.25 L890.00,398.19 L890.50,398.13 L891.00,398.07 L891.50,398.00 L892.00,397.94 L892.50,397.88 L893.00,397.82 L893.50,397.76 L894.00,397.70 L894.50,397.64 L895.00,397.58 L895.50,397.52 L896.00,397.46 L896.50,397.40 L897.00,397.34 L897.50,397.28 L898.00,397.22 L898.50,397.16 L899.00,397.10 L899.50,397.04 L900.00,396.98 L900.50,396.92 L901.00,396.86 L901.50,396.81 L902.00,396.75 L902.50,396.69 L903.00,396.63 L903.50,396.58 L904.00,396.52 L904.50,396.46 L905.00,396.41 L905.50,396.35 L906.00,396.29 L906.50,396.24 L907.00,396.18 L907.50,396.12 L908.00,396.07 L908.50,396.01 L909.00,395.96 L909.50,395.90 L910.00,395.85 L910.50,395.79 L911.00,395.74 L911.50,395.68 L912.00,395.63 L912.50,395.57 L913.00,395.52 L913.50,395.47 L914.00,395.41 L914.50,395.36 L915.00,395.30 L915.50,395.25 L916.00,395.20 L916.50,395.14 L917.00,395.09 L917.50,395.04 L918.00,394.99 L918.50,394.93 L919.00,394.88 L919.50,394.83 L920.00,394.77 L920.50,394.72 L921.00,394.67 L921.50,394.62 L922.00,394.56 L922.50,394.51 L923.00,394.46 L923.50,394.41 L924.00,394.36 L924.50,394.30 L925.00,394.25 L925.50,394.20 L926.00,394.15 L926.50,394.10 L927.00,394.04 L927.50,393.99 L928.00,393.94 L928.50,393.89 L929.00,393.84 L929.50,393.79 L930.00,393.73 L930.50,393.68 L931.00,393.63 L931.50,393.58 L932.00,393.53 L932.50,393.48 L933.00,393.42 L933.50,393.37 L934.00,393.32" fill="none" stroke="#2020bb" stroke-width="1.45" stroke-linejoin="round" stroke-opacity="0.92"/>
<path d="M108.50,640.92 L109.00,640.92 L109.50,640.91 L110.00,640.89 L110.50,640.87 L111.00,640.85 L111.50,640.82 L112.00,640.78 L112.50,640.74 L113.00,640.69 L113.50,640.63 L114.00,640.57 L114.50,640.51 L115.00,640.44 L115.50,640.36 L116.00,640.28 L116.50,640.19 L117.00,640.10 L117.50,640.00 L118.00,639.90 L118.50,639.79 L119.00,639.68 L119.50,639.56 L120.00,639.44 L120.50,639.31 L121.00,639.17 L121.50,639.04 L122.00,638.89 L122.50,638.74 L123.00,638.59 L123.50,638.43 L124.00,638.26 L124.50,638.09 L125.00,637.92 L125.50,637.73 L126.00,637.55 L126.50,637.36 L127.00,637.16 L127.50,636.96 L128.00,636.76 L128.50,636.55 L129.00,636.34 L129.50,636.12 L130.00,635.90 L130.50,635.67 L131.00,635.44 L131.50,635.20 L132.00,634.96 L132.50,634.71 L133.00,634.46 L133.50,634.21 L134.00,633.95 L134.50,633.69 L135.00,633.42 L135.50,633.15 L136.00,632.88 L136.50,632.60 L137.00,632.32 L137.50,632.04 L138.00,631.75 L138.50,631.45 L139.00,631.16 L139.50,630.86 L140.00,630.55 L140.50,630.25 L141.00,629.93 L141.50,629.62 L142.00,629.30 L142.50,628.98 L143.00,628.66 L143.50,628.33 L144.00,628.00 L144.50,627.67 L145.00,627.33 L145.50,626.99 L146.00,626.65 L146.50,626.30 L147.00,625.96 L147.50,625.61 L148.00,625.25 L148.50,624.90 L149.00,624.54 L149.50,624.18 L150.00,623.81 L150.50,623.44 L151.00,623.07 L151.50,622.70 L152.00,622.33 L152.50,621.95 L153.00,621.57 L153.50,621.19 L154.00,620.81 L154.50,620.42 L155.00,620.04 L155.50,619.65 L156.00,619.25 L156.50,618.86 L157.00,618.46 L157.50,618.07 L158.00,617.67 L158.50,617.27 L159.00,616.86 L159.50,616.46 L160.00,616.05 L160.50,615.64 L161.00,615.23 L161.50,614.82 L162.00,614.41 L162.50,613.99 L163.00,613.58 L163.50,613.16 L164.00,612.74 L164.50,612.32 L165.00,611.90 L165.50,611.48 L166.00,611.05 L166.50,610.63 L167.00,610.20 L167.50,609.77 L168.00,609.34 L168.50,608.91 L169.00,608.48 L169.50,608.05 L170.00,607.62 L170.50,607.20 L171.00,606.78 L171.50,606.36 L172.00,605.94 L172.50,605.52 L173.00,605.10 L173.50,604.68 L174.00,604.25 L174.50,603.83 L175.00,603.41 L175.50,602.98 L176.00,602.56 L176.50,602.13 L177.00,601.71 L177.50,601.28 L178.00,600.86 L178.50,600.43 L179.00,600.01 L179.50,599.58 L180.00,599.15 L180.50,598.73 L181.00,598.30 L181.50,597.87 L182.00,597.44 L182.50,597.02 L183.00,596.59 L183.50,596.16 L184.00,595.73 L184.50,595.31 L185.00,594.88 L185.50,594.45 L186.00,594.02 L186.50,593.59 L187.00,593.16 L187.50,592.74 L188.00,592.31 L188.50,591.88 L189.00,591.45 L189.50,591.02 L190.00,590.60 L190.50,590.17 L191.00,589.74 L191.50,589.32 L192.00,588.89 L192.50,588.47 L193.00,588.04 L193.50,587.62 L194.00,587.20 L194.50,586.77 L195.00,586.35 L195.50,585.93 L196.00,585.51 L196.50,585.09 L197.00,584.68 L197.50,584.26 L198.00,583.84 L198.50,583.43 L199.00,583.01 L199.50,582.60 L200.00,582.19 L200.50,581.78 L201.00,581.37 L201.50,580.96 L202.00,580.56 L202.50,580.15 L203.00,579.75 L203.50,579.35 L204.00,578.95 L204.50,578.55 L205.00,578.15 L205.50,577.76 L206.00,577.36 L206.50,576.97 L207.00,576.58 L207.50,576.20 L208.00,575.81 L208.50,575.42 L209.00,575.04 L209.50,574.66 L210.00,574.28 L210.50,573.91 L211.00,573.53 L211.50,573.16 L212.00,572.78 L212.50,572.42 L213.00,572.05 L213.50,571.68 L214.00,571.32 L214.50,570.96 L215.00,570.60 L215.50,570.24 L216.00,569.88 L216.50,569.53 L217.00,569.17 L217.50,568.82 L218.00,568.48 L218.50,568.13 L219.00,567.79 L219.50,567.44 L220.00,567.10 L220.50,566.77 L221.00,566.43 L221.50,566.10 L222.00,565.76 L222.50,565.43 L223.00,565.11 L223.50,564.78 L224.00,564.46 L224.50,564.14 L225.00,563.82 L225.50,563.50 L226.00,563.19 L226.50,562.88 L227.00,562.57 L227.50,562.26 L228.00,561.95 L228.50,561.65 L229.00,561.35 L229.50,561.05 L230.00,560.75 L230.50,560.46 L231.00,560.17 L231.50,559.88 L232.00,559.59 L232.50,559.31 L233.00,559.02 L233.50,558.74 L234.00,558.46 L234.50,558.19 L235.00,557.91 L235.50,557.64 L236.00,557.37 L236.50,557.11 L237.00,556.84 L237.50,556.58 L238.00,556.32 L238.50,556.07 L239.00,555.81 L239.50,555.56 L240.00,555.31 L240.50,555.06 L241.00,554.81 L241.50,554.57 L242.00,554.33 L242.50,554.09 L243.00,553.86 L243.50,553.62 L244.00,553.39 L244.50,553.17 L245.00,552.94 L245.50,552.72 L246.00,552.50 L246.50,552.28 L247.00,552.06 L247.50,551.85 L248.00,551.64 L248.50,551.43 L249.00,551.22 L249.50,551.02 L250.00,550.81 L250.50,550.61 L251.00,550.42 L251.50,550.22 L252.00,550.03 L252.50,549.84 L253.00,549.65 L253.50,549.47 L254.00,549.28 L254.50,549.10 L255.00,548.92 L255.50,548.75 L256.00,548.57 L256.50,548.40 L257.00,548.23 L257.50,548.07 L258.00,547.90 L258.50,547.74 L259.00,547.58 L259.50,547.42 L260.00,547.26 L260.50,547.11 L261.00,546.96 L261.50,546.81 L262.00,546.66 L262.50,546.51 L263.00,546.37 L263.50,546.23 L264.00,546.09 L264.50,545.95 L265.00,545.82 L265.50,545.69 L266.00,545.55 L266.50,545.43 L267.00,545.30 L267.50,545.17 L268.00,545.05 L268.50,544.93 L269.00,544.81 L269.50,544.70 L270.00,544.58 L270.50,544.47 L271.00,544.36 L271.50,544.25 L272.00,544.14 L272.50,544.04 L273.00,543.93 L273.50,543.83 L274.00,543.73 L274.50,543.63 L275.00,543.54 L275.50,543.44 L276.00,543.35 L276.50,543.26 L277.00,543.17 L277.50,543.09 L278.00,543.00 L278.50,542.92 L279.00,542.83 L279.50,542.75 L280.00,542.68 L280.50,542.60 L281.00,542.52 L281.50,542.45 L282.00,542.38 L282.50,542.31 L283.00,542.24 L283.50,542.17 L284.00,542.10 L284.50,542.04 L285.00,541.98 L285.50,541.91 L286.00,541.85 L286.50,541.80 L287.00,541.74 L287.50,541.68 L288.00,541.63 L288.50,541.58 L289.00,541.53 L289.50,541.47 L290.00,541.43 L290.50,541.38 L291.00,541.33 L291.50,541.29 L292.00,541.24 L292.50,541.20 L293.00,541.16 L293.50,541.12 L294.00,541.08 L294.50,541.05 L295.00,541.01 L295.50,540.97 L296.00,540.94 L296.50,540.91 L297.00,540.88 L297.50,540.85 L298.00,540.82 L298.50,540.79 L299.00,540.76 L299.50,540.73 L300.00,540.71 L300.50,540.68 L301.00,540.66 L301.50,540.64 L302.00,540.62 L302.50,540.60 L303.00,540.58 L303.50,540.56 L304.00,540.54 L304.50,540.52 L305.00,540.51 L305.50,540.49 L306.00,540.48 L306.50,540.46 L307.00,540.45 L307.50,540.44 L308.00,540.43 L308.50,540.41 L309.00,540.40 L309.50,540.40 L310.00,540.39 L310.50,540.38 L311.00,540.37 L311.50,540.36 L312.00,540.36 L312.50,540.35 L313.00,540.35 L313.50,540.34 L314.00,540.34 L314.50,540.33 L315.00,540.33 L315.50,540.33 L316.00,540.33 L316.50,540.33 L317.00,540.32 L317.50,540.32 L318.00,540.32 L318.50,540.32 L319.00,540.32 L319.50,540.33 L320.00,540.33 L320.50,540.33 L321.00,540.33 L321.50,540.33 L322.00,540.34 L322.50,540.34 L323.00,540.34 L323.50,540.35 L324.00,540.35 L324.50,540.36 L325.00,540.36 L325.50,540.37 L326.00,540.38 L326.50,540.38 L327.00,540.39 L327.50,540.40 L328.00,540.40 L328.50,540.41 L329.00,540.42 L329.50,540.43 L330.00,540.44 L330.50,540.45 L331.00,540.46 L331.50,540.47 L332.00,540.48 L332.50,540.49 L333.00,540.50 L333.50,540.51 L334.00,540.52 L334.50,540.53 L335.00,540.54 L335.50,540.55 L336.00,540.57 L336.50,540.58 L337.00,540.59 L337.50,540.60 L338.00,540.62 L338.50,540.63 L339.00,540.64 L339.50,540.66 L340.00,540.67 L340.50,540.68 L341.00,540.70 L341.50,540.71 L342.00,540.73 L342.50,540.74 L343.00,540.75 L343.50,540.77 L344.00,540.78 L344.50,540.80 L345.00,540.82 L345.50,540.83 L346.00,540.85 L346.50,540.86 L347.00,540.88 L347.50,540.89 L348.00,540.91 L348.50,540.92 L349.00,540.94 L349.50,540.96 L350.00,540.97 L350.50,540.99 L351.00,541.01 L351.50,541.02 L352.00,541.04 L352.50,541.06 L353.00,541.07 L353.50,541.09 L354.00,541.11 L354.50,541.12 L355.00,541.14 L355.50,541.16 L356.00,541.18 L356.50,541.19 L357.00,541.21 L357.50,541.23 L358.00,541.25 L358.50,541.26 L359.00,541.28 L359.50,541.30 L360.00,541.32 L360.50,541.33 L361.00,541.35 L361.50,541.37 L362.00,541.39 L362.50,541.40 L363.00,541.42 L363.50,541.44 L364.00,541.46 L364.50,541.48 L365.00,541.49 L365.50,541.51 L366.00,541.53 L366.50,541.55 L367.00,541.56 L367.50,541.58 L368.00,541.60 L368.50,541.62 L369.00,541.63 L369.50,541.65 L370.00,541.67 L370.50,541.69 L371.00,541.71 L371.50,541.72 L372.00,541.74 L372.50,541.76 L373.00,541.78 L373.50,541.79 L374.00,541.81 L374.50,541.83 L375.00,541.84 L375.50,541.86 L376.00,541.88 L376.50,541.90 L377.00,541.91 L377.50,541.93 L378.00,541.95 L378.50,541.96 L379.00,541.98 L379.50,542.00 L380.00,542.01 L380.50,542.03 L381.00,542.05 L381.50,542.06 L382.00,542.08 L382.50,542.09 L383.00,542.11 L383.50,542.13 L384.00,542.14 L384.50,542.16 L385.00,542.17 L385.50,542.19 L386.00,542.20 L386.50,542.22 L387.00,542.23 L387.50,542.25 L388.00,542.26 L388.50,542.28 L389.00,542.29 L389.50,542.31 L390.00,542.33 L390.50,542.34 L391.00,542.36 L391.50,542.37 L392.00,542.39 L392.50,542.41 L393.00,542.43 L393.50,542.44 L394.00,542.46 L394.50,542.48 L395.00,542.50 L395.50,542.52 L396.00,542.54 L396.50,542.56 L397.00,542.59 L397.50,542.61 L398.00,542.63 L398.50,542.65 L399.00,542.68 L399.50,542.70 L400.00,542.73 L400.50,542.75 L401.00,542.78 L401.50,542.81 L402.00,542.83 L402.50,542.86 L403.00,542.89 L403.50,542.92 L404.00,542.95 L404.50,542.98 L405.00,543.01 L405.50,543.04 L406.00,543.07 L406.50,543.10 L407.00,543.13 L407.50,543.16 L408.00,543.20 L408.50,543.23 L409.00,543.26 L409.50,543.30 L410.00,543.33 L410.50,543.37 L411.00,543.41 L411.50,543.44 L412.00,543.48 L412.50,543.52 L413.00,543.56 L413.50,543.59 L414.00,543.63 L414.50,543.67 L415.00,543.71 L415.50,543.75 L416.00,543.80 L416.50,543.84 L417.00,543.88 L417.50,543.92 L418.00,543.97 L418.50,544.01 L419.00,544.05 L419.50,544.10 L420.00,544.14 L420.50,544.19 L421.00,544.24 L421.50,544.28 L422.00,544.33 L422.50,544.38 L423.00,544.43 L423.50,544.47 L424.00,544.52 L424.50,544.57 L425.00,544.62 L425.50,544.67 L426.00,544.73 L426.50,544.78 L427.00,544.83 L427.50,544.88 L428.00,544.94 L428.50,544.99 L429.00,545.04 L429.50,545.10 L430.00,545.16 L430.50,545.21 L431.00,545.27 L431.50,545.33 L432.00,545.38 L432.50,545.44 L433.00,545.50 L433.50,545.56 L434.00,545.62 L434.50,545.69 L435.00,545.75 L435.50,545.81 L436.00,545.87 L436.50,545.94 L437.00,546.00 L437.50,546.07 L438.00,546.14 L438.50,546.20 L439.00,546.27 L439.50,546.34 L440.00,546.41 L440.50,546.48 L441.00,546.55 L441.50,546.62 L442.00,546.70 L442.50,546.77 L443.00,546.84 L443.50,546.92 L444.00,547.00 L444.50,547.07 L445.00,547.15 L445.50,547.23 L446.00,547.31 L446.50,547.39 L447.00,547.47 L447.50,547.56 L448.00,547.64 L448.50,547.72 L449.00,547.81 L449.50,547.90 L450.00,547.98 L450.50,548.07 L451.00,548.16 L451.50,548.25 L452.00,548.34 L452.50,548.44 L453.00,548.53 L453.50,548.62 L454.00,548.72 L454.50,548.82 L455.00,548.91 L455.50,549.01 L456.00,549.11 L456.50,549.21 L457.00,549.31 L457.50,549.41 L458.00,549.51 L458.50,549.62 L459.00,549.72 L459.50,549.83 L460.00,549.93 L460.50,550.04 L461.00,550.14 L461.50,550.25 L462.00,550.35 L462.50,550.46 L463.00,550.57 L463.50,550.68 L464.00,550.79 L464.50,550.90 L465.00,551.01 L465.50,551.12 L466.00,551.23 L466.50,551.34 L467.00,551.45 L467.50,551.56 L468.00,551.67 L468.50,551.78 L469.00,551.90 L469.50,552.01 L470.00,552.12 L470.50,552.24 L471.00,552.35 L471.50,552.46 L472.00,552.58 L472.50,552.69 L473.00,552.81 L473.50,552.92 L474.00,553.04 L474.50,553.16 L475.00,553.27 L475.50,553.39 L476.00,553.51 L476.50,553.62 L477.00,553.74 L477.50,553.86 L478.00,553.98 L478.50,554.09 L479.00,554.21 L479.50,554.33 L480.00,554.45 L480.50,554.57 L481.00,554.69 L481.50,554.81 L482.00,554.93 L482.50,555.05 L483.00,555.17 L483.50,555.29 L484.00,555.41 L484.50,555.53 L485.00,555.65 L485.50,555.77 L486.00,555.89 L486.50,556.01 L487.00,556.14 L487.50,556.26 L488.00,556.38 L488.50,556.50 L489.00,556.63 L489.50,556.75 L490.00,556.87 L490.50,557.00 L491.00,557.12 L491.50,557.25 L492.00,557.37 L492.50,557.50 L493.00,557.62 L493.50,557.75 L494.00,557.87 L494.50,558.00 L495.00,558.13 L495.50,558.25 L496.00,558.38 L496.50,558.51 L497.00,558.64 L497.50,558.77 L498.00,558.90 L498.50,559.03 L499.00,559.16 L499.50,559.29 L500.00,559.42 L500.50,559.55 L501.00,559.69 L501.50,559.82 L502.00,559.95 L502.50,560.09 L503.00,560.22 L503.50,560.36 L504.00,560.49 L504.50,560.63 L505.00,560.77 L505.50,560.90 L506.00,561.04 L506.50,561.18 L507.00,561.32 L507.50,561.46 L508.00,561.60 L508.50,561.74 L509.00,561.88 L509.50,562.03 L510.00,562.17 L510.50,562.31 L511.00,562.45 L511.50,562.60 L512.00,562.74 L512.50,562.88 L513.00,563.03 L513.50,563.17 L514.00,563.31 L514.50,563.46 L515.00,563.60 L515.50,563.75 L516.00,563.89 L516.50,564.04 L517.00,564.18 L517.50,564.32 L518.00,564.47 L518.50,564.61 L519.00,564.76 L519.50,564.90 L520.00,565.05 L520.50,565.19 L521.00,565.34 L521.50,565.49 L522.00,565.63 L522.50,565.78 L523.00,565.92 L523.50,566.07 L524.00,566.22 L524.50,566.36 L525.00,566.51 L525.50,566.66 L526.00,566.80 L526.50,566.95 L527.00,567.10 L527.50,567.25 L528.00,567.39 L528.50,567.54 L529.00,567.69 L529.50,567.84 L530.00,567.99 L530.50,568.14 L531.00,568.29 L531.50,568.44 L532.00,568.59 L532.50,568.74 L533.00,568.89 L533.50,569.05 L534.00,569.20 L534.50,569.35 L535.00,569.50 L535.50,569.66 L536.00,569.81 L536.50,569.96 L537.00,570.12 L537.50,570.27 L538.00,570.43 L538.50,570.59 L539.00,570.74 L539.50,570.90 L540.00,571.05 L540.50,571.21 L541.00,571.37 L541.50,571.52 L542.00,571.68 L542.50,571.84 L543.00,572.00 L543.50,572.15 L544.00,572.31 L544.50,572.47 L545.00,572.63 L545.50,572.78 L546.00,572.94 L546.50,573.10 L547.00,573.25 L547.50,573.41 L548.00,573.57 L548.50,573.72 L549.00,573.88 L549.50,574.04 L550.00,574.19 L550.50,574.35 L551.00,574.50 L551.50,574.66 L552.00,574.81 L552.50,574.96 L553.00,575.12 L553.50,575.27 L554.00,575.42 L554.50,575.57 L555.00,575.72 L555.50,575.88 L556.00,576.02 L556.50,576.17 L557.00,576.32 L557.50,576.47 L558.00,576.62 L558.50,576.76 L559.00,576.91 L559.50,577.05 L560.00,577.20 L560.50,577.34 L561.00,577.48 L561.50,577.62 L562.00,577.76 L562.50,577.90 L563.00,578.04 L563.50,578.18 L564.00,578.31 L564.50,578.45 L565.00,578.58 L565.50,578.72 L566.00,578.85 L566.50,578.98 L567.00,579.11 L567.50,579.24 L568.00,579.37 L568.50,579.50 L569.00,579.62 L569.50,579.75 L570.00,579.88 L570.50,580.00 L571.00,580.12 L571.50,580.24 L572.00,580.36 L572.50,580.48 L573.00,580.60 L573.50,580.72 L574.00,580.83 L574.50,580.95 L575.00,581.06 L575.50,581.17 L576.00,581.28 L576.50,581.39 L577.00,581.50 L577.50,581.60 L578.00,581.71 L578.50,581.81 L579.00,581.92 L579.50,582.02 L580.00,582.12 L580.50,582.22 L581.00,582.31 L581.50,582.41 L582.00,582.50 L582.50,582.59 L583.00,582.68 L583.50,582.77 L584.00,582.86 L584.50,582.95 L585.00,583.03 L585.50,583.11 L586.00,583.19 L586.50,583.27 L587.00,583.35 L587.50,583.43 L588.00,583.50 L588.50,583.57 L589.00,583.64 L589.50,583.71 L590.00,583.78 L590.50,583.84 L591.00,583.91 L591.50,583.97 L592.00,584.03 L592.50,584.09 L593.00,584.14 L593.50,584.20 L594.00,584.25 L594.50,584.30 L595.00,584.35 L595.50,584.39 L596.00,584.44 L596.50,584.48 L597.00,584.52 L597.50,584.56 L598.00,584.59 L598.50,584.62 L599.00,584.66 L599.50,584.68 L600.00,584.71 L600.50,584.74 L601.00,584.76 L601.50,584.78 L602.00,584.80 L602.50,584.81 L603.00,584.83 L603.50,584.84 L604.00,584.85 L604.50,584.85 L605.00,584.86 L605.50,584.86 L606.00,584.86 L606.50,584.86 L607.00,584.85 L607.50,584.84 L608.00,584.83 L608.50,584.82 L609.00,584.81 L609.50,584.79 L610.00,584.77 L610.50,584.75 L611.00,584.72 L611.50,584.70 L612.00,584.67 L612.50,584.64 L613.00,584.60 L613.50,584.57 L614.00,584.53 L614.50,584.49 L615.00,584.44 L615.50,584.40 L616.00,584.35 L616.50,584.30 L617.00,584.25 L617.50,584.19 L618.00,584.14 L618.50,584.08 L619.00,584.02 L619.50,583.95 L620.00,583.89 L620.50,583.82 L621.00,583.75 L621.50,583.67 L622.00,583.60 L622.50,583.52 L623.00,583.44 L623.50,583.35 L624.00,583.27 L624.50,583.18 L625.00,583.09 L625.50,583.00 L626.00,582.90 L626.50,582.81 L627.00,582.71 L627.50,582.60 L628.00,582.50 L628.50,582.39 L629.00,582.28 L629.50,582.17 L630.00,582.06 L630.50,581.94 L631.00,581.82 L631.50,581.70 L632.00,581.58 L632.50,581.46 L633.00,581.33 L633.50,581.20 L634.00,581.07 L634.50,580.93 L635.00,580.79 L635.50,580.66 L636.00,580.51 L636.50,580.37 L637.00,580.23 L637.50,580.08 L638.00,579.93 L638.50,579.78 L639.00,579.63 L639.50,579.47 L640.00,579.31 L640.50,579.16 L641.00,578.99 L641.50,578.83 L642.00,578.67 L642.50,578.50 L643.00,578.33 L643.50,578.16 L644.00,577.99 L644.50,577.82 L645.00,577.65 L645.50,577.47 L646.00,577.29 L646.50,577.11 L647.00,576.93 L647.50,576.75 L648.00,576.57 L648.50,576.38 L649.00,576.20 L649.50,576.01 L650.00,575.83 L650.50,575.64 L651.00,575.45 L651.50,575.26 L652.00,575.07 L652.50,574.87 L653.00,574.68 L653.50,574.49 L654.00,574.29 L654.50,574.10 L655.00,573.90 L655.50,573.70 L656.00,573.51 L656.50,573.31 L657.00,573.11 L657.50,572.91 L658.00,572.71 L658.50,572.51 L659.00,572.31 L659.50,572.10 L660.00,571.90 L660.50,571.70 L661.00,571.49 L661.50,571.29 L662.00,571.08 L662.50,570.87 L663.00,570.66 L663.50,570.45 L664.00,570.24 L664.50,570.03 L665.00,569.81 L665.50,569.60 L666.00,569.38 L666.50,569.17 L667.00,568.95 L667.50,568.73 L668.00,568.52 L668.50,568.30 L669.00,568.07 L669.50,567.85 L670.00,567.63 L670.50,567.41 L671.00,567.18 L671.50,566.96 L672.00,566.73 L672.50,566.51 L673.00,566.28 L673.50,566.05 L674.00,565.82 L674.50,565.60 L675.00,565.37 L675.50,565.13 L676.00,564.90 L676.50,564.67 L677.00,564.44 L677.50,564.21 L678.00,563.97 L678.50,563.74 L679.00,563.51 L679.50,563.27 L680.00,563.04 L680.50,562.80 L681.00,562.57 L681.50,562.33 L682.00,562.10 L682.50,561.86 L683.00,561.63 L683.50,561.39 L684.00,561.15 L684.50,560.92 L685.00,560.68 L685.50,560.44 L686.00,560.21 L686.50,559.97 L687.00,559.74 L687.50,559.50 L688.00,559.26 L688.50,559.03 L689.00,558.79 L689.50,558.56 L690.00,558.32 L690.50,558.09 L691.00,557.86 L691.50,557.62 L692.00,557.39 L692.50,557.16 L693.00,556.92 L693.50,556.69 L694.00,556.46 L694.50,556.23 L695.00,556.00 L695.50,555.77 L696.00,555.54 L696.50,555.31 L697.00,555.08 L697.50,554.86 L698.00,554.63 L698.50,554.40 L699.00,554.18 L699.50,553.96 L700.00,553.73 L700.50,553.51 L701.00,553.29 L701.50,553.07 L702.00,552.85 L702.50,552.67 L703.00,552.51 L703.50,552.35 L704.00,552.19 L704.50,552.02 L705.00,551.86 L705.50,551.69 L706.00,551.52 L706.50,551.36 L707.00,551.19 L707.50,551.02 L708.00,550.84 L708.50,550.67 L709.00,550.50 L709.50,550.32 L710.00,550.15 L710.50,549.97 L711.00,549.79 L711.50,549.61 L712.00,549.43 L712.50,549.25 L713.00,549.07 L713.50,548.89 L714.00,548.70 L714.50,548.52 L715.00,548.33 L715.50,548.14 L716.00,547.96 L716.50,547.77 L717.00,547.58 L717.50,547.39 L718.00,547.20 L718.50,547.00 L719.00,546.81 L719.50,546.62 L720.00,546.43 L720.50,546.23 L721.00,546.04 L721.50,545.84 L722.00,545.65 L722.50,545.45 L723.00,545.26 L723.50,545.06 L724.00,544.87 L724.50,544.67 L725.00,544.48 L725.50,544.29 L726.00,544.09 L726.50,543.90 L727.00,543.70 L727.50,543.51 L728.00,543.31 L728.50,543.12 L729.00,542.93 L729.50,542.73 L730.00,542.54 L730.50,542.34 L731.00,542.15 L731.50,541.96 L732.00,541.76 L732.50,541.57 L733.00,541.38 L733.50,541.18 L734.00,540.99 L734.50,540.79 L735.00,540.60 L735.50,540.40 L736.00,540.21 L736.50,540.01 L737.00,539.82 L737.50,539.62 L738.00,539.43 L738.50,539.23 L739.00,539.04 L739.50,538.84 L740.00,538.64 L740.50,538.45 L741.00,538.25 L741.50,538.06 L742.00,537.86 L742.50,537.66 L743.00,537.46 L743.50,537.27 L744.00,537.07 L744.50,536.87 L745.00,536.67 L745.50,536.48 L746.00,536.28 L746.50,536.08 L747.00,535.88 L747.50,535.68 L748.00,535.48 L748.50,535.28 L749.00,535.08 L749.50,534.88 L750.00,534.68 L750.50,534.48 L751.00,534.28 L751.50,534.08 L752.00,533.88 L752.50,533.68 L753.00,533.48 L753.50,533.28 L754.00,533.08 L754.50,532.88 L755.00,532.68 L755.50,532.47 L756.00,532.27 L756.50,532.07 L757.00,531.87 L757.50,531.66 L758.00,531.46 L758.50,531.26 L759.00,531.06 L759.50,530.88 L760.00,530.74 L760.50,530.60 L761.00,530.46 L761.50,530.32 L762.00,530.19 L762.50,530.06 L763.00,529.92 L763.50,529.80 L764.00,529.67 L764.50,529.54 L765.00,529.42 L765.50,529.30 L766.00,529.18 L766.50,529.06 L767.00,528.95 L767.50,528.84 L768.00,528.73 L768.50,528.62 L769.00,528.51 L769.50,528.41 L770.00,528.30 L770.50,528.20 L771.00,528.10 L771.50,528.01 L772.00,527.91 L772.50,527.82 L773.00,527.73 L773.50,527.64 L774.00,527.55 L774.50,527.46 L775.00,527.38 L775.50,527.30 L776.00,527.22 L776.50,527.14 L777.00,527.06 L777.50,526.98 L778.00,526.91 L778.50,526.84 L779.00,526.77 L779.50,526.70 L780.00,526.63 L780.50,526.56 L781.00,526.50 L781.50,526.43 L782.00,526.37 L782.50,526.31 L783.00,526.25 L783.50,526.20 L784.00,526.14 L784.50,526.09 L785.00,526.04 L785.50,525.98 L786.00,525.94 L786.50,525.89 L787.00,525.84 L787.50,525.80 L788.00,525.75 L788.50,525.71 L789.00,525.67 L789.50,525.63 L790.00,525.59 L790.50,525.56 L791.00,525.52 L791.50,525.49 L792.00,525.46 L792.50,525.43 L793.00,525.40 L793.50,525.38 L794.00,525.35 L794.50,525.33 L795.00,525.30 L795.50,525.28 L796.00,525.26 L796.50,525.24 L797.00,525.23 L797.50,525.21 L798.00,525.20 L798.50,525.19 L799.00,525.17 L799.50,525.16 L800.00,525.16 L800.50,525.15 L801.00,525.14 L801.50,525.14 L802.00,525.14 L802.50,525.14 L803.00,525.14 L803.50,525.14 L804.00,525.14 L804.50,525.14 L805.00,525.15 L805.50,525.15 L806.00,525.16 L806.50,525.17 L807.00,525.18 L807.50,525.19 L808.00,525.20 L808.50,525.22 L809.00,525.23 L809.50,525.25 L810.00,525.26 L810.50,525.28 L811.00,525.30 L811.50,525.32 L812.00,525.34 L812.50,525.36 L813.00,525.39 L813.50,525.41 L814.00,525.43 L814.50,525.46 L815.00,525.49 L815.50,525.52 L816.00,525.54 L816.50,525.57 L817.00,525.61 L817.50,525.64 L818.00,525.67 L818.50,525.70 L819.00,525.74 L819.50,525.77 L820.00,525.81 L820.50,525.85 L821.00,525.88 L821.50,525.92 L822.00,525.96 L822.50,526.00 L823.00,526.04 L823.50,526.09 L824.00,526.13 L824.50,526.17 L825.00,526.22 L825.50,526.26 L826.00,526.31 L826.50,526.35 L827.00,526.40 L827.50,526.45 L828.00,526.50 L828.50,526.55 L829.00,526.60 L829.50,526.65 L830.00,526.70 L830.50,526.75 L831.00,526.80 L831.50,526.86 L832.00,526.91 L832.50,526.96 L833.00,527.02 L833.50,527.07 L834.00,527.13 L834.50,527.18 L835.00,527.24 L835.50,527.30 L836.00,527.36 L836.50,527.41 L837.00,527.47 L837.50,527.53 L838.00,527.59 L838.50,527.65 L839.00,527.71 L839.50,527.77 L840.00,527.84 L840.50,527.90 L841.00,527.96 L841.50,528.02 L842.00,528.09 L842.50,528.15 L843.00,528.21 L843.50,528.28 L844.00,528.34 L844.50,528.41 L845.00,528.47 L845.50,528.54 L846.00,528.61 L846.50,528.67 L847.00,528.74 L847.50,528.81 L848.00,528.87 L848.50,528.94 L849.00,529.01 L849.50,529.08 L850.00,529.15 L850.50,529.21 L851.00,529.28 L851.50,529.35 L852.00,529.42 L852.50,529.49 L853.00,529.56 L853.50,529.63 L854.00,529.70 L854.50,529.76 L855.00,529.83 L855.50,529.90 L856.00,529.97 L856.50,530.04 L857.00,530.11 L857.50,530.18 L858.00,530.25 L858.50,530.32 L859.00,530.39 L859.50,530.45 L860.00,530.52 L860.50,530.59 L861.00,530.66 L861.50,530.73 L862.00,530.80 L862.50,530.86 L863.00,530.93 L863.50,531.00 L864.00,531.06 L864.50,531.13 L865.00,531.20 L865.50,531.26 L866.00,531.33 L866.50,531.39 L867.00,531.46 L867.50,531.52 L868.00,531.59 L868.50,531.65 L869.00,531.72 L869.50,531.78 L870.00,531.85 L870.50,531.91 L871.00,531.97 L871.50,532.04 L872.00,532.10 L872.50,532.16 L873.00,532.22 L873.50,532.29 L874.00,532.35 L874.50,532.41 L875.00,532.47 L875.50,532.53 L876.00,532.60 L876.50,532.66 L877.00,532.72 L877.50,532.78 L878.00,532.84 L878.50,532.90 L879.00,532.96 L879.50,533.02 L880.00,533.09 L880.50,533.15 L881.00,533.21 L881.50,533.27 L882.00,533.33 L882.50,533.39 L883.00,533.45 L883.50,533.51 L884.00,533.57 L884.50,533.63 L885.00,533.70 L885.50,533.76 L886.00,533.82 L886.50,533.88 L887.00,533.94 L887.50,534.00 L888.00,534.06 L888.50,534.13 L889.00,534.19 L889.50,534.25 L890.00,534.31 L890.50,534.37 L891.00,534.43 L891.50,534.50 L892.00,534.56 L892.50,534.62 L893.00,534.68 L893.50,534.74 L894.00,534.80 L894.50,534.86 L895.00,534.92 L895.50,534.98 L896.00,535.04 L896.50,535.10 L897.00,535.16 L897.50,535.22 L898.00,535.28 L898.50,535.34 L899.00,535.40 L899.50,535.46 L900.00,535.52 L900.50,535.58 L901.00,535.64 L901.50,535.69 L902.00,535.75 L902.50,535.81 L903.00,535.87 L903.50,535.92 L904.00,535.98 L904.50,536.04 L905.00,536.09 L905.50,536.15 L906.00,536.21 L906.50,536.26 L907.00,536.32 L907.50,536.38 L908.00,536.43 L908.50,536.49 L909.00,536.54 L909.50,536.60 L910.00,536.65 L910.50,536.71 L911.00,536.76 L911.50,536.82 L912.00,536.87 L912.50,536.93 L913.00,536.98 L913.50,537.03 L914.00,537.09 L914.50,537.14 L915.00,537.20 L915.50,537.25 L916.00,537.30 L916.50,537.36 L917.00,537.41 L917.50,537.46 L918.00,537.51 L918.50,537.57 L919.00,537.62 L919.50,537.67 L920.00,537.73 L920.50,537.78 L921.00,537.83 L921.50,537.88 L922.00,537.94 L922.50,537.99 L923.00,538.04 L923.50,538.09 L924.00,538.14 L924.50,538.20 L925.00,538.25 L925.50,538.30 L926.00,538.35 L926.50,538.40 L927.00,538.46 L927.50,538.51 L928.00,538.56 L928.50,538.61 L929.00,538.66 L929.50,538.71 L930.00,538.77 L930.50,538.82 L931.00,538.87 L931.50,538.92 L932.00,538.97 L932.50,539.02 L933.00,539.08 L933.50,539.13 L934.00,539.18" fill="none" stroke="#2020bb" stroke-width="1.45" stroke-linejoin="round" stroke-opacity="0.92"/>
</g>
<path d="M108.50,1036.20 L112.65,1034.70 L116.80,998.60 L120.95,981.60 L125.10,938.30 L129.25,895.10 L133.40,833.70 L137.55,805.40 L141.70,746.30 L145.85,713.00 L150.00,712.10 L154.15,726.30 L158.30,772.80 L162.45,829.30 L166.60,929.60 L170.75,954.70 L174.90,993.70 L179.05,980.80 L183.20,941.80 L187.35,845.20 L191.49,808.10 L195.64,785.60 L199.79,800.20 L203.94,864.50 L208.09,900.60 L212.24,945.20 L216.39,946.10 L220.54,893.90 L224.69,851.40 L228.84,816.40 L232.99,853.20 L237.14,895.10 L241.29,916.00 L245.44,930.70 L249.59,892.00 L253.74,856.40 L257.89,851.40 L262.04,861.70 L266.19,877.40 L270.34,900.10 L274.49,917.30 L278.64,857.10 L282.79,845.20 L286.94,855.00 L291.09,878.70 L295.24,891.90 L299.39,897.90 L303.54,876.80 L307.69,853.30 L311.84,865.10 L315.99,873.70 L320.14,886.70 L324.29,888.20 L328.44,862.00 L332.59,837.80 L336.74,871.90 L340.89,890.50 L345.04,885.50 L349.19,852.70 L353.34,847.70 L357.48,859.50 L361.63,870.60 L365.78,873.10 L369.93,870.60 L374.08,865.00 L378.23,860.70 L382.38,857.00 L386.53,887.60 L390.68,879.00 L394.83,864.40 L398.98,844.00 L403.13,861.70 L407.28,884.30 L411.43,883.00 L415.58,889.20 L419.73,868.20 L423.88,871.30 L428.03,860.50 L432.18,870.60 L436.33,883.60 L440.48,881.80 L444.63,875.00 L448.78,860.10 L452.93,848.60 L457.08,881.20 L461.23,896.70 L465.38,899.10 L469.53,883.00 L473.68,868.80 L477.83,857.60 L481.98,854.50 L486.13,876.50 L490.28,876.70 L494.43,882.90 L498.58,887.90 L502.73,871.20 L506.88,847.60 L511.03,844.50 L515.18,844.30 L519.33,856.90 L523.47,866.80 L527.62,875.30 L531.77,892.90 L535.92,903.40 L540.07,878.20 L544.22,861.90 L548.37,841.10 L552.52,825.30 L556.67,824.10 L560.82,820.40 L564.97,844.50 L569.12,833.40 L573.27,869.90 L577.42,871.80 L581.57,894.20 L585.72,900.00 L589.87,903.00 L594.02,891.20 L598.17,873.80 L602.32,870.30 L606.47,838.40 L610.62,827.80 L614.77,806.50 L618.92,810.10 L623.07,826.90 L627.22,835.80 L631.37,859.60 L635.52,870.30 L639.67,910.10 L643.82,931.90 L647.97,925.10 L652.12,935.40 L656.27,926.00 L660.42,898.00 L664.57,859.70 L668.72,816.40 L672.87,784.20 L677.02,795.10 L681.17,810.60 L685.32,847.80 L689.46,901.90 L693.61,916.90 L697.76,929.50 L701.91,900.70 L706.06,874.90 L710.21,851.90 L714.36,822.70 L718.51,831.20 L722.66,859.50 L726.81,890.00 L730.96,919.50 L735.11,914.40 L739.26,893.00 L743.41,860.90 L747.56,840.70 L751.71,854.60 L755.86,884.70 L760.01,900.00 L764.16,905.30 L768.31,878.80 L772.46,866.00 L776.61,851.90 L780.76,854.30 L784.91,877.40 L789.06,895.40 L793.21,901.00 L797.36,894.60 L801.51,879.10 L805.66,864.90 L809.81,881.20 L813.96,889.70 L818.11,869.90 L822.26,875.50 L826.41,876.00 L830.56,869.20 L834.71,874.80 L838.86,869.50 L843.01,873.40 L847.16,875.00 L851.31,862.50 L855.45,870.30 L859.60,859.50 L863.75,869.90 L867.90,889.70 L872.05,874.10 L876.20,885.00 L880.35,874.80 L884.50,851.40 L888.65,866.30 L892.80,878.40 L896.95,882.60 L901.10,871.30 L905.25,860.70 L909.40,848.00 L913.55,865.20 L917.70,875.10 L921.85,878.80 L926.00,880.50 L930.15,886.10 L934.30,890.10" fill="none" stroke="#111" stroke-width="1.0" stroke-linejoin="round" />
<path d="M108.50,1029.20V1043.20 M112.65,1027.70V1041.70 M116.80,991.60V1005.60 M120.95,974.60V988.60 M125.10,931.30V945.30 M129.25,888.10V902.10 M133.40,826.70V840.70 M137.55,798.40V812.40 M141.70,739.30V753.30 M145.85,706.00V720.00 M150.00,705.10V719.10 M154.15,719.30V733.30 M158.30,765.80V779.80 M162.45,822.30V836.30 M166.60,922.60V936.60 M170.75,947.70V961.70 M174.90,986.70V1000.70 M179.05,973.80V987.80 M183.20,934.80V948.80 M187.35,838.20V852.20 M191.49,801.10V815.10 M195.64,778.60V792.60 M199.79,793.20V807.20 M203.94,857.50V871.50 M208.09,893.60V907.60 M212.24,938.20V952.20 M216.39,939.10V953.10 M220.54,886.90V900.90 M224.69,844.40V858.40 M228.84,809.40V823.40 M232.99,846.20V860.20 M237.14,888.10V902.10 M241.29,909.00V923.00 M245.44,923.70V937.70 M249.59,885.00V899.00 M253.74,849.40V863.40 M257.89,844.40V858.40 M262.04,854.70V868.70 M266.19,870.40V884.40 M270.34,893.10V907.10 M274.49,910.30V924.30 M278.64,850.10V864.10 M282.79,838.20V852.20 M286.94,848.00V862.00 M291.09,871.70V885.70 M295.24,884.90V898.90 M299.39,890.90V904.90 M303.54,869.80V883.80 M307.69,846.30V860.30 M311.84,858.10V872.10 M315.99,866.70V880.70 M320.14,879.70V893.70 M324.29,881.20V895.20 M328.44,855.00V869.00 M332.59,830.80V844.80 M336.74,864.90V878.90 M340.89,883.50V897.50 M345.04,878.50V892.50 M349.19,845.70V859.70 M353.34,840.70V854.70 M357.48,852.50V866.50 M361.63,863.60V877.60 M365.78,866.10V880.10 M369.93,863.60V877.60 M374.08,858.00V872.00 M378.23,853.70V867.70 M382.38,850.00V864.00 M386.53,880.60V894.60 M390.68,872.00V886.00 M394.83,857.40V871.40 M398.98,837.00V851.00 M403.13,854.70V868.70 M407.28,877.30V891.30 M411.43,876.00V890.00 M415.58,882.20V896.20 M419.73,861.20V875.20 M423.88,864.30V878.30 M428.03,853.50V867.50 M432.18,863.60V877.60 M436.33,876.60V890.60 M440.48,874.80V888.80 M444.63,868.00V882.00 M448.78,853.10V867.10 M452.93,841.60V855.60 M457.08,874.20V888.20 M461.23,889.70V903.70 M465.38,892.10V906.10 M469.53,876.00V890.00 M473.68,861.80V875.80 M477.83,850.60V864.60 M481.98,847.50V861.50 M486.13,869.50V883.50 M490.28,869.70V883.70 M494.43,875.90V889.90 M498.58,880.90V894.90 M502.73,864.20V878.20 M506.88,840.60V854.60 M511.03,837.50V851.50 M515.18,837.30V851.30 M519.33,849.90V863.90 M523.47,859.80V873.80 M527.62,868.30V882.30 M531.77,885.90V899.90 M535.92,896.40V910.40 M540.07,871.20V885.20 M544.22,854.90V868.90 M548.37,834.10V848.10 M552.52,818.30V832.30 M556.67,817.10V831.10 M560.82,813.40V827.40 M564.97,837.50V851.50 M569.12,826.40V840.40 M573.27,862.90V876.90 M577.42,864.80V878.80 M581.57,887.20V901.20 M585.72,893.00V907.00 M589.87,896.00V910.00 M594.02,884.20V898.20 M598.17,866.80V880.80 M602.32,863.30V877.30 M606.47,831.40V845.40 M610.62,820.80V834.80 M614.77,799.50V813.50 M618.92,803.10V817.10 M623.07,819.90V833.90 M627.22,828.80V842.80 M631.37,852.60V866.60 M635.52,863.30V877.30 M639.67,903.10V917.10 M643.82,924.90V938.90 M647.97,918.10V932.10 M652.12,928.40V942.40 M656.27,919.00V933.00 M660.42,891.00V905.00 M664.57,852.70V866.70 M668.72,809.40V823.40 M672.87,777.20V791.20 M677.02,788.10V802.10 M681.17,803.60V817.60 M685.32,840.80V854.80 M689.46,894.90V908.90 M693.61,909.90V923.90 M697.76,922.50V936.50 M701.91,893.70V907.70 M706.06,867.90V881.90 M710.21,844.90V858.90 M714.36,815.70V829.70 M718.51,824.20V838.20 M722.66,852.50V866.50 M726.81,883.00V897.00 M730.96,912.50V926.50 M735.11,907.40V921.40 M739.26,886.00V900.00 M743.41,853.90V867.90 M747.56,833.70V847.70 M751.71,847.60V861.60 M755.86,877.70V891.70 M760.01,893.00V907.00 M764.16,898.30V912.30 M768.31,871.80V885.80 M772.46,859.00V873.00 M776.61,844.90V858.90 M780.76,847.30V861.30 M784.91,870.40V884.40 M789.06,888.40V902.40 M793.21,894.00V908.00 M797.36,887.60V901.60 M801.51,872.10V886.10 M805.66,857.90V871.90 M809.81,874.20V888.20 M813.96,882.70V896.70 M818.11,862.90V876.90 M822.26,868.50V882.50 M826.41,869.00V883.00 M830.56,862.20V876.20 M834.71,867.80V881.80 M838.86,862.50V876.50 M843.01,866.40V880.40 M847.16,868.00V882.00 M851.31,855.50V869.50 M855.45,863.30V877.30 M859.60,852.50V866.50 M863.75,862.90V876.90 M867.90,882.70V896.70 M872.05,867.10V881.10 M876.20,878.00V892.00 M880.35,867.80V881.80 M884.50,844.40V858.40 M888.65,859.30V873.30 M892.80,871.40V885.40 M896.95,875.60V889.60 M901.10,864.30V878.30 M905.25,853.70V867.70 M909.40,841.00V855.00 M913.55,858.20V872.20 M917.70,868.10V882.10 M921.85,871.80V885.80 M926.00,873.50V887.50 M930.15,879.10V893.10 M934.30,883.10V897.10" stroke="#444" stroke-width="0.9" fill="none"/>
<circle cx="108.50" cy="1036.20" r="3.7" fill="#000" stroke="#000" stroke-width="0.7"/>
<circle cx="112.65" cy="1034.70" r="3.7" fill="#000" stroke="#000" stroke-width="0.7"/>
<circle cx="116.80" cy="998.60" r="3.7" fill="#000" stroke="#000" stroke-width="0.7"/>
<circle cx="120.95" cy="981.60" r="3.7" fill="#000" stroke="#000" stroke-width="0.7"/>
<circle cx="125.10" cy="938.30" r="3.7" fill="#000" stroke="#000" stroke-width="0.7"/>
<circle cx="129.25" cy="895.10" r="3.7" fill="#000" stroke="#000" stroke-width="0.7"/>
<circle cx="133.40" cy="833.70" r="3.7" fill="#000" stroke="#000" stroke-width="0.7"/>
<circle cx="137.55" cy="805.40" r="3.7" fill="#000" stroke="#000" stroke-width="0.7"/>
<circle cx="141.70" cy="746.30" r="3.7" fill="#000" stroke="#000" stroke-width="0.7"/>
<circle cx="145.85" cy="713.00" r="3.7" fill="#000" stroke="#000" stroke-width="0.7"/>
<circle cx="150.00" cy="712.10" r="3.7" fill="#000" stroke="#000" stroke-width="0.7"/>
<circle cx="154.15" cy="726.30" r="3.7" fill="#000" stroke="#000" stroke-width="0.7"/>
<circle cx="158.30" cy="772.80" r="3.7" fill="#000" stroke="#000" stroke-width="0.7"/>
<circle cx="162.45" cy="829.30" r="3.7" fill="#000" stroke="#000" stroke-width="0.7"/>
<circle cx="166.60" cy="929.60" r="3.7" fill="#000" stroke="#000" stroke-width="0.7"/>
<circle cx="170.75" cy="954.70" r="3.7" fill="#000" stroke="#000" stroke-width="0.7"/>
<circle cx="174.90" cy="993.70" r="3.7" fill="#000" stroke="#000" stroke-width="0.7"/>
<circle cx="179.05" cy="980.80" r="3.7" fill="#000" stroke="#000" stroke-width="0.7"/>
<circle cx="183.20" cy="941.80" r="3.7" fill="#000" stroke="#000" stroke-width="0.7"/>
<circle cx="187.35" cy="845.20" r="3.7" fill="#000" stroke="#000" stroke-width="0.7"/>
<circle cx="191.49" cy="808.10" r="3.7" fill="#000" stroke="#000" stroke-width="0.7"/>
<circle cx="195.64" cy="785.60" r="3.7" fill="#000" stroke="#000" stroke-width="0.7"/>
<circle cx="199.79" cy="800.20" r="3.7" fill="#000" stroke="#000" stroke-width="0.7"/>
<circle cx="203.94" cy="864.50" r="3.7" fill="#000" stroke="#000" stroke-width="0.7"/>
<circle cx="208.09" cy="900.60" r="3.7" fill="#000" stroke="#000" stroke-width="0.7"/>
<circle cx="212.24" cy="945.20" r="3.7" fill="#000" stroke="#000" stroke-width="0.7"/>
<circle cx="216.39" cy="946.10" r="3.7" fill="#000" stroke="#000" stroke-width="0.7"/>
<circle cx="220.54" cy="893.90" r="3.7" fill="#000" stroke="#000" stroke-width="0.7"/>
<circle cx="224.69" cy="851.40" r="3.7" fill="#000" stroke="#000" stroke-width="0.7"/>
<circle cx="228.84" cy="816.40" r="3.7" fill="#000" stroke="#000" stroke-width="0.7"/>
<circle cx="232.99" cy="853.20" r="3.7" fill="#000" stroke="#000" stroke-width="0.7"/>
<circle cx="237.14" cy="895.10" r="3.7" fill="#000" stroke="#000" stroke-width="0.7"/>
<circle cx="241.29" cy="916.00" r="3.7" fill="#000" stroke="#000" stroke-width="0.7"/>
<circle cx="245.44" cy="930.70" r="3.7" fill="#000" stroke="#000" stroke-width="0.7"/>
<circle cx="249.59" cy="892.00" r="3.7" fill="#000" stroke="#000" stroke-width="0.7"/>
<circle cx="253.74" cy="856.40" r="3.7" fill="#000" stroke="#000" stroke-width="0.7"/>
<circle cx="257.89" cy="851.40" r="3.7" fill="#000" stroke="#000" stroke-width="0.7"/>
<circle cx="262.04" cy="861.70" r="3.7" fill="#000" stroke="#000" stroke-width="0.7"/>
<circle cx="266.19" cy="877.40" r="3.7" fill="#000" stroke="#000" stroke-width="0.7"/>
<circle cx="270.34" cy="900.10" r="3.7" fill="#000" stroke="#000" stroke-width="0.7"/>
<circle cx="274.49" cy="917.30" r="3.7" fill="#000" stroke="#000" stroke-width="0.7"/>
<circle cx="278.64" cy="857.10" r="3.7" fill="#000" stroke="#000" stroke-width="0.7"/>
<circle cx="282.79" cy="845.20" r="3.7" fill="#000" stroke="#000" stroke-width="0.7"/>
<circle cx="286.94" cy="855.00" r="3.7" fill="#000" stroke="#000" stroke-width="0.7"/>
<circle cx="291.09" cy="878.70" r="3.7" fill="#000" stroke="#000" stroke-width="0.7"/>
<circle cx="295.24" cy="891.90" r="3.7" fill="#000" stroke="#000" stroke-width="0.7"/>
<circle cx="299.39" cy="897.90" r="3.7" fill="#000" stroke="#000" stroke-width="0.7"/>
<circle cx="303.54" cy="876.80" r="3.7" fill="#000" stroke="#000" stroke-width="0.7"/>
<circle cx="307.69" cy="853.30" r="3.7" fill="#000" stroke="#000" stroke-width="0.7"/>
<circle cx="311.84" cy="865.10" r="3.7" fill="#000" stroke="#000" stroke-width="0.7"/>
<circle cx="315.99" cy="873.70" r="3.7" fill="#000" stroke="#000" stroke-width="0.7"/>
<circle cx="320.14" cy="886.70" r="3.7" fill="#000" stroke="#000" stroke-width="0.7"/>
<circle cx="324.29" cy="888.20" r="3.7" fill="#000" stroke="#000" stroke-width="0.7"/>
<circle cx="328.44" cy="862.00" r="3.7" fill="#000" stroke="#000" stroke-width="0.7"/>
<circle cx="332.59" cy="837.80" r="3.7" fill="#000" stroke="#000" stroke-width="0.7"/>
<circle cx="336.74" cy="871.90" r="3.7" fill="#000" stroke="#000" stroke-width="0.7"/>
<circle cx="340.89" cy="890.50" r="3.7" fill="#000" stroke="#000" stroke-width="0.7"/>
<circle cx="345.04" cy="885.50" r="3.7" fill="#000" stroke="#000" stroke-width="0.7"/>
<circle cx="349.19" cy="852.70" r="3.7" fill="#000" stroke="#000" stroke-width="0.7"/>
<circle cx="353.34" cy="847.70" r="3.7" fill="#000" stroke="#000" stroke-width="0.7"/>
<circle cx="357.48" cy="859.50" r="3.7" fill="#000" stroke="#000" stroke-width="0.7"/>
<circle cx="361.63" cy="870.60" r="3.7" fill="#000" stroke="#000" stroke-width="0.7"/>
<circle cx="365.78" cy="873.10" r="3.7" fill="#000" stroke="#000" stroke-width="0.7"/>
<circle cx="369.93" cy="870.60" r="3.7" fill="#000" stroke="#000" stroke-width="0.7"/>
<circle cx="374.08" cy="865.00" r="3.7" fill="#000" stroke="#000" stroke-width="0.7"/>
<circle cx="378.23" cy="860.70" r="3.7" fill="#000" stroke="#000" stroke-width="0.7"/>
<circle cx="382.38" cy="857.00" r="3.7" fill="#000" stroke="#000" stroke-width="0.7"/>
<circle cx="386.53" cy="887.60" r="3.7" fill="#000" stroke="#000" stroke-width="0.7"/>
<circle cx="390.68" cy="879.00" r="3.7" fill="#000" stroke="#000" stroke-width="0.7"/>
<circle cx="394.83" cy="864.40" r="3.7" fill="#000" stroke="#000" stroke-width="0.7"/>
<circle cx="398.98" cy="844.00" r="3.7" fill="#000" stroke="#000" stroke-width="0.7"/>
<circle cx="403.13" cy="861.70" r="3.7" fill="#000" stroke="#000" stroke-width="0.7"/>
<circle cx="407.28" cy="884.30" r="3.7" fill="#000" stroke="#000" stroke-width="0.7"/>
<circle cx="411.43" cy="883.00" r="3.7" fill="#000" stroke="#000" stroke-width="0.7"/>
<circle cx="415.58" cy="889.20" r="3.7" fill="#000" stroke="#000" stroke-width="0.7"/>
<circle cx="419.73" cy="868.20" r="3.7" fill="#000" stroke="#000" stroke-width="0.7"/>
<circle cx="423.88" cy="871.30" r="3.7" fill="#000" stroke="#000" stroke-width="0.7"/>
<circle cx="428.03" cy="860.50" r="3.7" fill="#000" stroke="#000" stroke-width="0.7"/>
<circle cx="432.18" cy="870.60" r="3.7" fill="#000" stroke="#000" stroke-width="0.7"/>
<circle cx="436.33" cy="883.60" r="3.7" fill="#000" stroke="#000" stroke-width="0.7"/>
<circle cx="440.48" cy="881.80" r="3.7" fill="#000" stroke="#000" stroke-width="0.7"/>
<circle cx="444.63" cy="875.00" r="3.7" fill="#000" stroke="#000" stroke-width="0.7"/>
<circle cx="448.78" cy="860.10" r="3.7" fill="#000" stroke="#000" stroke-width="0.7"/>
<circle cx="452.93" cy="848.60" r="3.7" fill="#000" stroke="#000" stroke-width="0.7"/>
<circle cx="457.08" cy="881.20" r="3.7" fill="#000" stroke="#000" stroke-width="0.7"/>
<circle cx="461.23" cy="896.70" r="3.7" fill="#000" stroke="#000" stroke-width="0.7"/>
<circle cx="465.38" cy="899.10" r="3.7" fill="#000" stroke="#000" stroke-width="0.7"/>
<circle cx="469.53" cy="883.00" r="3.7" fill="#000" stroke="#000" stroke-width="0.7"/>
<circle cx="473.68" cy="868.80" r="3.7" fill="#000" stroke="#000" stroke-width="0.7"/>
<circle cx="477.83" cy="857.60" r="3.7" fill="#000" stroke="#000" stroke-width="0.7"/>
<circle cx="481.98" cy="854.50" r="3.7" fill="#000" stroke="#000" stroke-width="0.7"/>
<circle cx="486.13" cy="876.50" r="3.7" fill="#000" stroke="#000" stroke-width="0.7"/>
<circle cx="490.28" cy="876.70" r="3.7" fill="#000" stroke="#000" stroke-width="0.7"/>
<circle cx="494.43" cy="882.90" r="3.7" fill="#000" stroke="#000" stroke-width="0.7"/>
<circle cx="498.58" cy="887.90" r="3.7" fill="#000" stroke="#000" stroke-width="0.7"/>
<circle cx="502.73" cy="871.20" r="3.7" fill="#000" stroke="#000" stroke-width="0.7"/>
<circle cx="506.88" cy="847.60" r="3.7" fill="#000" stroke="#000" stroke-width="0.7"/>
<circle cx="511.03" cy="844.50" r="3.7" fill="#000" stroke="#000" stroke-width="0.7"/>
<circle cx="515.18" cy="844.30" r="3.7" fill="#000" stroke="#000" stroke-width="0.7"/>
<circle cx="519.33" cy="856.90" r="3.7" fill="#000" stroke="#000" stroke-width="0.7"/>
<circle cx="523.47" cy="866.80" r="3.7" fill="#000" stroke="#000" stroke-width="0.7"/>
<circle cx="527.62" cy="875.30" r="3.7" fill="#000" stroke="#000" stroke-width="0.7"/>
<circle cx="531.77" cy="892.90" r="3.7" fill="#000" stroke="#000" stroke-width="0.7"/>
<circle cx="535.92" cy="903.40" r="3.7" fill="#000" stroke="#000" stroke-width="0.7"/>
<circle cx="540.07" cy="878.20" r="3.7" fill="#000" stroke="#000" stroke-width="0.7"/>
<circle cx="544.22" cy="861.90" r="3.7" fill="#000" stroke="#000" stroke-width="0.7"/>
<circle cx="548.37" cy="841.10" r="3.7" fill="#000" stroke="#000" stroke-width="0.7"/>
<circle cx="552.52" cy="825.30" r="3.7" fill="#000" stroke="#000" stroke-width="0.7"/>
<circle cx="556.67" cy="824.10" r="3.7" fill="#000" stroke="#000" stroke-width="0.7"/>
<circle cx="560.82" cy="820.40" r="3.7" fill="#000" stroke="#000" stroke-width="0.7"/>
<circle cx="564.97" cy="844.50" r="3.7" fill="#000" stroke="#000" stroke-width="0.7"/>
<circle cx="569.12" cy="833.40" r="3.7" fill="#000" stroke="#000" stroke-width="0.7"/>
<circle cx="573.27" cy="869.90" r="3.7" fill="#000" stroke="#000" stroke-width="0.7"/>
<circle cx="577.42" cy="871.80" r="3.7" fill="#000" stroke="#000" stroke-width="0.7"/>
<circle cx="581.57" cy="894.20" r="3.7" fill="#000" stroke="#000" stroke-width="0.7"/>
<circle cx="585.72" cy="900.00" r="3.7" fill="#000" stroke="#000" stroke-width="0.7"/>
<circle cx="589.87" cy="903.00" r="3.7" fill="#000" stroke="#000" stroke-width="0.7"/>
<circle cx="594.02" cy="891.20" r="3.7" fill="#000" stroke="#000" stroke-width="0.7"/>
<circle cx="598.17" cy="873.80" r="3.7" fill="#000" stroke="#000" stroke-width="0.7"/>
<circle cx="602.32" cy="870.30" r="3.7" fill="#000" stroke="#000" stroke-width="0.7"/>
<circle cx="606.47" cy="838.40" r="3.7" fill="#000" stroke="#000" stroke-width="0.7"/>
<circle cx="610.62" cy="827.80" r="3.7" fill="#000" stroke="#000" stroke-width="0.7"/>
<circle cx="614.77" cy="806.50" r="3.7" fill="#000" stroke="#000" stroke-width="0.7"/>
<circle cx="618.92" cy="810.10" r="3.7" fill="#000" stroke="#000" stroke-width="0.7"/>
<circle cx="623.07" cy="826.90" r="3.7" fill="#000" stroke="#000" stroke-width="0.7"/>
<circle cx="627.22" cy="835.80" r="3.7" fill="#000" stroke="#000" stroke-width="0.7"/>
<circle cx="631.37" cy="859.60" r="3.7" fill="#000" stroke="#000" stroke-width="0.7"/>
<circle cx="635.52" cy="870.30" r="3.7" fill="#000" stroke="#000" stroke-width="0.7"/>
<circle cx="639.67" cy="910.10" r="3.7" fill="#000" stroke="#000" stroke-width="0.7"/>
<circle cx="643.82" cy="931.90" r="3.7" fill="#000" stroke="#000" stroke-width="0.7"/>
<circle cx="647.97" cy="925.10" r="3.7" fill="#000" stroke="#000" stroke-width="0.7"/>
<circle cx="652.12" cy="935.40" r="3.7" fill="#000" stroke="#000" stroke-width="0.7"/>
<circle cx="656.27" cy="926.00" r="3.7" fill="#000" stroke="#000" stroke-width="0.7"/>
<circle cx="660.42" cy="898.00" r="3.7" fill="#000" stroke="#000" stroke-width="0.7"/>
<circle cx="664.57" cy="859.70" r="3.7" fill="#000" stroke="#000" stroke-width="0.7"/>
<circle cx="668.72" cy="816.40" r="3.7" fill="#000" stroke="#000" stroke-width="0.7"/>
<circle cx="672.87" cy="784.20" r="3.7" fill="#000" stroke="#000" stroke-width="0.7"/>
<circle cx="677.02" cy="795.10" r="3.7" fill="#000" stroke="#000" stroke-width="0.7"/>
<circle cx="681.17" cy="810.60" r="3.7" fill="#000" stroke="#000" stroke-width="0.7"/>
<circle cx="685.32" cy="847.80" r="3.7" fill="#000" stroke="#000" stroke-width="0.7"/>
<circle cx="689.46" cy="901.90" r="3.7" fill="#000" stroke="#000" stroke-width="0.7"/>
<circle cx="693.61" cy="916.90" r="3.7" fill="#000" stroke="#000" stroke-width="0.7"/>
<circle cx="697.76" cy="929.50" r="3.7" fill="#000" stroke="#000" stroke-width="0.7"/>
<circle cx="701.91" cy="900.70" r="3.7" fill="#000" stroke="#000" stroke-width="0.7"/>
<circle cx="706.06" cy="874.90" r="3.7" fill="#000" stroke="#000" stroke-width="0.7"/>
<circle cx="710.21" cy="851.90" r="3.7" fill="#000" stroke="#000" stroke-width="0.7"/>
<circle cx="714.36" cy="822.70" r="3.7" fill="#000" stroke="#000" stroke-width="0.7"/>
<circle cx="718.51" cy="831.20" r="3.7" fill="#000" stroke="#000" stroke-width="0.7"/>
<circle cx="722.66" cy="859.50" r="3.7" fill="#000" stroke="#000" stroke-width="0.7"/>
<circle cx="726.81" cy="890.00" r="3.7" fill="#000" stroke="#000" stroke-width="0.7"/>
<circle cx="730.96" cy="919.50" r="3.7" fill="#000" stroke="#000" stroke-width="0.7"/>
<circle cx="735.11" cy="914.40" r="3.7" fill="#000" stroke="#000" stroke-width="0.7"/>
<circle cx="739.26" cy="893.00" r="3.7" fill="#000" stroke="#000" stroke-width="0.7"/>
<circle cx="743.41" cy="860.90" r="3.7" fill="#000" stroke="#000" stroke-width="0.7"/>
<circle cx="747.56" cy="840.70" r="3.7" fill="#000" stroke="#000" stroke-width="0.7"/>
<circle cx="751.71" cy="854.60" r="3.7" fill="#000" stroke="#000" stroke-width="0.7"/>
<circle cx="755.86" cy="884.70" r="3.7" fill="#000" stroke="#000" stroke-width="0.7"/>
<circle cx="760.01" cy="900.00" r="3.7" fill="#000" stroke="#000" stroke-width="0.7"/>
<circle cx="764.16" cy="905.30" r="3.7" fill="#000" stroke="#000" stroke-width="0.7"/>
<circle cx="768.31" cy="878.80" r="3.7" fill="#000" stroke="#000" stroke-width="0.7"/>
<circle cx="772.46" cy="866.00" r="3.7" fill="#000" stroke="#000" stroke-width="0.7"/>
<circle cx="776.61" cy="851.90" r="3.7" fill="#000" stroke="#000" stroke-width="0.7"/>
<circle cx="780.76" cy="854.30" r="3.7" fill="#000" stroke="#000" stroke-width="0.7"/>
<circle cx="784.91" cy="877.40" r="3.7" fill="#000" stroke="#000" stroke-width="0.7"/>
<circle cx="789.06" cy="895.40" r="3.7" fill="#000" stroke="#000" stroke-width="0.7"/>
<circle cx="793.21" cy="901.00" r="3.7" fill="#000" stroke="#000" stroke-width="0.7"/>
<circle cx="797.36" cy="894.60" r="3.7" fill="#000" stroke="#000" stroke-width="0.7"/>
<circle cx="801.51" cy="879.10" r="3.7" fill="#000" stroke="#000" stroke-width="0.7"/>
<circle cx="805.66" cy="864.90" r="3.7" fill="#000" stroke="#000" stroke-width="0.7"/>
<circle cx="809.81" cy="881.20" r="3.7" fill="#000" stroke="#000" stroke-width="0.7"/>
<circle cx="813.96" cy="889.70" r="3.7" fill="#000" stroke="#000" stroke-width="0.7"/>
<circle cx="818.11" cy="869.90" r="3.7" fill="#000" stroke="#000" stroke-width="0.7"/>
<circle cx="822.26" cy="875.50" r="3.7" fill="#000" stroke="#000" stroke-width="0.7"/>
<circle cx="826.41" cy="876.00" r="3.7" fill="#000" stroke="#000" stroke-width="0.7"/>
<circle cx="830.56" cy="869.20" r="3.7" fill="#000" stroke="#000" stroke-width="0.7"/>
<circle cx="834.71" cy="874.80" r="3.7" fill="#000" stroke="#000" stroke-width="0.7"/>
<circle cx="838.86" cy="869.50" r="3.7" fill="#000" stroke="#000" stroke-width="0.7"/>
<circle cx="843.01" cy="873.40" r="3.7" fill="#000" stroke="#000" stroke-width="0.7"/>
<circle cx="847.16" cy="875.00" r="3.7" fill="#000" stroke="#000" stroke-width="0.7"/>
<circle cx="851.31" cy="862.50" r="3.7" fill="#000" stroke="#000" stroke-width="0.7"/>
<circle cx="855.45" cy="870.30" r="3.7" fill="#000" stroke="#000" stroke-width="0.7"/>
<circle cx="859.60" cy="859.50" r="3.7" fill="#000" stroke="#000" stroke-width="0.7"/>
<circle cx="863.75" cy="869.90" r="3.7" fill="#000" stroke="#000" stroke-width="0.7"/>
<circle cx="867.90" cy="889.70" r="3.7" fill="#000" stroke="#000" stroke-width="0.7"/>
<circle cx="872.05" cy="874.10" r="3.7" fill="#000" stroke="#000" stroke-width="0.7"/>
<circle cx="876.20" cy="885.00" r="3.7" fill="#000" stroke="#000" stroke-width="0.7"/>
<circle cx="880.35" cy="874.80" r="3.7" fill="#000" stroke="#000" stroke-width="0.7"/>
<circle cx="884.50" cy="851.40" r="3.7" fill="#000" stroke="#000" stroke-width="0.7"/>
<circle cx="888.65" cy="866.30" r="3.7" fill="#000" stroke="#000" stroke-width="0.7"/>
<circle cx="892.80" cy="878.40" r="3.7" fill="#000" stroke="#000" stroke-width="0.7"/>
<circle cx="896.95" cy="882.60" r="3.7" fill="#000" stroke="#000" stroke-width="0.7"/>
<circle cx="901.10" cy="871.30" r="3.7" fill="#000" stroke="#000" stroke-width="0.7"/>
<circle cx="905.25" cy="860.70" r="3.7" fill="#000" stroke="#000" stroke-width="0.7"/>
<circle cx="909.40" cy="848.00" r="3.7" fill="#000" stroke="#000" stroke-width="0.7"/>
<circle cx="913.55" cy="865.20" r="3.7" fill="#000" stroke="#000" stroke-width="0.7"/>
<circle cx="917.70" cy="875.10" r="3.7" fill="#000" stroke="#000" stroke-width="0.7"/>
<circle cx="921.85" cy="878.80" r="3.7" fill="#000" stroke="#000" stroke-width="0.7"/>
<circle cx="926.00" cy="880.50" r="3.7" fill="#000" stroke="#000" stroke-width="0.7"/>
<circle cx="930.15" cy="886.10" r="3.7" fill="#000" stroke="#000" stroke-width="0.7"/>
<circle cx="934.30" cy="890.10" r="3.7" fill="#000" stroke="#000" stroke-width="0.7"/>
<path d="M108.50,1021.10 L112.65,1013.10 L116.80,995.40 L120.95,968.50 L125.10,909.10 L129.25,873.90 L133.40,805.00 L137.55,774.60 L141.70,739.20 L145.85,721.00 L150.00,729.80 L154.15,743.50 L158.30,792.30 L162.45,845.90 L166.60,913.10 L170.75,964.50 L174.90,960.40 L179.05,943.80 L183.20,922.00 L187.35,871.60 L191.49,836.90 L195.64,835.50 L199.79,837.50 L203.94,891.30 L208.09,910.70 L212.24,950.50 L216.39,936.40 L220.54,881.50 L224.69,890.00 L228.84,862.90 L232.99,859.90 L237.14,905.00 L241.29,925.40 L245.44,910.20 L249.59,892.10 L253.74,867.00 L257.89,861.70 L262.04,874.40 L266.19,888.20 L270.34,906.60 L274.49,886.80 L278.64,883.30 L282.79,867.30 L286.94,883.30 L291.09,880.90 L295.24,901.20 L299.39,891.70 L303.54,871.90 L307.69,863.20 L311.84,892.70 L315.99,901.00 L320.14,904.70 L324.29,902.90 L328.44,863.20 L332.59,866.70 L336.74,877.40 L340.89,877.80 L345.04,887.40 L349.19,879.90 L353.34,866.90 L357.48,863.20 L361.63,886.70 L365.78,895.40 L369.93,870.00 L374.08,876.80 L378.23,866.90 L382.38,864.40 L386.53,882.60 L390.68,904.40 L394.83,856.40 L398.98,872.90 L403.13,876.80 L407.28,877.80 L411.43,889.20 L415.58,895.40 L419.73,866.30 L423.88,867.20 L428.03,852.70 L432.18,879.10 L436.33,889.80 L440.48,878.70 L444.63,886.10 L448.78,866.90 L452.93,870.60 L457.08,891.40 L461.23,890.50 L465.38,897.30 L469.53,887.70 L473.68,846.80 L477.83,863.20 L481.98,852.60 L486.13,860.00 L490.28,881.70 L494.43,895.10 L498.58,888.50 L502.73,887.60 L506.88,856.90 L511.03,860.60 L515.18,862.90 L519.33,852.60 L523.47,867.10 L527.62,864.10 L531.77,879.00 L535.92,884.80 L540.07,863.10 L544.22,857.50 L548.37,829.40 L552.52,848.20 L556.67,839.60 L560.82,836.80 L564.97,853.80 L569.12,866.80 L573.27,892.30 L577.42,901.00 L581.57,908.00 L585.72,917.20 L589.87,907.10 L594.02,867.60 L598.17,865.80 L602.32,838.40 L606.47,824.20 L610.62,806.90 L614.77,815.40 L618.92,801.60 L623.07,825.70 L627.22,866.40 L631.37,895.90 L635.52,923.70 L639.67,952.60 L643.82,979.60 L647.97,954.90 L652.12,944.20 L656.27,906.30 L660.42,850.70 L664.57,813.40 L668.72,767.40 L672.87,732.00 L677.02,755.40 L681.17,802.30 L685.32,854.20 L689.46,929.50 L693.61,962.40 L697.76,940.50 L701.91,914.40 L706.06,836.50 L710.21,792.20 L714.36,743.90 L718.51,772.70 L722.66,808.10 L726.81,897.80 L730.96,913.20 L735.11,933.00 L739.26,897.00 L743.41,828.00 L747.56,801.80 L751.71,806.60 L755.86,835.10 L760.01,894.40 L764.16,916.20 L768.31,902.40 L772.46,859.00 L776.61,800.50 L780.76,805.40 L784.91,828.80 L789.06,873.40 L793.21,906.00 L797.36,862.10 L801.51,843.90 L805.66,813.20 L809.81,823.10 L813.96,859.50 L818.11,874.10 L822.26,880.50 L826.41,852.90 L830.56,824.10 L834.71,814.20 L838.86,820.50 L843.01,864.60 L847.16,884.00 L851.31,839.20 L855.45,833.70 L859.60,803.70 L863.75,823.10 L867.90,899.20 L872.05,867.00 L876.20,850.00 L880.35,830.90 L884.50,798.30 L888.65,823.10 L892.80,865.60 L896.95,856.40 L901.10,878.80 L905.25,863.50 L909.40,812.80 L913.55,825.00 L917.70,856.40 L921.85,866.00 L926.00,867.50 L930.15,840.10 L934.30,811.80" fill="none" stroke="#cc1111" stroke-width="1.0" stroke-linejoin="round" />
<path d="M108.50,1014.10V1028.10 M112.65,1006.10V1020.10 M116.80,988.40V1002.40 M120.95,961.50V975.50 M125.10,902.10V916.10 M129.25,866.90V880.90 M133.40,798.00V812.00 M137.55,767.60V781.60 M141.70,732.20V746.20 M145.85,714.00V728.00 M150.00,722.80V736.80 M154.15,736.50V750.50 M158.30,785.30V799.30 M162.45,838.90V852.90 M166.60,906.10V920.10 M170.75,957.50V971.50 M174.90,953.40V967.40 M179.05,936.80V950.80 M183.20,915.00V929.00 M187.35,864.60V878.60 M191.49,829.90V843.90 M195.64,828.50V842.50 M199.79,830.50V844.50 M203.94,884.30V898.30 M208.09,903.70V917.70 M212.24,943.50V957.50 M216.39,929.40V943.40 M220.54,874.50V888.50 M224.69,883.00V897.00 M228.84,855.90V869.90 M232.99,852.90V866.90 M237.14,898.00V912.00 M241.29,918.40V932.40 M245.44,903.20V917.20 M249.59,885.10V899.10 M253.74,860.00V874.00 M257.89,854.70V868.70 M262.04,867.40V881.40 M266.19,881.20V895.20 M270.34,899.60V913.60 M274.49,879.80V893.80 M278.64,876.30V890.30 M282.79,860.30V874.30 M286.94,876.30V890.30 M291.09,873.90V887.90 M295.24,894.20V908.20 M299.39,884.70V898.70 M303.54,864.90V878.90 M307.69,856.20V870.20 M311.84,885.70V899.70 M315.99,894.00V908.00 M320.14,897.70V911.70 M324.29,895.90V909.90 M328.44,856.20V870.20 M332.59,859.70V873.70 M336.74,870.40V884.40 M340.89,870.80V884.80 M345.04,880.40V894.40 M349.19,872.90V886.90 M353.34,859.90V873.90 M357.48,856.20V870.20 M361.63,879.70V893.70 M365.78,888.40V902.40 M369.93,863.00V877.00 M374.08,869.80V883.80 M378.23,859.90V873.90 M382.38,857.40V871.40 M386.53,875.60V889.60 M390.68,897.40V911.40 M394.83,849.40V863.40 M398.98,865.90V879.90 M403.13,869.80V883.80 M407.28,870.80V884.80 M411.43,882.20V896.20 M415.58,888.40V902.40 M419.73,859.30V873.30 M423.88,860.20V874.20 M428.03,845.70V859.70 M432.18,872.10V886.10 M436.33,882.80V896.80 M440.48,871.70V885.70 M444.63,879.10V893.10 M448.78,859.90V873.90 M452.93,863.60V877.60 M457.08,884.40V898.40 M461.23,883.50V897.50 M465.38,890.30V904.30 M469.53,880.70V894.70 M473.68,839.80V853.80 M477.83,856.20V870.20 M481.98,845.60V859.60 M486.13,853.00V867.00 M490.28,874.70V888.70 M494.43,888.10V902.10 M498.58,881.50V895.50 M502.73,880.60V894.60 M506.88,849.90V863.90 M511.03,853.60V867.60 M515.18,855.90V869.90 M519.33,845.60V859.60 M523.47,860.10V874.10 M527.62,857.10V871.10 M531.77,872.00V886.00 M535.92,877.80V891.80 M540.07,856.10V870.10 M544.22,850.50V864.50 M548.37,822.40V836.40 M552.52,841.20V855.20 M556.67,832.60V846.60 M560.82,829.80V843.80 M564.97,846.80V860.80 M569.12,859.80V873.80 M573.27,885.30V899.30 M577.42,894.00V908.00 M581.57,901.00V915.00 M585.72,910.20V924.20 M589.87,900.10V914.10 M594.02,860.60V874.60 M598.17,858.80V872.80 M602.32,831.40V845.40 M606.47,817.20V831.20 M610.62,799.90V813.90 M614.77,808.40V822.40 M618.92,794.60V808.60 M623.07,818.70V832.70 M627.22,859.40V873.40 M631.37,888.90V902.90 M635.52,916.70V930.70 M639.67,945.60V959.60 M643.82,972.60V986.60 M647.97,947.90V961.90 M652.12,937.20V951.20 M656.27,899.30V913.30 M660.42,843.70V857.70 M664.57,806.40V820.40 M668.72,760.40V774.40 M672.87,725.00V739.00 M677.02,748.40V762.40 M681.17,795.30V809.30 M685.32,847.20V861.20 M689.46,922.50V936.50 M693.61,955.40V969.40 M697.76,933.50V947.50 M701.91,907.40V921.40 M706.06,829.50V843.50 M710.21,785.20V799.20 M714.36,736.90V750.90 M718.51,765.70V779.70 M722.66,801.10V815.10 M726.81,890.80V904.80 M730.96,906.20V920.20 M735.11,926.00V940.00 M739.26,890.00V904.00 M743.41,821.00V835.00 M747.56,794.80V808.80 M751.71,799.60V813.60 M755.86,828.10V842.10 M760.01,887.40V901.40 M764.16,909.20V923.20 M768.31,895.40V909.40 M772.46,852.00V866.00 M776.61,793.50V807.50 M780.76,798.40V812.40 M784.91,821.80V835.80 M789.06,866.40V880.40 M793.21,899.00V913.00 M797.36,855.10V869.10 M801.51,836.90V850.90 M805.66,806.20V820.20 M809.81,816.10V830.10 M813.96,852.50V866.50 M818.11,867.10V881.10 M822.26,873.50V887.50 M826.41,845.90V859.90 M830.56,817.10V831.10 M834.71,807.20V821.20 M838.86,813.50V827.50 M843.01,857.60V871.60 M847.16,877.00V891.00 M851.31,832.20V846.20 M855.45,826.70V840.70 M859.60,796.70V810.70 M863.75,816.10V830.10 M867.90,892.20V906.20 M872.05,860.00V874.00 M876.20,843.00V857.00 M880.35,823.90V837.90 M884.50,791.30V805.30 M888.65,816.10V830.10 M892.80,858.60V872.60 M896.95,849.40V863.40 M901.10,871.80V885.80 M905.25,856.50V870.50 M909.40,805.80V819.80 M913.55,818.00V832.00 M917.70,849.40V863.40 M921.85,859.00V873.00 M926.00,860.50V874.50 M930.15,833.10V847.10 M934.30,804.80V818.80" stroke="#f29090" stroke-width="0.9" fill="none"/>
<circle cx="108.50" cy="1021.10" r="3.7" fill="#ee0000" stroke="#300" stroke-width="0.7"/>
<circle cx="112.65" cy="1013.10" r="3.7" fill="#ee0000" stroke="#300" stroke-width="0.7"/>
<circle cx="116.80" cy="995.40" r="3.7" fill="#ee0000" stroke="#300" stroke-width="0.7"/>
<circle cx="120.95" cy="968.50" r="3.7" fill="#ee0000" stroke="#300" stroke-width="0.7"/>
<circle cx="125.10" cy="909.10" r="3.7" fill="#ee0000" stroke="#300" stroke-width="0.7"/>
<circle cx="129.25" cy="873.90" r="3.7" fill="#ee0000" stroke="#300" stroke-width="0.7"/>
<circle cx="133.40" cy="805.00" r="3.7" fill="#ee0000" stroke="#300" stroke-width="0.7"/>
<circle cx="137.55" cy="774.60" r="3.7" fill="#ee0000" stroke="#300" stroke-width="0.7"/>
<circle cx="141.70" cy="739.20" r="3.7" fill="#ee0000" stroke="#300" stroke-width="0.7"/>
<circle cx="145.85" cy="721.00" r="3.7" fill="#ee0000" stroke="#300" stroke-width="0.7"/>
<circle cx="150.00" cy="729.80" r="3.7" fill="#ee0000" stroke="#300" stroke-width="0.7"/>
<circle cx="154.15" cy="743.50" r="3.7" fill="#ee0000" stroke="#300" stroke-width="0.7"/>
<circle cx="158.30" cy="792.30" r="3.7" fill="#ee0000" stroke="#300" stroke-width="0.7"/>
<circle cx="162.45" cy="845.90" r="3.7" fill="#ee0000" stroke="#300" stroke-width="0.7"/>
<circle cx="166.60" cy="913.10" r="3.7" fill="#ee0000" stroke="#300" stroke-width="0.7"/>
<circle cx="170.75" cy="964.50" r="3.7" fill="#ee0000" stroke="#300" stroke-width="0.7"/>
<circle cx="174.90" cy="960.40" r="3.7" fill="#ee0000" stroke="#300" stroke-width="0.7"/>
<circle cx="179.05" cy="943.80" r="3.7" fill="#ee0000" stroke="#300" stroke-width="0.7"/>
<circle cx="183.20" cy="922.00" r="3.7" fill="#ee0000" stroke="#300" stroke-width="0.7"/>
<circle cx="187.35" cy="871.60" r="3.7" fill="#ee0000" stroke="#300" stroke-width="0.7"/>
<circle cx="191.49" cy="836.90" r="3.7" fill="#ee0000" stroke="#300" stroke-width="0.7"/>
<circle cx="195.64" cy="835.50" r="3.7" fill="#ee0000" stroke="#300" stroke-width="0.7"/>
<circle cx="199.79" cy="837.50" r="3.7" fill="#ee0000" stroke="#300" stroke-width="0.7"/>
<circle cx="203.94" cy="891.30" r="3.7" fill="#ee0000" stroke="#300" stroke-width="0.7"/>
<circle cx="208.09" cy="910.70" r="3.7" fill="#ee0000" stroke="#300" stroke-width="0.7"/>
<circle cx="212.24" cy="950.50" r="3.7" fill="#ee0000" stroke="#300" stroke-width="0.7"/>
<circle cx="216.39" cy="936.40" r="3.7" fill="#ee0000" stroke="#300" stroke-width="0.7"/>
<circle cx="220.54" cy="881.50" r="3.7" fill="#ee0000" stroke="#300" stroke-width="0.7"/>
<circle cx="224.69" cy="890.00" r="3.7" fill="#ee0000" stroke="#300" stroke-width="0.7"/>
<circle cx="228.84" cy="862.90" r="3.7" fill="#ee0000" stroke="#300" stroke-width="0.7"/>
<circle cx="232.99" cy="859.90" r="3.7" fill="#ee0000" stroke="#300" stroke-width="0.7"/>
<circle cx="237.14" cy="905.00" r="3.7" fill="#ee0000" stroke="#300" stroke-width="0.7"/>
<circle cx="241.29" cy="925.40" r="3.7" fill="#ee0000" stroke="#300" stroke-width="0.7"/>
<circle cx="245.44" cy="910.20" r="3.7" fill="#ee0000" stroke="#300" stroke-width="0.7"/>
<circle cx="249.59" cy="892.10" r="3.7" fill="#ee0000" stroke="#300" stroke-width="0.7"/>
<circle cx="253.74" cy="867.00" r="3.7" fill="#ee0000" stroke="#300" stroke-width="0.7"/>
<circle cx="257.89" cy="861.70" r="3.7" fill="#ee0000" stroke="#300" stroke-width="0.7"/>
<circle cx="262.04" cy="874.40" r="3.7" fill="#ee0000" stroke="#300" stroke-width="0.7"/>
<circle cx="266.19" cy="888.20" r="3.7" fill="#ee0000" stroke="#300" stroke-width="0.7"/>
<circle cx="270.34" cy="906.60" r="3.7" fill="#ee0000" stroke="#300" stroke-width="0.7"/>
<circle cx="274.49" cy="886.80" r="3.7" fill="#ee0000" stroke="#300" stroke-width="0.7"/>
<circle cx="278.64" cy="883.30" r="3.7" fill="#ee0000" stroke="#300" stroke-width="0.7"/>
<circle cx="282.79" cy="867.30" r="3.7" fill="#ee0000" stroke="#300" stroke-width="0.7"/>
<circle cx="286.94" cy="883.30" r="3.7" fill="#ee0000" stroke="#300" stroke-width="0.7"/>
<circle cx="291.09" cy="880.90" r="3.7" fill="#ee0000" stroke="#300" stroke-width="0.7"/>
<circle cx="295.24" cy="901.20" r="3.7" fill="#ee0000" stroke="#300" stroke-width="0.7"/>
<circle cx="299.39" cy="891.70" r="3.7" fill="#ee0000" stroke="#300" stroke-width="0.7"/>
<circle cx="303.54" cy="871.90" r="3.7" fill="#ee0000" stroke="#300" stroke-width="0.7"/>
<circle cx="307.69" cy="863.20" r="3.7" fill="#ee0000" stroke="#300" stroke-width="0.7"/>
<circle cx="311.84" cy="892.70" r="3.7" fill="#ee0000" stroke="#300" stroke-width="0.7"/>
<circle cx="315.99" cy="901.00" r="3.7" fill="#ee0000" stroke="#300" stroke-width="0.7"/>
<circle cx="320.14" cy="904.70" r="3.7" fill="#ee0000" stroke="#300" stroke-width="0.7"/>
<circle cx="324.29" cy="902.90" r="3.7" fill="#ee0000" stroke="#300" stroke-width="0.7"/>
<circle cx="328.44" cy="863.20" r="3.7" fill="#ee0000" stroke="#300" stroke-width="0.7"/>
<circle cx="332.59" cy="866.70" r="3.7" fill="#ee0000" stroke="#300" stroke-width="0.7"/>
<circle cx="336.74" cy="877.40" r="3.7" fill="#ee0000" stroke="#300" stroke-width="0.7"/>
<circle cx="340.89" cy="877.80" r="3.7" fill="#ee0000" stroke="#300" stroke-width="0.7"/>
<circle cx="345.04" cy="887.40" r="3.7" fill="#ee0000" stroke="#300" stroke-width="0.7"/>
<circle cx="349.19" cy="879.90" r="3.7" fill="#ee0000" stroke="#300" stroke-width="0.7"/>
<circle cx="353.34" cy="866.90" r="3.7" fill="#ee0000" stroke="#300" stroke-width="0.7"/>
<circle cx="357.48" cy="863.20" r="3.7" fill="#ee0000" stroke="#300" stroke-width="0.7"/>
<circle cx="361.63" cy="886.70" r="3.7" fill="#ee0000" stroke="#300" stroke-width="0.7"/>
<circle cx="365.78" cy="895.40" r="3.7" fill="#ee0000" stroke="#300" stroke-width="0.7"/>
<circle cx="369.93" cy="870.00" r="3.7" fill="#ee0000" stroke="#300" stroke-width="0.7"/>
<circle cx="374.08" cy="876.80" r="3.7" fill="#ee0000" stroke="#300" stroke-width="0.7"/>
<circle cx="378.23" cy="866.90" r="3.7" fill="#ee0000" stroke="#300" stroke-width="0.7"/>
<circle cx="382.38" cy="864.40" r="3.7" fill="#ee0000" stroke="#300" stroke-width="0.7"/>
<circle cx="386.53" cy="882.60" r="3.7" fill="#ee0000" stroke="#300" stroke-width="0.7"/>
<circle cx="390.68" cy="904.40" r="3.7" fill="#ee0000" stroke="#300" stroke-width="0.7"/>
<circle cx="394.83" cy="856.40" r="3.7" fill="#ee0000" stroke="#300" stroke-width="0.7"/>
<circle cx="398.98" cy="872.90" r="3.7" fill="#ee0000" stroke="#300" stroke-width="0.7"/>
<circle cx="403.13" cy="876.80" r="3.7" fill="#ee0000" stroke="#300" stroke-width="0.7"/>
<circle cx="407.28" cy="877.80" r="3.7" fill="#ee0000" stroke="#300" stroke-width="0.7"/>
<circle cx="411.43" cy="889.20" r="3.7" fill="#ee0000" stroke="#300" stroke-width="0.7"/>
<circle cx="415.58" cy="895.40" r="3.7" fill="#ee0000" stroke="#300" stroke-width="0.7"/>
<circle cx="419.73" cy="866.30" r="3.7" fill="#ee0000" stroke="#300" stroke-width="0.7"/>
<circle cx="423.88" cy="867.20" r="3.7" fill="#ee0000" stroke="#300" stroke-width="0.7"/>
<circle cx="428.03" cy="852.70" r="3.7" fill="#ee0000" stroke="#300" stroke-width="0.7"/>
<circle cx="432.18" cy="879.10" r="3.7" fill="#ee0000" stroke="#300" stroke-width="0.7"/>
<circle cx="436.33" cy="889.80" r="3.7" fill="#ee0000" stroke="#300" stroke-width="0.7"/>
<circle cx="440.48" cy="878.70" r="3.7" fill="#ee0000" stroke="#300" stroke-width="0.7"/>
<circle cx="444.63" cy="886.10" r="3.7" fill="#ee0000" stroke="#300" stroke-width="0.7"/>
<circle cx="448.78" cy="866.90" r="3.7" fill="#ee0000" stroke="#300" stroke-width="0.7"/>
<circle cx="452.93" cy="870.60" r="3.7" fill="#ee0000" stroke="#300" stroke-width="0.7"/>
<circle cx="457.08" cy="891.40" r="3.7" fill="#ee0000" stroke="#300" stroke-width="0.7"/>
<circle cx="461.23" cy="890.50" r="3.7" fill="#ee0000" stroke="#300" stroke-width="0.7"/>
<circle cx="465.38" cy="897.30" r="3.7" fill="#ee0000" stroke="#300" stroke-width="0.7"/>
<circle cx="469.53" cy="887.70" r="3.7" fill="#ee0000" stroke="#300" stroke-width="0.7"/>
<circle cx="473.68" cy="846.80" r="3.7" fill="#ee0000" stroke="#300" stroke-width="0.7"/>
<circle cx="477.83" cy="863.20" r="3.7" fill="#ee0000" stroke="#300" stroke-width="0.7"/>
<circle cx="481.98" cy="852.60" r="3.7" fill="#ee0000" stroke="#300" stroke-width="0.7"/>
<circle cx="486.13" cy="860.00" r="3.7" fill="#ee0000" stroke="#300" stroke-width="0.7"/>
<circle cx="490.28" cy="881.70" r="3.7" fill="#ee0000" stroke="#300" stroke-width="0.7"/>
<circle cx="494.43" cy="895.10" r="3.7" fill="#ee0000" stroke="#300" stroke-width="0.7"/>
<circle cx="498.58" cy="888.50" r="3.7" fill="#ee0000" stroke="#300" stroke-width="0.7"/>
<circle cx="502.73" cy="887.60" r="3.7" fill="#ee0000" stroke="#300" stroke-width="0.7"/>
<circle cx="506.88" cy="856.90" r="3.7" fill="#ee0000" stroke="#300" stroke-width="0.7"/>
<circle cx="511.03" cy="860.60" r="3.7" fill="#ee0000" stroke="#300" stroke-width="0.7"/>
<circle cx="515.18" cy="862.90" r="3.7" fill="#ee0000" stroke="#300" stroke-width="0.7"/>
<circle cx="519.33" cy="852.60" r="3.7" fill="#ee0000" stroke="#300" stroke-width="0.7"/>
<circle cx="523.47" cy="867.10" r="3.7" fill="#ee0000" stroke="#300" stroke-width="0.7"/>
<circle cx="527.62" cy="864.10" r="3.7" fill="#ee0000" stroke="#300" stroke-width="0.7"/>
<circle cx="531.77" cy="879.00" r="3.7" fill="#ee0000" stroke="#300" stroke-width="0.7"/>
<circle cx="535.92" cy="884.80" r="3.7" fill="#ee0000" stroke="#300" stroke-width="0.7"/>
<circle cx="540.07" cy="863.10" r="3.7" fill="#ee0000" stroke="#300" stroke-width="0.7"/>
<circle cx="544.22" cy="857.50" r="3.7" fill="#ee0000" stroke="#300" stroke-width="0.7"/>
<circle cx="548.37" cy="829.40" r="3.7" fill="#ee0000" stroke="#300" stroke-width="0.7"/>
<circle cx="552.52" cy="848.20" r="3.7" fill="#ee0000" stroke="#300" stroke-width="0.7"/>
<circle cx="556.67" cy="839.60" r="3.7" fill="#ee0000" stroke="#300" stroke-width="0.7"/>
<circle cx="560.82" cy="836.80" r="3.7" fill="#ee0000" stroke="#300" stroke-width="0.7"/>
<circle cx="564.97" cy="853.80" r="3.7" fill="#ee0000" stroke="#300" stroke-width="0.7"/>
<circle cx="569.12" cy="866.80" r="3.7" fill="#ee0000" stroke="#300" stroke-width="0.7"/>
<circle cx="573.27" cy="892.30" r="3.7" fill="#ee0000" stroke="#300" stroke-width="0.7"/>
<circle cx="577.42" cy="901.00" r="3.7" fill="#ee0000" stroke="#300" stroke-width="0.7"/>
<circle cx="581.57" cy="908.00" r="3.7" fill="#ee0000" stroke="#300" stroke-width="0.7"/>
<circle cx="585.72" cy="917.20" r="3.7" fill="#ee0000" stroke="#300" stroke-width="0.7"/>
<circle cx="589.87" cy="907.10" r="3.7" fill="#ee0000" stroke="#300" stroke-width="0.7"/>
<circle cx="594.02" cy="867.60" r="3.7" fill="#ee0000" stroke="#300" stroke-width="0.7"/>
<circle cx="598.17" cy="865.80" r="3.7" fill="#ee0000" stroke="#300" stroke-width="0.7"/>
<circle cx="602.32" cy="838.40" r="3.7" fill="#ee0000" stroke="#300" stroke-width="0.7"/>
<circle cx="606.47" cy="824.20" r="3.7" fill="#ee0000" stroke="#300" stroke-width="0.7"/>
<circle cx="610.62" cy="806.90" r="3.7" fill="#ee0000" stroke="#300" stroke-width="0.7"/>
<circle cx="614.77" cy="815.40" r="3.7" fill="#ee0000" stroke="#300" stroke-width="0.7"/>
<circle cx="618.92" cy="801.60" r="3.7" fill="#ee0000" stroke="#300" stroke-width="0.7"/>
<circle cx="623.07" cy="825.70" r="3.7" fill="#ee0000" stroke="#300" stroke-width="0.7"/>
<circle cx="627.22" cy="866.40" r="3.7" fill="#ee0000" stroke="#300" stroke-width="0.7"/>
<circle cx="631.37" cy="895.90" r="3.7" fill="#ee0000" stroke="#300" stroke-width="0.7"/>
<circle cx="635.52" cy="923.70" r="3.7" fill="#ee0000" stroke="#300" stroke-width="0.7"/>
<circle cx="639.67" cy="952.60" r="3.7" fill="#ee0000" stroke="#300" stroke-width="0.7"/>
<circle cx="643.82" cy="979.60" r="3.7" fill="#ee0000" stroke="#300" stroke-width="0.7"/>
<circle cx="647.97" cy="954.90" r="3.7" fill="#ee0000" stroke="#300" stroke-width="0.7"/>
<circle cx="652.12" cy="944.20" r="3.7" fill="#ee0000" stroke="#300" stroke-width="0.7"/>
<circle cx="656.27" cy="906.30" r="3.7" fill="#ee0000" stroke="#300" stroke-width="0.7"/>
<circle cx="660.42" cy="850.70" r="3.7" fill="#ee0000" stroke="#300" stroke-width="0.7"/>
<circle cx="664.57" cy="813.40" r="3.7" fill="#ee0000" stroke="#300" stroke-width="0.7"/>
<circle cx="668.72" cy="767.40" r="3.7" fill="#ee0000" stroke="#300" stroke-width="0.7"/>
<circle cx="672.87" cy="732.00" r="3.7" fill="#ee0000" stroke="#300" stroke-width="0.7"/>
<circle cx="677.02" cy="755.40" r="3.7" fill="#ee0000" stroke="#300" stroke-width="0.7"/>
<circle cx="681.17" cy="802.30" r="3.7" fill="#ee0000" stroke="#300" stroke-width="0.7"/>
<circle cx="685.32" cy="854.20" r="3.7" fill="#ee0000" stroke="#300" stroke-width="0.7"/>
<circle cx="689.46" cy="929.50" r="3.7" fill="#ee0000" stroke="#300" stroke-width="0.7"/>
<circle cx="693.61" cy="962.40" r="3.7" fill="#ee0000" stroke="#300" stroke-width="0.7"/>
<circle cx="697.76" cy="940.50" r="3.7" fill="#ee0000" stroke="#300" stroke-width="0.7"/>
<circle cx="701.91" cy="914.40" r="3.7" fill="#ee0000" stroke="#300" stroke-width="0.7"/>
<circle cx="706.06" cy="836.50" r="3.7" fill="#ee0000" stroke="#300" stroke-width="0.7"/>
<circle cx="710.21" cy="792.20" r="3.7" fill="#ee0000" stroke="#300" stroke-width="0.7"/>
<circle cx="714.36" cy="743.90" r="3.7" fill="#ee0000" stroke="#300" stroke-width="0.7"/>
<circle cx="718.51" cy="772.70" r="3.7" fill="#ee0000" stroke="#300" stroke-width="0.7"/>
<circle cx="722.66" cy="808.10" r="3.7" fill="#ee0000" stroke="#300" stroke-width="0.7"/>
<circle cx="726.81" cy="897.80" r="3.7" fill="#ee0000" stroke="#300" stroke-width="0.7"/>
<circle cx="730.96" cy="913.20" r="3.7" fill="#ee0000" stroke="#300" stroke-width="0.7"/>
<circle cx="735.11" cy="933.00" r="3.7" fill="#ee0000" stroke="#300" stroke-width="0.7"/>
<circle cx="739.26" cy="897.00" r="3.7" fill="#ee0000" stroke="#300" stroke-width="0.7"/>
<circle cx="743.41" cy="828.00" r="3.7" fill="#ee0000" stroke="#300" stroke-width="0.7"/>
<circle cx="747.56" cy="801.80" r="3.7" fill="#ee0000" stroke="#300" stroke-width="0.7"/>
<circle cx="751.71" cy="806.60" r="3.7" fill="#ee0000" stroke="#300" stroke-width="0.7"/>
<circle cx="755.86" cy="835.10" r="3.7" fill="#ee0000" stroke="#300" stroke-width="0.7"/>
<circle cx="760.01" cy="894.40" r="3.7" fill="#ee0000" stroke="#300" stroke-width="0.7"/>
<circle cx="764.16" cy="916.20" r="3.7" fill="#ee0000" stroke="#300" stroke-width="0.7"/>
<circle cx="768.31" cy="902.40" r="3.7" fill="#ee0000" stroke="#300" stroke-width="0.7"/>
<circle cx="772.46" cy="859.00" r="3.7" fill="#ee0000" stroke="#300" stroke-width="0.7"/>
<circle cx="776.61" cy="800.50" r="3.7" fill="#ee0000" stroke="#300" stroke-width="0.7"/>
<circle cx="780.76" cy="805.40" r="3.7" fill="#ee0000" stroke="#300" stroke-width="0.7"/>
<circle cx="784.91" cy="828.80" r="3.7" fill="#ee0000" stroke="#300" stroke-width="0.7"/>
<circle cx="789.06" cy="873.40" r="3.7" fill="#ee0000" stroke="#300" stroke-width="0.7"/>
<circle cx="793.21" cy="906.00" r="3.7" fill="#ee0000" stroke="#300" stroke-width="0.7"/>
<circle cx="797.36" cy="862.10" r="3.7" fill="#ee0000" stroke="#300" stroke-width="0.7"/>
<circle cx="801.51" cy="843.90" r="3.7" fill="#ee0000" stroke="#300" stroke-width="0.7"/>
<circle cx="805.66" cy="813.20" r="3.7" fill="#ee0000" stroke="#300" stroke-width="0.7"/>
<circle cx="809.81" cy="823.10" r="3.7" fill="#ee0000" stroke="#300" stroke-width="0.7"/>
<circle cx="813.96" cy="859.50" r="3.7" fill="#ee0000" stroke="#300" stroke-width="0.7"/>
<circle cx="818.11" cy="874.10" r="3.7" fill="#ee0000" stroke="#300" stroke-width="0.7"/>
<circle cx="822.26" cy="880.50" r="3.7" fill="#ee0000" stroke="#300" stroke-width="0.7"/>
<circle cx="826.41" cy="852.90" r="3.7" fill="#ee0000" stroke="#300" stroke-width="0.7"/>
<circle cx="830.56" cy="824.10" r="3.7" fill="#ee0000" stroke="#300" stroke-width="0.7"/>
<circle cx="834.71" cy="814.20" r="3.7" fill="#ee0000" stroke="#300" stroke-width="0.7"/>
<circle cx="838.86" cy="820.50" r="3.7" fill="#ee0000" stroke="#300" stroke-width="0.7"/>
<circle cx="843.01" cy="864.60" r="3.7" fill="#ee0000" stroke="#300" stroke-width="0.7"/>
<circle cx="847.16" cy="884.00" r="3.7" fill="#ee0000" stroke="#300" stroke-width="0.7"/>
<circle cx="851.31" cy="839.20" r="3.7" fill="#ee0000" stroke="#300" stroke-width="0.7"/>
<circle cx="855.45" cy="833.70" r="3.7" fill="#ee0000" stroke="#300" stroke-width="0.7"/>
<circle cx="859.60" cy="803.70" r="3.7" fill="#ee0000" stroke="#300" stroke-width="0.7"/>
<circle cx="863.75" cy="823.10" r="3.7" fill="#ee0000" stroke="#300" stroke-width="0.7"/>
<circle cx="867.90" cy="899.20" r="3.7" fill="#ee0000" stroke="#300" stroke-width="0.7"/>
<circle cx="872.05" cy="867.00" r="3.7" fill="#ee0000" stroke="#300" stroke-width="0.7"/>
<circle cx="876.20" cy="850.00" r="3.7" fill="#ee0000" stroke="#300" stroke-width="0.7"/>
<circle cx="880.35" cy="830.90" r="3.7" fill="#ee0000" stroke="#300" stroke-width="0.7"/>
<circle cx="884.50" cy="798.30" r="3.7" fill="#ee0000" stroke="#300" stroke-width="0.7"/>
<circle cx="888.65" cy="823.10" r="3.7" fill="#ee0000" stroke="#300" stroke-width="0.7"/>
<circle cx="892.80" cy="865.60" r="3.7" fill="#ee0000" stroke="#300" stroke-width="0.7"/>
<circle cx="896.95" cy="856.40" r="3.7" fill="#ee0000" stroke="#300" stroke-width="0.7"/>
<circle cx="901.10" cy="878.80" r="3.7" fill="#ee0000" stroke="#300" stroke-width="0.7"/>
<circle cx="905.25" cy="863.50" r="3.7" fill="#ee0000" stroke="#300" stroke-width="0.7"/>
<circle cx="909.40" cy="812.80" r="3.7" fill="#ee0000" stroke="#300" stroke-width="0.7"/>
<circle cx="913.55" cy="825.00" r="3.7" fill="#ee0000" stroke="#300" stroke-width="0.7"/>
<circle cx="917.70" cy="856.40" r="3.7" fill="#ee0000" stroke="#300" stroke-width="0.7"/>
<circle cx="921.85" cy="866.00" r="3.7" fill="#ee0000" stroke="#300" stroke-width="0.7"/>
<circle cx="926.00" cy="867.50" r="3.7" fill="#ee0000" stroke="#300" stroke-width="0.7"/>
<circle cx="930.15" cy="840.10" r="3.7" fill="#ee0000" stroke="#300" stroke-width="0.7"/>
<circle cx="934.30" cy="811.80" r="3.7" fill="#ee0000" stroke="#300" stroke-width="0.7"/>
<line x1="371.00" y1="734.40" x2="400.70" y2="734.40" stroke="#000" stroke-width="1.3" />
<line x1="371.00" y1="724.90" x2="371.00" y2="743.90" stroke="#000" stroke-width="1.2" />
<circle cx="371" cy="734.4" r="3.8" fill="#000" stroke="#000" stroke-width="0.6"/>
<line x1="400.70" y1="724.90" x2="400.70" y2="743.90" stroke="#000" stroke-width="1.2" />
<circle cx="400.7" cy="734.4" r="3.8" fill="#000" stroke="#000" stroke-width="0.6"/>
<line x1="371.00" y1="772.20" x2="400.70" y2="772.20" stroke="#e00000" stroke-width="1.3" />
<line x1="371.00" y1="762.70" x2="371.00" y2="781.70" stroke="#e00000" stroke-width="1.2" />
<circle cx="371" cy="772.2" r="3.8" fill="#e00000" stroke="#700" stroke-width="0.6"/>
<line x1="400.70" y1="762.70" x2="400.70" y2="781.70" stroke="#e00000" stroke-width="1.2" />
<circle cx="400.7" cy="772.2" r="3.8" fill="#e00000" stroke="#700" stroke-width="0.6"/>
<rect x="108.50" y="291.10" width="825.90" height="350.30" fill="none" stroke="#000" stroke-width="1.8"/>
<line x1="108.50" y1="379.10" x2="120.20" y2="379.10" stroke="#000" stroke-width="1.7" />
<line x1="108.50" y1="466.50" x2="120.20" y2="466.50" stroke="#000" stroke-width="1.7" />
<line x1="108.50" y1="554.90" x2="120.20" y2="554.90" stroke="#000" stroke-width="1.7" />
<line x1="274.10" y1="641.40" x2="274.10" y2="629.70" stroke="#000" stroke-width="1.7" />
<line x1="439.40" y1="641.40" x2="439.40" y2="629.70" stroke="#000" stroke-width="1.7" />
<line x1="605.00" y1="641.40" x2="605.00" y2="629.70" stroke="#000" stroke-width="1.7" />
<line x1="770.40" y1="641.40" x2="770.40" y2="629.70" stroke="#000" stroke-width="1.7" />
<line x1="109.50" y1="466.50" x2="933.60" y2="466.50" stroke="#222" stroke-width="1.3" stroke-dasharray="4.1,2.27" stroke-dashoffset="0.2"/>
<rect x="108.50" y="692.10" width="825.90" height="350.00" fill="none" stroke="#000" stroke-width="1.8"/>
<line x1="108.50" y1="779.70" x2="120.20" y2="779.70" stroke="#000" stroke-width="1.7" />
<line x1="108.50" y1="867.30" x2="120.20" y2="867.30" stroke="#000" stroke-width="1.7" />
<line x1="108.50" y1="955.60" x2="120.20" y2="955.60" stroke="#000" stroke-width="1.7" />
<line x1="274.10" y1="1042.10" x2="274.10" y2="1030.40" stroke="#000" stroke-width="1.7" />
<line x1="439.40" y1="1042.10" x2="439.40" y2="1030.40" stroke="#000" stroke-width="1.7" />
<line x1="605.00" y1="1042.10" x2="605.00" y2="1030.40" stroke="#000" stroke-width="1.7" />
<line x1="770.40" y1="1042.10" x2="770.40" y2="1030.40" stroke="#000" stroke-width="1.7" />
<line x1="934.40" y1="798.40" x2="922.70" y2="798.40" stroke="#000" stroke-width="1.7" />
<line x1="934.40" y1="920.20" x2="922.70" y2="920.20" stroke="#000" stroke-width="1.7" />
<line x1="109.50" y1="867.30" x2="933.60" y2="867.30" stroke="#222" stroke-width="1.3" stroke-dasharray="4.1,2.27" stroke-dashoffset="0.2"/>
</svg></body></html>
